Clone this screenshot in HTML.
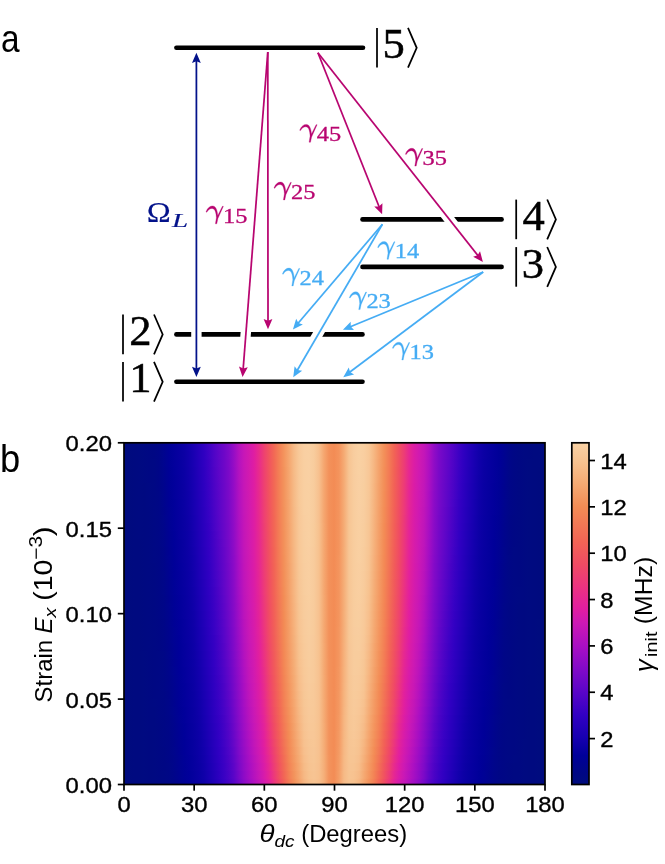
<!DOCTYPE html>
<html><head><meta charset="utf-8"><title>figure</title>
<style>html,body{margin:0;padding:0;background:#fff}body{width:665px;height:864px;overflow:hidden;font-family:"Liberation Sans",sans-serif}</style>
</head><body>

<svg width="665" height="864" viewBox="0 0 665 864" style="display:block;will-change:transform">
<defs>
<linearGradient id="g0" x1="0" x2="1" y1="0" y2="0"><stop offset="0.0000" stop-color="#000b7f"/><stop offset="0.0119" stop-color="#000b7f"/><stop offset="0.0238" stop-color="#000a80"/><stop offset="0.0356" stop-color="#000a81"/><stop offset="0.0475" stop-color="#000982"/><stop offset="0.0594" stop-color="#000883"/><stop offset="0.0713" stop-color="#000784"/><stop offset="0.0831" stop-color="#000687"/><stop offset="0.0950" stop-color="#00038f"/><stop offset="0.1069" stop-color="#000197"/><stop offset="0.1188" stop-color="#03009c"/><stop offset="0.1306" stop-color="#0700a0"/><stop offset="0.1425" stop-color="#0b00a5"/><stop offset="0.1544" stop-color="#1200ac"/><stop offset="0.1663" stop-color="#1b00b3"/><stop offset="0.1781" stop-color="#2500ba"/><stop offset="0.1900" stop-color="#3000c1"/><stop offset="0.2019" stop-color="#3f02c5"/><stop offset="0.2138" stop-color="#5004c7"/><stop offset="0.2257" stop-color="#6006c8"/><stop offset="0.2375" stop-color="#6e07c8"/><stop offset="0.2494" stop-color="#7e0ac8"/><stop offset="0.2613" stop-color="#980dc5"/><stop offset="0.2732" stop-color="#b512be"/><stop offset="0.2850" stop-color="#c717b7"/><stop offset="0.2969" stop-color="#d31aae"/><stop offset="0.3088" stop-color="#df1ea2"/><stop offset="0.3207" stop-color="#e82c8b"/><stop offset="0.3325" stop-color="#ee4170"/><stop offset="0.3444" stop-color="#f1545f"/><stop offset="0.3563" stop-color="#f26955"/><stop offset="0.3682" stop-color="#f38055"/><stop offset="0.3800" stop-color="#f4945d"/><stop offset="0.3919" stop-color="#f5a770"/><stop offset="0.4038" stop-color="#f6bb88"/><stop offset="0.4157" stop-color="#f8c99a"/><stop offset="0.4276" stop-color="#f9cfa2"/><stop offset="0.4394" stop-color="#f9d0a3"/><stop offset="0.4513" stop-color="#f8cc9d"/><stop offset="0.4632" stop-color="#f7c08e"/><stop offset="0.4751" stop-color="#f5a66f"/><stop offset="0.4869" stop-color="#f3915a"/><stop offset="0.4988" stop-color="#f38c55"/><stop offset="0.5107" stop-color="#f4945d"/><stop offset="0.5226" stop-color="#f5ab74"/><stop offset="0.5344" stop-color="#f7c593"/><stop offset="0.5463" stop-color="#f8cd9f"/><stop offset="0.5582" stop-color="#f9d1a3"/><stop offset="0.5701" stop-color="#f9cfa0"/><stop offset="0.5819" stop-color="#f8c897"/><stop offset="0.5938" stop-color="#f6b782"/><stop offset="0.6057" stop-color="#f5a36c"/><stop offset="0.6176" stop-color="#f39059"/><stop offset="0.6295" stop-color="#f37c55"/><stop offset="0.6413" stop-color="#f26455"/><stop offset="0.6532" stop-color="#f05061"/><stop offset="0.6651" stop-color="#ed3d75"/><stop offset="0.6770" stop-color="#e62891"/><stop offset="0.6888" stop-color="#dc1da5"/><stop offset="0.7007" stop-color="#d01ab1"/><stop offset="0.7126" stop-color="#c416b8"/><stop offset="0.7245" stop-color="#b011c1"/><stop offset="0.7363" stop-color="#920cc6"/><stop offset="0.7482" stop-color="#7b09c8"/><stop offset="0.7601" stop-color="#6b07c8"/><stop offset="0.7720" stop-color="#5d05c8"/><stop offset="0.7838" stop-color="#4e03c6"/><stop offset="0.7957" stop-color="#3d01c4"/><stop offset="0.8076" stop-color="#2e00c0"/><stop offset="0.8195" stop-color="#2400b9"/><stop offset="0.8314" stop-color="#1a00b3"/><stop offset="0.8432" stop-color="#1100ab"/><stop offset="0.8551" stop-color="#0b00a4"/><stop offset="0.8670" stop-color="#0700a0"/><stop offset="0.8789" stop-color="#03009d"/><stop offset="0.8907" stop-color="#000098"/><stop offset="0.9026" stop-color="#000391"/><stop offset="0.9145" stop-color="#00058a"/><stop offset="0.9264" stop-color="#000785"/><stop offset="0.9382" stop-color="#000883"/><stop offset="0.9501" stop-color="#000982"/><stop offset="0.9620" stop-color="#000981"/><stop offset="0.9739" stop-color="#000a80"/><stop offset="0.9857" stop-color="#000a80"/><stop offset="0.9976" stop-color="#000b7f"/><stop offset="1.0000" stop-color="#000b7f"/></linearGradient>
<linearGradient id="g1" x1="0" x2="1" y1="0" y2="0"><stop offset="0.0000" stop-color="#000b7f"/><stop offset="0.0119" stop-color="#000b7f"/><stop offset="0.0238" stop-color="#000a80"/><stop offset="0.0356" stop-color="#000a81"/><stop offset="0.0475" stop-color="#000982"/><stop offset="0.0594" stop-color="#000883"/><stop offset="0.0713" stop-color="#000784"/><stop offset="0.0831" stop-color="#000687"/><stop offset="0.0950" stop-color="#00048f"/><stop offset="0.1069" stop-color="#000197"/><stop offset="0.1188" stop-color="#03009c"/><stop offset="0.1306" stop-color="#0700a0"/><stop offset="0.1425" stop-color="#0b00a4"/><stop offset="0.1544" stop-color="#1100ab"/><stop offset="0.1663" stop-color="#1a00b3"/><stop offset="0.1781" stop-color="#2500ba"/><stop offset="0.1900" stop-color="#2f00c1"/><stop offset="0.2019" stop-color="#3e02c5"/><stop offset="0.2138" stop-color="#4f04c7"/><stop offset="0.2257" stop-color="#5f06c8"/><stop offset="0.2375" stop-color="#6d07c8"/><stop offset="0.2494" stop-color="#7e0ac8"/><stop offset="0.2613" stop-color="#970dc5"/><stop offset="0.2732" stop-color="#b412bf"/><stop offset="0.2850" stop-color="#c717b7"/><stop offset="0.2969" stop-color="#d21aaf"/><stop offset="0.3088" stop-color="#df1da2"/><stop offset="0.3207" stop-color="#e82c8b"/><stop offset="0.3325" stop-color="#ee4170"/><stop offset="0.3444" stop-color="#f1545f"/><stop offset="0.3563" stop-color="#f26955"/><stop offset="0.3682" stop-color="#f38055"/><stop offset="0.3800" stop-color="#f4945d"/><stop offset="0.3919" stop-color="#f5a770"/><stop offset="0.4038" stop-color="#f6bb87"/><stop offset="0.4157" stop-color="#f8c999"/><stop offset="0.4276" stop-color="#f9cfa2"/><stop offset="0.4394" stop-color="#f9d0a3"/><stop offset="0.4513" stop-color="#f8cc9d"/><stop offset="0.4632" stop-color="#f7c08e"/><stop offset="0.4751" stop-color="#f5a66f"/><stop offset="0.4869" stop-color="#f3915a"/><stop offset="0.4988" stop-color="#f38c55"/><stop offset="0.5107" stop-color="#f4945d"/><stop offset="0.5226" stop-color="#f5ab74"/><stop offset="0.5344" stop-color="#f7c593"/><stop offset="0.5463" stop-color="#f8cd9f"/><stop offset="0.5582" stop-color="#f9d1a3"/><stop offset="0.5701" stop-color="#f9cea0"/><stop offset="0.5819" stop-color="#f8c897"/><stop offset="0.5938" stop-color="#f6b782"/><stop offset="0.6057" stop-color="#f5a36c"/><stop offset="0.6176" stop-color="#f39059"/><stop offset="0.6295" stop-color="#f37b55"/><stop offset="0.6413" stop-color="#f26455"/><stop offset="0.6532" stop-color="#f05061"/><stop offset="0.6651" stop-color="#ed3d75"/><stop offset="0.6770" stop-color="#e62891"/><stop offset="0.6888" stop-color="#dc1da5"/><stop offset="0.7007" stop-color="#d01ab1"/><stop offset="0.7126" stop-color="#c416b8"/><stop offset="0.7245" stop-color="#af10c1"/><stop offset="0.7363" stop-color="#910cc6"/><stop offset="0.7482" stop-color="#7a09c8"/><stop offset="0.7601" stop-color="#6b07c8"/><stop offset="0.7720" stop-color="#5d05c8"/><stop offset="0.7838" stop-color="#4d03c6"/><stop offset="0.7957" stop-color="#3c01c4"/><stop offset="0.8076" stop-color="#2e00c0"/><stop offset="0.8195" stop-color="#2300b9"/><stop offset="0.8314" stop-color="#1900b2"/><stop offset="0.8432" stop-color="#1100aa"/><stop offset="0.8551" stop-color="#0b00a4"/><stop offset="0.8670" stop-color="#0700a0"/><stop offset="0.8789" stop-color="#03009c"/><stop offset="0.8907" stop-color="#000098"/><stop offset="0.9026" stop-color="#000391"/><stop offset="0.9145" stop-color="#000689"/><stop offset="0.9264" stop-color="#000785"/><stop offset="0.9382" stop-color="#000883"/><stop offset="0.9501" stop-color="#000982"/><stop offset="0.9620" stop-color="#000981"/><stop offset="0.9739" stop-color="#000a80"/><stop offset="0.9857" stop-color="#000a80"/><stop offset="0.9976" stop-color="#000b7f"/><stop offset="1.0000" stop-color="#000b7f"/></linearGradient>
<linearGradient id="g2" x1="0" x2="1" y1="0" y2="0"><stop offset="0.0000" stop-color="#000b7f"/><stop offset="0.0119" stop-color="#000b7f"/><stop offset="0.0238" stop-color="#000a80"/><stop offset="0.0356" stop-color="#000a81"/><stop offset="0.0475" stop-color="#000982"/><stop offset="0.0594" stop-color="#000883"/><stop offset="0.0713" stop-color="#000884"/><stop offset="0.0831" stop-color="#000687"/><stop offset="0.0950" stop-color="#00048f"/><stop offset="0.1069" stop-color="#000197"/><stop offset="0.1188" stop-color="#03009c"/><stop offset="0.1306" stop-color="#0600a0"/><stop offset="0.1425" stop-color="#0b00a4"/><stop offset="0.1544" stop-color="#1100ab"/><stop offset="0.1663" stop-color="#1a00b3"/><stop offset="0.1781" stop-color="#2400ba"/><stop offset="0.1900" stop-color="#2f00c1"/><stop offset="0.2019" stop-color="#3d01c4"/><stop offset="0.2138" stop-color="#4f04c7"/><stop offset="0.2257" stop-color="#5e06c8"/><stop offset="0.2375" stop-color="#6d07c8"/><stop offset="0.2494" stop-color="#7e09c8"/><stop offset="0.2613" stop-color="#970dc5"/><stop offset="0.2732" stop-color="#b412bf"/><stop offset="0.2850" stop-color="#c717b7"/><stop offset="0.2969" stop-color="#d21aaf"/><stop offset="0.3088" stop-color="#df1da2"/><stop offset="0.3207" stop-color="#e82c8c"/><stop offset="0.3325" stop-color="#ee4171"/><stop offset="0.3444" stop-color="#f1545f"/><stop offset="0.3563" stop-color="#f26855"/><stop offset="0.3682" stop-color="#f38055"/><stop offset="0.3800" stop-color="#f4945d"/><stop offset="0.3919" stop-color="#f5a770"/><stop offset="0.4038" stop-color="#f6bb87"/><stop offset="0.4157" stop-color="#f8c999"/><stop offset="0.4276" stop-color="#f9cfa1"/><stop offset="0.4394" stop-color="#f9d0a3"/><stop offset="0.4513" stop-color="#f8cc9d"/><stop offset="0.4632" stop-color="#f7c08e"/><stop offset="0.4751" stop-color="#f5a66f"/><stop offset="0.4869" stop-color="#f3915a"/><stop offset="0.4988" stop-color="#f38c55"/><stop offset="0.5107" stop-color="#f4945d"/><stop offset="0.5226" stop-color="#f5ab74"/><stop offset="0.5344" stop-color="#f7c593"/><stop offset="0.5463" stop-color="#f8cd9f"/><stop offset="0.5582" stop-color="#f9d1a3"/><stop offset="0.5701" stop-color="#f9cea0"/><stop offset="0.5819" stop-color="#f8c797"/><stop offset="0.5938" stop-color="#f6b682"/><stop offset="0.6057" stop-color="#f4a26b"/><stop offset="0.6176" stop-color="#f39059"/><stop offset="0.6295" stop-color="#f37b55"/><stop offset="0.6413" stop-color="#f26455"/><stop offset="0.6532" stop-color="#f05061"/><stop offset="0.6651" stop-color="#ed3c76"/><stop offset="0.6770" stop-color="#e62792"/><stop offset="0.6888" stop-color="#dc1da5"/><stop offset="0.7007" stop-color="#d01ab1"/><stop offset="0.7126" stop-color="#c316b8"/><stop offset="0.7245" stop-color="#ae10c1"/><stop offset="0.7363" stop-color="#900cc6"/><stop offset="0.7482" stop-color="#7a09c8"/><stop offset="0.7601" stop-color="#6a07c8"/><stop offset="0.7720" stop-color="#5c05c8"/><stop offset="0.7838" stop-color="#4c03c6"/><stop offset="0.7957" stop-color="#3b01c4"/><stop offset="0.8076" stop-color="#2d00c0"/><stop offset="0.8195" stop-color="#2300b9"/><stop offset="0.8314" stop-color="#1900b2"/><stop offset="0.8432" stop-color="#1000aa"/><stop offset="0.8551" stop-color="#0a00a4"/><stop offset="0.8670" stop-color="#0600a0"/><stop offset="0.8789" stop-color="#03009c"/><stop offset="0.8907" stop-color="#000098"/><stop offset="0.9026" stop-color="#000391"/><stop offset="0.9145" stop-color="#000689"/><stop offset="0.9264" stop-color="#000785"/><stop offset="0.9382" stop-color="#000883"/><stop offset="0.9501" stop-color="#000982"/><stop offset="0.9620" stop-color="#000a81"/><stop offset="0.9739" stop-color="#000a80"/><stop offset="0.9857" stop-color="#000a80"/><stop offset="0.9976" stop-color="#000b7f"/><stop offset="1.0000" stop-color="#000b7f"/></linearGradient>
<linearGradient id="g3" x1="0" x2="1" y1="0" y2="0"><stop offset="0.0000" stop-color="#000b7f"/><stop offset="0.0119" stop-color="#000b7f"/><stop offset="0.0238" stop-color="#000a80"/><stop offset="0.0356" stop-color="#000a81"/><stop offset="0.0475" stop-color="#000982"/><stop offset="0.0594" stop-color="#000883"/><stop offset="0.0713" stop-color="#000884"/><stop offset="0.0831" stop-color="#000687"/><stop offset="0.0950" stop-color="#00048e"/><stop offset="0.1069" stop-color="#000196"/><stop offset="0.1188" stop-color="#02009c"/><stop offset="0.1306" stop-color="#0600a0"/><stop offset="0.1425" stop-color="#0a00a4"/><stop offset="0.1544" stop-color="#1100aa"/><stop offset="0.1663" stop-color="#1900b2"/><stop offset="0.1781" stop-color="#2400b9"/><stop offset="0.1900" stop-color="#2e00c0"/><stop offset="0.2019" stop-color="#3d01c4"/><stop offset="0.2138" stop-color="#4e03c6"/><stop offset="0.2257" stop-color="#5e05c8"/><stop offset="0.2375" stop-color="#6c07c8"/><stop offset="0.2494" stop-color="#7d09c8"/><stop offset="0.2613" stop-color="#960cc6"/><stop offset="0.2732" stop-color="#b312bf"/><stop offset="0.2850" stop-color="#c617b7"/><stop offset="0.2969" stop-color="#d21aaf"/><stop offset="0.3088" stop-color="#df1da2"/><stop offset="0.3207" stop-color="#e82b8c"/><stop offset="0.3325" stop-color="#ee4071"/><stop offset="0.3444" stop-color="#f1545f"/><stop offset="0.3563" stop-color="#f26855"/><stop offset="0.3682" stop-color="#f38055"/><stop offset="0.3800" stop-color="#f3935c"/><stop offset="0.3919" stop-color="#f5a66f"/><stop offset="0.4038" stop-color="#f6bb87"/><stop offset="0.4157" stop-color="#f8c999"/><stop offset="0.4276" stop-color="#f9cfa1"/><stop offset="0.4394" stop-color="#f9d0a3"/><stop offset="0.4513" stop-color="#f8cc9d"/><stop offset="0.4632" stop-color="#f7c08e"/><stop offset="0.4751" stop-color="#f5a66f"/><stop offset="0.4869" stop-color="#f3915a"/><stop offset="0.4988" stop-color="#f38c55"/><stop offset="0.5107" stop-color="#f4945d"/><stop offset="0.5226" stop-color="#f5ab74"/><stop offset="0.5344" stop-color="#f7c593"/><stop offset="0.5463" stop-color="#f8cd9f"/><stop offset="0.5582" stop-color="#f9d1a3"/><stop offset="0.5701" stop-color="#f8cea0"/><stop offset="0.5819" stop-color="#f8c797"/><stop offset="0.5938" stop-color="#f6b681"/><stop offset="0.6057" stop-color="#f4a26b"/><stop offset="0.6176" stop-color="#f38f58"/><stop offset="0.6295" stop-color="#f37b55"/><stop offset="0.6413" stop-color="#f26355"/><stop offset="0.6532" stop-color="#f04f61"/><stop offset="0.6651" stop-color="#ed3c76"/><stop offset="0.6770" stop-color="#e62792"/><stop offset="0.6888" stop-color="#db1da6"/><stop offset="0.7007" stop-color="#d01ab1"/><stop offset="0.7126" stop-color="#c316b8"/><stop offset="0.7245" stop-color="#ae10c1"/><stop offset="0.7363" stop-color="#900cc6"/><stop offset="0.7482" stop-color="#7909c8"/><stop offset="0.7601" stop-color="#6a07c8"/><stop offset="0.7720" stop-color="#5b05c8"/><stop offset="0.7838" stop-color="#4b03c6"/><stop offset="0.7957" stop-color="#3a01c4"/><stop offset="0.8076" stop-color="#2d00bf"/><stop offset="0.8195" stop-color="#2200b8"/><stop offset="0.8314" stop-color="#1800b2"/><stop offset="0.8432" stop-color="#1000aa"/><stop offset="0.8551" stop-color="#0a00a3"/><stop offset="0.8670" stop-color="#0600a0"/><stop offset="0.8789" stop-color="#03009c"/><stop offset="0.8907" stop-color="#000197"/><stop offset="0.9026" stop-color="#000390"/><stop offset="0.9145" stop-color="#000689"/><stop offset="0.9264" stop-color="#000785"/><stop offset="0.9382" stop-color="#000883"/><stop offset="0.9501" stop-color="#000982"/><stop offset="0.9620" stop-color="#000a81"/><stop offset="0.9739" stop-color="#000a80"/><stop offset="0.9857" stop-color="#000a7f"/><stop offset="0.9976" stop-color="#000b7f"/><stop offset="1.0000" stop-color="#000b7f"/></linearGradient>
<linearGradient id="g4" x1="0" x2="1" y1="0" y2="0"><stop offset="0.0000" stop-color="#000b7f"/><stop offset="0.0119" stop-color="#000b7f"/><stop offset="0.0238" stop-color="#000a80"/><stop offset="0.0356" stop-color="#000a81"/><stop offset="0.0475" stop-color="#000982"/><stop offset="0.0594" stop-color="#000883"/><stop offset="0.0713" stop-color="#000884"/><stop offset="0.0831" stop-color="#000687"/><stop offset="0.0950" stop-color="#00048e"/><stop offset="0.1069" stop-color="#000196"/><stop offset="0.1188" stop-color="#02009b"/><stop offset="0.1306" stop-color="#06009f"/><stop offset="0.1425" stop-color="#0a00a4"/><stop offset="0.1544" stop-color="#1000aa"/><stop offset="0.1663" stop-color="#1900b2"/><stop offset="0.1781" stop-color="#2300b9"/><stop offset="0.1900" stop-color="#2e00c0"/><stop offset="0.2019" stop-color="#3c01c4"/><stop offset="0.2138" stop-color="#4d03c6"/><stop offset="0.2257" stop-color="#5d05c8"/><stop offset="0.2375" stop-color="#6c07c8"/><stop offset="0.2494" stop-color="#7d09c8"/><stop offset="0.2613" stop-color="#950cc6"/><stop offset="0.2732" stop-color="#b312bf"/><stop offset="0.2850" stop-color="#c617b7"/><stop offset="0.2969" stop-color="#d21aaf"/><stop offset="0.3088" stop-color="#de1da3"/><stop offset="0.3207" stop-color="#e82b8c"/><stop offset="0.3325" stop-color="#ee4071"/><stop offset="0.3444" stop-color="#f1535f"/><stop offset="0.3563" stop-color="#f26855"/><stop offset="0.3682" stop-color="#f37f55"/><stop offset="0.3800" stop-color="#f3935c"/><stop offset="0.3919" stop-color="#f5a66f"/><stop offset="0.4038" stop-color="#f6ba87"/><stop offset="0.4157" stop-color="#f8c999"/><stop offset="0.4276" stop-color="#f9cfa1"/><stop offset="0.4394" stop-color="#f9d0a3"/><stop offset="0.4513" stop-color="#f8cc9d"/><stop offset="0.4632" stop-color="#f7c08e"/><stop offset="0.4751" stop-color="#f5a66f"/><stop offset="0.4869" stop-color="#f3915a"/><stop offset="0.4988" stop-color="#f38c55"/><stop offset="0.5107" stop-color="#f4945d"/><stop offset="0.5226" stop-color="#f5ab74"/><stop offset="0.5344" stop-color="#f7c594"/><stop offset="0.5463" stop-color="#f8cd9f"/><stop offset="0.5582" stop-color="#f9d0a3"/><stop offset="0.5701" stop-color="#f8cea0"/><stop offset="0.5819" stop-color="#f8c796"/><stop offset="0.5938" stop-color="#f6b681"/><stop offset="0.6057" stop-color="#f4a26b"/><stop offset="0.6176" stop-color="#f38f58"/><stop offset="0.6295" stop-color="#f37a55"/><stop offset="0.6413" stop-color="#f26356"/><stop offset="0.6532" stop-color="#f04f62"/><stop offset="0.6651" stop-color="#ed3c76"/><stop offset="0.6770" stop-color="#e52793"/><stop offset="0.6888" stop-color="#db1da6"/><stop offset="0.7007" stop-color="#cf1ab2"/><stop offset="0.7126" stop-color="#c316b8"/><stop offset="0.7245" stop-color="#ad10c2"/><stop offset="0.7363" stop-color="#8f0cc6"/><stop offset="0.7482" stop-color="#7909c8"/><stop offset="0.7601" stop-color="#6907c8"/><stop offset="0.7720" stop-color="#5a05c8"/><stop offset="0.7838" stop-color="#4a03c6"/><stop offset="0.7957" stop-color="#3901c4"/><stop offset="0.8076" stop-color="#2c00bf"/><stop offset="0.8195" stop-color="#2200b8"/><stop offset="0.8314" stop-color="#1800b1"/><stop offset="0.8432" stop-color="#0f00a9"/><stop offset="0.8551" stop-color="#0a00a3"/><stop offset="0.8670" stop-color="#06009f"/><stop offset="0.8789" stop-color="#03009c"/><stop offset="0.8907" stop-color="#000197"/><stop offset="0.9026" stop-color="#000390"/><stop offset="0.9145" stop-color="#000688"/><stop offset="0.9264" stop-color="#000785"/><stop offset="0.9382" stop-color="#000883"/><stop offset="0.9501" stop-color="#000982"/><stop offset="0.9620" stop-color="#000a81"/><stop offset="0.9739" stop-color="#000a80"/><stop offset="0.9857" stop-color="#000a7f"/><stop offset="0.9976" stop-color="#000b7f"/><stop offset="1.0000" stop-color="#000b7f"/></linearGradient>
<linearGradient id="g5" x1="0" x2="1" y1="0" y2="0"><stop offset="0.0000" stop-color="#000b7f"/><stop offset="0.0119" stop-color="#000b7f"/><stop offset="0.0238" stop-color="#000a80"/><stop offset="0.0356" stop-color="#000a81"/><stop offset="0.0475" stop-color="#000981"/><stop offset="0.0594" stop-color="#000983"/><stop offset="0.0713" stop-color="#000884"/><stop offset="0.0831" stop-color="#000687"/><stop offset="0.0950" stop-color="#00048d"/><stop offset="0.1069" stop-color="#000196"/><stop offset="0.1188" stop-color="#02009b"/><stop offset="0.1306" stop-color="#06009f"/><stop offset="0.1425" stop-color="#0a00a3"/><stop offset="0.1544" stop-color="#1000aa"/><stop offset="0.1663" stop-color="#1800b2"/><stop offset="0.1781" stop-color="#2300b8"/><stop offset="0.1900" stop-color="#2d00c0"/><stop offset="0.2019" stop-color="#3b01c4"/><stop offset="0.2138" stop-color="#4c03c6"/><stop offset="0.2257" stop-color="#5c05c8"/><stop offset="0.2375" stop-color="#6b07c8"/><stop offset="0.2494" stop-color="#7c09c8"/><stop offset="0.2613" stop-color="#950cc6"/><stop offset="0.2732" stop-color="#b211bf"/><stop offset="0.2850" stop-color="#c617b7"/><stop offset="0.2969" stop-color="#d21aaf"/><stop offset="0.3088" stop-color="#de1da3"/><stop offset="0.3207" stop-color="#e72b8d"/><stop offset="0.3325" stop-color="#ee4071"/><stop offset="0.3444" stop-color="#f1535f"/><stop offset="0.3563" stop-color="#f26855"/><stop offset="0.3682" stop-color="#f37f55"/><stop offset="0.3800" stop-color="#f3935c"/><stop offset="0.3919" stop-color="#f5a66f"/><stop offset="0.4038" stop-color="#f6ba86"/><stop offset="0.4157" stop-color="#f8c999"/><stop offset="0.4276" stop-color="#f9cfa1"/><stop offset="0.4394" stop-color="#f9d0a2"/><stop offset="0.4513" stop-color="#f8cc9d"/><stop offset="0.4632" stop-color="#f7c08e"/><stop offset="0.4751" stop-color="#f5a66f"/><stop offset="0.4869" stop-color="#f3915a"/><stop offset="0.4988" stop-color="#f38c55"/><stop offset="0.5107" stop-color="#f4945d"/><stop offset="0.5226" stop-color="#f5ab75"/><stop offset="0.5344" stop-color="#f7c594"/><stop offset="0.5463" stop-color="#f8cd9f"/><stop offset="0.5582" stop-color="#f9d0a3"/><stop offset="0.5701" stop-color="#f8ce9f"/><stop offset="0.5819" stop-color="#f8c796"/><stop offset="0.5938" stop-color="#f6b580"/><stop offset="0.6057" stop-color="#f4a16a"/><stop offset="0.6176" stop-color="#f38f58"/><stop offset="0.6295" stop-color="#f37a55"/><stop offset="0.6413" stop-color="#f26256"/><stop offset="0.6532" stop-color="#f04f62"/><stop offset="0.6651" stop-color="#ed3b77"/><stop offset="0.6770" stop-color="#e52693"/><stop offset="0.6888" stop-color="#db1ca6"/><stop offset="0.7007" stop-color="#cf1ab2"/><stop offset="0.7126" stop-color="#c216b9"/><stop offset="0.7245" stop-color="#ac10c2"/><stop offset="0.7363" stop-color="#8e0cc6"/><stop offset="0.7482" stop-color="#7809c8"/><stop offset="0.7601" stop-color="#6807c8"/><stop offset="0.7720" stop-color="#5905c8"/><stop offset="0.7838" stop-color="#4903c6"/><stop offset="0.7957" stop-color="#3801c4"/><stop offset="0.8076" stop-color="#2b00be"/><stop offset="0.8195" stop-color="#2100b7"/><stop offset="0.8314" stop-color="#1700b1"/><stop offset="0.8432" stop-color="#0f00a9"/><stop offset="0.8551" stop-color="#0900a3"/><stop offset="0.8670" stop-color="#06009f"/><stop offset="0.8789" stop-color="#02009b"/><stop offset="0.8907" stop-color="#000197"/><stop offset="0.9026" stop-color="#00038f"/><stop offset="0.9145" stop-color="#000688"/><stop offset="0.9264" stop-color="#000785"/><stop offset="0.9382" stop-color="#000883"/><stop offset="0.9501" stop-color="#000982"/><stop offset="0.9620" stop-color="#000a81"/><stop offset="0.9739" stop-color="#000a80"/><stop offset="0.9857" stop-color="#000a7f"/><stop offset="0.9976" stop-color="#000b7f"/><stop offset="1.0000" stop-color="#000b7f"/></linearGradient>
<linearGradient id="g6" x1="0" x2="1" y1="0" y2="0"><stop offset="0.0000" stop-color="#000b7f"/><stop offset="0.0119" stop-color="#000b7f"/><stop offset="0.0238" stop-color="#000a80"/><stop offset="0.0356" stop-color="#000a81"/><stop offset="0.0475" stop-color="#000981"/><stop offset="0.0594" stop-color="#000983"/><stop offset="0.0713" stop-color="#000884"/><stop offset="0.0831" stop-color="#000786"/><stop offset="0.0950" stop-color="#00048d"/><stop offset="0.1069" stop-color="#000195"/><stop offset="0.1188" stop-color="#02009b"/><stop offset="0.1306" stop-color="#06009f"/><stop offset="0.1425" stop-color="#0a00a3"/><stop offset="0.1544" stop-color="#0f00a9"/><stop offset="0.1663" stop-color="#1800b1"/><stop offset="0.1781" stop-color="#2200b8"/><stop offset="0.1900" stop-color="#2c00bf"/><stop offset="0.2019" stop-color="#3a01c4"/><stop offset="0.2138" stop-color="#4b03c6"/><stop offset="0.2257" stop-color="#5b05c8"/><stop offset="0.2375" stop-color="#6b07c8"/><stop offset="0.2494" stop-color="#7c09c8"/><stop offset="0.2613" stop-color="#940cc6"/><stop offset="0.2732" stop-color="#b211c0"/><stop offset="0.2850" stop-color="#c517b7"/><stop offset="0.2969" stop-color="#d11ab0"/><stop offset="0.3088" stop-color="#de1da3"/><stop offset="0.3207" stop-color="#e72a8d"/><stop offset="0.3325" stop-color="#ee4072"/><stop offset="0.3444" stop-color="#f1535f"/><stop offset="0.3563" stop-color="#f26755"/><stop offset="0.3682" stop-color="#f37f55"/><stop offset="0.3800" stop-color="#f3935c"/><stop offset="0.3919" stop-color="#f5a66f"/><stop offset="0.4038" stop-color="#f6ba86"/><stop offset="0.4157" stop-color="#f8c999"/><stop offset="0.4276" stop-color="#f9cfa1"/><stop offset="0.4394" stop-color="#f9d0a2"/><stop offset="0.4513" stop-color="#f8cc9d"/><stop offset="0.4632" stop-color="#f7c08e"/><stop offset="0.4751" stop-color="#f5a66f"/><stop offset="0.4869" stop-color="#f3915a"/><stop offset="0.4988" stop-color="#f38c55"/><stop offset="0.5107" stop-color="#f4945d"/><stop offset="0.5226" stop-color="#f5ab75"/><stop offset="0.5344" stop-color="#f7c594"/><stop offset="0.5463" stop-color="#f8cd9e"/><stop offset="0.5582" stop-color="#f9d0a3"/><stop offset="0.5701" stop-color="#f8ce9f"/><stop offset="0.5819" stop-color="#f7c796"/><stop offset="0.5938" stop-color="#f6b580"/><stop offset="0.6057" stop-color="#f4a16a"/><stop offset="0.6176" stop-color="#f38e57"/><stop offset="0.6295" stop-color="#f37955"/><stop offset="0.6413" stop-color="#f26256"/><stop offset="0.6532" stop-color="#f04e62"/><stop offset="0.6651" stop-color="#ed3b77"/><stop offset="0.6770" stop-color="#e52694"/><stop offset="0.6888" stop-color="#da1ca7"/><stop offset="0.7007" stop-color="#cf19b2"/><stop offset="0.7126" stop-color="#c216b9"/><stop offset="0.7245" stop-color="#ab0fc2"/><stop offset="0.7363" stop-color="#8d0bc7"/><stop offset="0.7482" stop-color="#7809c8"/><stop offset="0.7601" stop-color="#6707c8"/><stop offset="0.7720" stop-color="#5805c8"/><stop offset="0.7838" stop-color="#4803c6"/><stop offset="0.7957" stop-color="#3701c4"/><stop offset="0.8076" stop-color="#2b00be"/><stop offset="0.8195" stop-color="#2000b7"/><stop offset="0.8314" stop-color="#1700b1"/><stop offset="0.8432" stop-color="#0f00a8"/><stop offset="0.8551" stop-color="#0900a3"/><stop offset="0.8670" stop-color="#06009f"/><stop offset="0.8789" stop-color="#02009b"/><stop offset="0.8907" stop-color="#000196"/><stop offset="0.9026" stop-color="#00038f"/><stop offset="0.9145" stop-color="#000688"/><stop offset="0.9264" stop-color="#000785"/><stop offset="0.9382" stop-color="#000883"/><stop offset="0.9501" stop-color="#000982"/><stop offset="0.9620" stop-color="#000a81"/><stop offset="0.9739" stop-color="#000a80"/><stop offset="0.9857" stop-color="#000a7f"/><stop offset="0.9976" stop-color="#000b7f"/><stop offset="1.0000" stop-color="#000b7f"/></linearGradient>
<linearGradient id="g7" x1="0" x2="1" y1="0" y2="0"><stop offset="0.0000" stop-color="#000b7f"/><stop offset="0.0119" stop-color="#000b7f"/><stop offset="0.0238" stop-color="#000a80"/><stop offset="0.0356" stop-color="#000a81"/><stop offset="0.0475" stop-color="#000981"/><stop offset="0.0594" stop-color="#000983"/><stop offset="0.0713" stop-color="#000884"/><stop offset="0.0831" stop-color="#000786"/><stop offset="0.0950" stop-color="#00048d"/><stop offset="0.1069" stop-color="#000195"/><stop offset="0.1188" stop-color="#01009a"/><stop offset="0.1306" stop-color="#05009f"/><stop offset="0.1425" stop-color="#0900a3"/><stop offset="0.1544" stop-color="#0f00a9"/><stop offset="0.1663" stop-color="#1700b1"/><stop offset="0.1781" stop-color="#2100b8"/><stop offset="0.1900" stop-color="#2c00bf"/><stop offset="0.2019" stop-color="#3901c4"/><stop offset="0.2138" stop-color="#4a03c6"/><stop offset="0.2257" stop-color="#5a05c8"/><stop offset="0.2375" stop-color="#6a07c8"/><stop offset="0.2494" stop-color="#7b09c8"/><stop offset="0.2613" stop-color="#930cc6"/><stop offset="0.2732" stop-color="#b111c0"/><stop offset="0.2850" stop-color="#c517b7"/><stop offset="0.2969" stop-color="#d11ab0"/><stop offset="0.3088" stop-color="#de1da3"/><stop offset="0.3207" stop-color="#e72a8e"/><stop offset="0.3325" stop-color="#ee3f72"/><stop offset="0.3444" stop-color="#f1535f"/><stop offset="0.3563" stop-color="#f26755"/><stop offset="0.3682" stop-color="#f37e55"/><stop offset="0.3800" stop-color="#f3935c"/><stop offset="0.3919" stop-color="#f5a56e"/><stop offset="0.4038" stop-color="#f6ba86"/><stop offset="0.4157" stop-color="#f8c998"/><stop offset="0.4276" stop-color="#f9cfa1"/><stop offset="0.4394" stop-color="#f9d0a2"/><stop offset="0.4513" stop-color="#f8cc9d"/><stop offset="0.4632" stop-color="#f7c08e"/><stop offset="0.4751" stop-color="#f5a66f"/><stop offset="0.4869" stop-color="#f3915a"/><stop offset="0.4988" stop-color="#f38c55"/><stop offset="0.5107" stop-color="#f4945d"/><stop offset="0.5226" stop-color="#f5ac75"/><stop offset="0.5344" stop-color="#f7c594"/><stop offset="0.5463" stop-color="#f8cd9e"/><stop offset="0.5582" stop-color="#f9d0a3"/><stop offset="0.5701" stop-color="#f8ce9f"/><stop offset="0.5819" stop-color="#f7c696"/><stop offset="0.5938" stop-color="#f6b47f"/><stop offset="0.6057" stop-color="#f4a16a"/><stop offset="0.6176" stop-color="#f38e57"/><stop offset="0.6295" stop-color="#f37955"/><stop offset="0.6413" stop-color="#f26256"/><stop offset="0.6532" stop-color="#f04e62"/><stop offset="0.6651" stop-color="#ed3a78"/><stop offset="0.6770" stop-color="#e52695"/><stop offset="0.6888" stop-color="#da1ca7"/><stop offset="0.7007" stop-color="#cf19b2"/><stop offset="0.7126" stop-color="#c116b9"/><stop offset="0.7245" stop-color="#ab0fc3"/><stop offset="0.7363" stop-color="#8c0bc7"/><stop offset="0.7482" stop-color="#7709c8"/><stop offset="0.7601" stop-color="#6707c8"/><stop offset="0.7720" stop-color="#5705c8"/><stop offset="0.7838" stop-color="#4603c6"/><stop offset="0.7957" stop-color="#3600c3"/><stop offset="0.8076" stop-color="#2a00be"/><stop offset="0.8195" stop-color="#2000b7"/><stop offset="0.8314" stop-color="#1600b0"/><stop offset="0.8432" stop-color="#0e00a8"/><stop offset="0.8551" stop-color="#0900a2"/><stop offset="0.8670" stop-color="#05009f"/><stop offset="0.8789" stop-color="#02009b"/><stop offset="0.8907" stop-color="#000196"/><stop offset="0.9026" stop-color="#00048f"/><stop offset="0.9145" stop-color="#000688"/><stop offset="0.9264" stop-color="#000785"/><stop offset="0.9382" stop-color="#000883"/><stop offset="0.9501" stop-color="#000982"/><stop offset="0.9620" stop-color="#000a81"/><stop offset="0.9739" stop-color="#000a80"/><stop offset="0.9857" stop-color="#000a7f"/><stop offset="0.9976" stop-color="#000b7f"/><stop offset="1.0000" stop-color="#000b7f"/></linearGradient>
<linearGradient id="g8" x1="0" x2="1" y1="0" y2="0"><stop offset="0.0000" stop-color="#000b7f"/><stop offset="0.0119" stop-color="#000b7f"/><stop offset="0.0238" stop-color="#000a80"/><stop offset="0.0356" stop-color="#000a81"/><stop offset="0.0475" stop-color="#000981"/><stop offset="0.0594" stop-color="#000982"/><stop offset="0.0713" stop-color="#000884"/><stop offset="0.0831" stop-color="#000786"/><stop offset="0.0950" stop-color="#00048c"/><stop offset="0.1069" stop-color="#000294"/><stop offset="0.1188" stop-color="#01009a"/><stop offset="0.1306" stop-color="#05009e"/><stop offset="0.1425" stop-color="#0900a3"/><stop offset="0.1544" stop-color="#0f00a8"/><stop offset="0.1663" stop-color="#1700b1"/><stop offset="0.1781" stop-color="#2100b7"/><stop offset="0.1900" stop-color="#2b00be"/><stop offset="0.2019" stop-color="#3801c4"/><stop offset="0.2138" stop-color="#4903c6"/><stop offset="0.2257" stop-color="#5a05c8"/><stop offset="0.2375" stop-color="#6907c8"/><stop offset="0.2494" stop-color="#7b09c8"/><stop offset="0.2613" stop-color="#930cc6"/><stop offset="0.2732" stop-color="#b011c0"/><stop offset="0.2850" stop-color="#c417b8"/><stop offset="0.2969" stop-color="#d11ab0"/><stop offset="0.3088" stop-color="#dd1da4"/><stop offset="0.3207" stop-color="#e72a8e"/><stop offset="0.3325" stop-color="#ee3f73"/><stop offset="0.3444" stop-color="#f15260"/><stop offset="0.3563" stop-color="#f26755"/><stop offset="0.3682" stop-color="#f37e55"/><stop offset="0.3800" stop-color="#f3925b"/><stop offset="0.3919" stop-color="#f5a56e"/><stop offset="0.4038" stop-color="#f6b985"/><stop offset="0.4157" stop-color="#f8c898"/><stop offset="0.4276" stop-color="#f9cfa1"/><stop offset="0.4394" stop-color="#f9d0a2"/><stop offset="0.4513" stop-color="#f8cc9d"/><stop offset="0.4632" stop-color="#f7c08e"/><stop offset="0.4751" stop-color="#f5a66f"/><stop offset="0.4869" stop-color="#f3915a"/><stop offset="0.4988" stop-color="#f38c55"/><stop offset="0.5107" stop-color="#f4945d"/><stop offset="0.5226" stop-color="#f5ac75"/><stop offset="0.5344" stop-color="#f7c594"/><stop offset="0.5463" stop-color="#f8cd9e"/><stop offset="0.5582" stop-color="#f9d0a3"/><stop offset="0.5701" stop-color="#f8cd9f"/><stop offset="0.5819" stop-color="#f7c695"/><stop offset="0.5938" stop-color="#f6b47f"/><stop offset="0.6057" stop-color="#f4a069"/><stop offset="0.6176" stop-color="#f38d56"/><stop offset="0.6295" stop-color="#f37855"/><stop offset="0.6413" stop-color="#f26157"/><stop offset="0.6532" stop-color="#f04d63"/><stop offset="0.6651" stop-color="#ed3a79"/><stop offset="0.6770" stop-color="#e52595"/><stop offset="0.6888" stop-color="#da1ca7"/><stop offset="0.7007" stop-color="#ce19b3"/><stop offset="0.7126" stop-color="#c015b9"/><stop offset="0.7245" stop-color="#aa0fc3"/><stop offset="0.7363" stop-color="#8b0bc7"/><stop offset="0.7482" stop-color="#7609c8"/><stop offset="0.7601" stop-color="#6606c8"/><stop offset="0.7720" stop-color="#5604c7"/><stop offset="0.7838" stop-color="#4502c5"/><stop offset="0.7957" stop-color="#3500c3"/><stop offset="0.8076" stop-color="#2900bd"/><stop offset="0.8195" stop-color="#1f00b6"/><stop offset="0.8314" stop-color="#1600b0"/><stop offset="0.8432" stop-color="#0e00a7"/><stop offset="0.8551" stop-color="#0900a2"/><stop offset="0.8670" stop-color="#05009e"/><stop offset="0.8789" stop-color="#02009b"/><stop offset="0.8907" stop-color="#000196"/><stop offset="0.9026" stop-color="#00048e"/><stop offset="0.9145" stop-color="#000688"/><stop offset="0.9264" stop-color="#000785"/><stop offset="0.9382" stop-color="#000883"/><stop offset="0.9501" stop-color="#000982"/><stop offset="0.9620" stop-color="#000a81"/><stop offset="0.9739" stop-color="#000a80"/><stop offset="0.9857" stop-color="#000a7f"/><stop offset="0.9976" stop-color="#000b7f"/><stop offset="1.0000" stop-color="#000b7f"/></linearGradient>
<linearGradient id="g9" x1="0" x2="1" y1="0" y2="0"><stop offset="0.0000" stop-color="#000b7f"/><stop offset="0.0119" stop-color="#000b7f"/><stop offset="0.0238" stop-color="#000a80"/><stop offset="0.0356" stop-color="#000a81"/><stop offset="0.0475" stop-color="#000981"/><stop offset="0.0594" stop-color="#000982"/><stop offset="0.0713" stop-color="#000884"/><stop offset="0.0831" stop-color="#000786"/><stop offset="0.0950" stop-color="#00058c"/><stop offset="0.1069" stop-color="#000294"/><stop offset="0.1188" stop-color="#01009a"/><stop offset="0.1306" stop-color="#05009e"/><stop offset="0.1425" stop-color="#0900a2"/><stop offset="0.1544" stop-color="#0e00a8"/><stop offset="0.1663" stop-color="#1600b0"/><stop offset="0.1781" stop-color="#2000b7"/><stop offset="0.1900" stop-color="#2b00be"/><stop offset="0.2019" stop-color="#3701c4"/><stop offset="0.2138" stop-color="#4803c6"/><stop offset="0.2257" stop-color="#5905c8"/><stop offset="0.2375" stop-color="#6907c8"/><stop offset="0.2494" stop-color="#7a09c8"/><stop offset="0.2613" stop-color="#920cc6"/><stop offset="0.2732" stop-color="#af11c1"/><stop offset="0.2850" stop-color="#c416b8"/><stop offset="0.2969" stop-color="#d11ab0"/><stop offset="0.3088" stop-color="#dd1da4"/><stop offset="0.3207" stop-color="#e7298f"/><stop offset="0.3325" stop-color="#ee3f73"/><stop offset="0.3444" stop-color="#f15260"/><stop offset="0.3563" stop-color="#f26655"/><stop offset="0.3682" stop-color="#f37e55"/><stop offset="0.3800" stop-color="#f3925b"/><stop offset="0.3919" stop-color="#f5a56e"/><stop offset="0.4038" stop-color="#f6b985"/><stop offset="0.4157" stop-color="#f8c898"/><stop offset="0.4276" stop-color="#f9cea0"/><stop offset="0.4394" stop-color="#f9d0a2"/><stop offset="0.4513" stop-color="#f8cc9d"/><stop offset="0.4632" stop-color="#f7c08e"/><stop offset="0.4751" stop-color="#f5a66f"/><stop offset="0.4869" stop-color="#f3915a"/><stop offset="0.4988" stop-color="#f38c55"/><stop offset="0.5107" stop-color="#f4945d"/><stop offset="0.5226" stop-color="#f5ac75"/><stop offset="0.5344" stop-color="#f7c594"/><stop offset="0.5463" stop-color="#f8cd9e"/><stop offset="0.5582" stop-color="#f9d0a2"/><stop offset="0.5701" stop-color="#f8cd9f"/><stop offset="0.5819" stop-color="#f7c695"/><stop offset="0.5938" stop-color="#f6b37e"/><stop offset="0.6057" stop-color="#f4a069"/><stop offset="0.6176" stop-color="#f38d56"/><stop offset="0.6295" stop-color="#f27855"/><stop offset="0.6413" stop-color="#f26157"/><stop offset="0.6532" stop-color="#f04d63"/><stop offset="0.6651" stop-color="#ec3979"/><stop offset="0.6770" stop-color="#e42596"/><stop offset="0.6888" stop-color="#d91ca8"/><stop offset="0.7007" stop-color="#ce19b3"/><stop offset="0.7126" stop-color="#c015ba"/><stop offset="0.7245" stop-color="#a80fc3"/><stop offset="0.7363" stop-color="#8b0bc7"/><stop offset="0.7482" stop-color="#7508c8"/><stop offset="0.7601" stop-color="#6506c8"/><stop offset="0.7720" stop-color="#5504c7"/><stop offset="0.7838" stop-color="#4402c5"/><stop offset="0.7957" stop-color="#3400c3"/><stop offset="0.8076" stop-color="#2900bd"/><stop offset="0.8195" stop-color="#1f00b6"/><stop offset="0.8314" stop-color="#1500af"/><stop offset="0.8432" stop-color="#0d00a7"/><stop offset="0.8551" stop-color="#0800a2"/><stop offset="0.8670" stop-color="#05009e"/><stop offset="0.8789" stop-color="#01009a"/><stop offset="0.8907" stop-color="#000195"/><stop offset="0.9026" stop-color="#00048e"/><stop offset="0.9145" stop-color="#000687"/><stop offset="0.9264" stop-color="#000784"/><stop offset="0.9382" stop-color="#000883"/><stop offset="0.9501" stop-color="#000982"/><stop offset="0.9620" stop-color="#000a81"/><stop offset="0.9739" stop-color="#000a80"/><stop offset="0.9857" stop-color="#000a7f"/><stop offset="0.9976" stop-color="#000b7f"/><stop offset="1.0000" stop-color="#000b7f"/></linearGradient>
<linearGradient id="g10" x1="0" x2="1" y1="0" y2="0"><stop offset="0.0000" stop-color="#000b7f"/><stop offset="0.0119" stop-color="#000b7f"/><stop offset="0.0238" stop-color="#000a80"/><stop offset="0.0356" stop-color="#000a81"/><stop offset="0.0475" stop-color="#000981"/><stop offset="0.0594" stop-color="#000982"/><stop offset="0.0713" stop-color="#000884"/><stop offset="0.0831" stop-color="#000786"/><stop offset="0.0950" stop-color="#00058b"/><stop offset="0.1069" stop-color="#000294"/><stop offset="0.1188" stop-color="#01009a"/><stop offset="0.1306" stop-color="#05009e"/><stop offset="0.1425" stop-color="#0900a2"/><stop offset="0.1544" stop-color="#0e00a7"/><stop offset="0.1663" stop-color="#1600b0"/><stop offset="0.1781" stop-color="#2000b6"/><stop offset="0.1900" stop-color="#2a00be"/><stop offset="0.2019" stop-color="#3600c3"/><stop offset="0.2138" stop-color="#4703c6"/><stop offset="0.2257" stop-color="#5805c8"/><stop offset="0.2375" stop-color="#6807c8"/><stop offset="0.2494" stop-color="#7909c8"/><stop offset="0.2613" stop-color="#910cc6"/><stop offset="0.2732" stop-color="#af10c1"/><stop offset="0.2850" stop-color="#c416b8"/><stop offset="0.2969" stop-color="#d01ab1"/><stop offset="0.3088" stop-color="#dd1da4"/><stop offset="0.3207" stop-color="#e7298f"/><stop offset="0.3325" stop-color="#ed3e73"/><stop offset="0.3444" stop-color="#f15260"/><stop offset="0.3563" stop-color="#f26655"/><stop offset="0.3682" stop-color="#f37d55"/><stop offset="0.3800" stop-color="#f3925b"/><stop offset="0.3919" stop-color="#f5a46d"/><stop offset="0.4038" stop-color="#f6b984"/><stop offset="0.4157" stop-color="#f8c898"/><stop offset="0.4276" stop-color="#f9cea0"/><stop offset="0.4394" stop-color="#f9d0a2"/><stop offset="0.4513" stop-color="#f8cc9c"/><stop offset="0.4632" stop-color="#f7c18e"/><stop offset="0.4751" stop-color="#f5a770"/><stop offset="0.4869" stop-color="#f3915a"/><stop offset="0.4988" stop-color="#f38c55"/><stop offset="0.5107" stop-color="#f4945d"/><stop offset="0.5226" stop-color="#f5ac75"/><stop offset="0.5344" stop-color="#f7c694"/><stop offset="0.5463" stop-color="#f8cd9e"/><stop offset="0.5582" stop-color="#f9d0a2"/><stop offset="0.5701" stop-color="#f8cd9e"/><stop offset="0.5819" stop-color="#f7c694"/><stop offset="0.5938" stop-color="#f6b37e"/><stop offset="0.6057" stop-color="#f49f68"/><stop offset="0.6176" stop-color="#f38c55"/><stop offset="0.6295" stop-color="#f27755"/><stop offset="0.6413" stop-color="#f26057"/><stop offset="0.6532" stop-color="#f04c63"/><stop offset="0.6651" stop-color="#ec397a"/><stop offset="0.6770" stop-color="#e42497"/><stop offset="0.6888" stop-color="#d91ca8"/><stop offset="0.7007" stop-color="#cd19b4"/><stop offset="0.7126" stop-color="#bf15ba"/><stop offset="0.7245" stop-color="#a70fc3"/><stop offset="0.7363" stop-color="#8a0bc7"/><stop offset="0.7482" stop-color="#7508c8"/><stop offset="0.7601" stop-color="#6406c8"/><stop offset="0.7720" stop-color="#5404c7"/><stop offset="0.7838" stop-color="#4302c5"/><stop offset="0.7957" stop-color="#3300c3"/><stop offset="0.8076" stop-color="#2800bc"/><stop offset="0.8195" stop-color="#1e00b5"/><stop offset="0.8314" stop-color="#1500ae"/><stop offset="0.8432" stop-color="#0d00a7"/><stop offset="0.8551" stop-color="#0800a2"/><stop offset="0.8670" stop-color="#05009e"/><stop offset="0.8789" stop-color="#01009a"/><stop offset="0.8907" stop-color="#000195"/><stop offset="0.9026" stop-color="#00048d"/><stop offset="0.9145" stop-color="#000687"/><stop offset="0.9264" stop-color="#000784"/><stop offset="0.9382" stop-color="#000883"/><stop offset="0.9501" stop-color="#000982"/><stop offset="0.9620" stop-color="#000a81"/><stop offset="0.9739" stop-color="#000a80"/><stop offset="0.9857" stop-color="#000a7f"/><stop offset="0.9976" stop-color="#000b7f"/><stop offset="1.0000" stop-color="#000b7f"/></linearGradient>
<linearGradient id="g11" x1="0" x2="1" y1="0" y2="0"><stop offset="0.0000" stop-color="#000b7f"/><stop offset="0.0119" stop-color="#000b7f"/><stop offset="0.0238" stop-color="#000a80"/><stop offset="0.0356" stop-color="#000a81"/><stop offset="0.0475" stop-color="#000981"/><stop offset="0.0594" stop-color="#000982"/><stop offset="0.0713" stop-color="#000884"/><stop offset="0.0831" stop-color="#000786"/><stop offset="0.0950" stop-color="#00058b"/><stop offset="0.1069" stop-color="#000293"/><stop offset="0.1188" stop-color="#000099"/><stop offset="0.1306" stop-color="#05009e"/><stop offset="0.1425" stop-color="#0800a2"/><stop offset="0.1544" stop-color="#0d00a7"/><stop offset="0.1663" stop-color="#1500af"/><stop offset="0.1781" stop-color="#1f00b6"/><stop offset="0.1900" stop-color="#2900bd"/><stop offset="0.2019" stop-color="#3500c3"/><stop offset="0.2138" stop-color="#4502c5"/><stop offset="0.2257" stop-color="#5605c8"/><stop offset="0.2375" stop-color="#6707c8"/><stop offset="0.2494" stop-color="#7909c8"/><stop offset="0.2613" stop-color="#900cc6"/><stop offset="0.2732" stop-color="#ae10c1"/><stop offset="0.2850" stop-color="#c316b8"/><stop offset="0.2969" stop-color="#d01ab1"/><stop offset="0.3088" stop-color="#dc1da5"/><stop offset="0.3207" stop-color="#e62990"/><stop offset="0.3325" stop-color="#ed3e74"/><stop offset="0.3444" stop-color="#f05160"/><stop offset="0.3563" stop-color="#f26555"/><stop offset="0.3682" stop-color="#f37d55"/><stop offset="0.3800" stop-color="#f3915a"/><stop offset="0.3919" stop-color="#f5a46d"/><stop offset="0.4038" stop-color="#f6b884"/><stop offset="0.4157" stop-color="#f8c898"/><stop offset="0.4276" stop-color="#f8cea0"/><stop offset="0.4394" stop-color="#f9d0a2"/><stop offset="0.4513" stop-color="#f8cc9c"/><stop offset="0.4632" stop-color="#f7c18e"/><stop offset="0.4751" stop-color="#f5a770"/><stop offset="0.4869" stop-color="#f3915a"/><stop offset="0.4988" stop-color="#f38c55"/><stop offset="0.5107" stop-color="#f4945d"/><stop offset="0.5226" stop-color="#f5ac76"/><stop offset="0.5344" stop-color="#f7c694"/><stop offset="0.5463" stop-color="#f8cd9e"/><stop offset="0.5582" stop-color="#f9d0a2"/><stop offset="0.5701" stop-color="#f8cd9e"/><stop offset="0.5819" stop-color="#f7c594"/><stop offset="0.5938" stop-color="#f6b27d"/><stop offset="0.6057" stop-color="#f49f68"/><stop offset="0.6176" stop-color="#f38c55"/><stop offset="0.6295" stop-color="#f27755"/><stop offset="0.6413" stop-color="#f26058"/><stop offset="0.6532" stop-color="#f04c63"/><stop offset="0.6651" stop-color="#ec387b"/><stop offset="0.6770" stop-color="#e42497"/><stop offset="0.6888" stop-color="#d91ca8"/><stop offset="0.7007" stop-color="#cd19b4"/><stop offset="0.7126" stop-color="#be15ba"/><stop offset="0.7245" stop-color="#a60fc3"/><stop offset="0.7363" stop-color="#890bc7"/><stop offset="0.7482" stop-color="#7408c8"/><stop offset="0.7601" stop-color="#6306c8"/><stop offset="0.7720" stop-color="#5204c7"/><stop offset="0.7838" stop-color="#4202c5"/><stop offset="0.7957" stop-color="#3200c3"/><stop offset="0.8076" stop-color="#2700bc"/><stop offset="0.8195" stop-color="#1d00b5"/><stop offset="0.8314" stop-color="#1400ae"/><stop offset="0.8432" stop-color="#0d00a6"/><stop offset="0.8551" stop-color="#0800a1"/><stop offset="0.8670" stop-color="#04009e"/><stop offset="0.8789" stop-color="#01009a"/><stop offset="0.8907" stop-color="#000294"/><stop offset="0.9026" stop-color="#00048d"/><stop offset="0.9145" stop-color="#000687"/><stop offset="0.9264" stop-color="#000784"/><stop offset="0.9382" stop-color="#000883"/><stop offset="0.9501" stop-color="#000982"/><stop offset="0.9620" stop-color="#000a81"/><stop offset="0.9739" stop-color="#000a80"/><stop offset="0.9857" stop-color="#000a7f"/><stop offset="0.9976" stop-color="#000b7f"/><stop offset="1.0000" stop-color="#000b7f"/></linearGradient>
<linearGradient id="g12" x1="0" x2="1" y1="0" y2="0"><stop offset="0.0000" stop-color="#000b7f"/><stop offset="0.0119" stop-color="#000b7f"/><stop offset="0.0238" stop-color="#000a80"/><stop offset="0.0356" stop-color="#000a80"/><stop offset="0.0475" stop-color="#000981"/><stop offset="0.0594" stop-color="#000982"/><stop offset="0.0713" stop-color="#000884"/><stop offset="0.0831" stop-color="#000786"/><stop offset="0.0950" stop-color="#00058b"/><stop offset="0.1069" stop-color="#000293"/><stop offset="0.1188" stop-color="#000099"/><stop offset="0.1306" stop-color="#04009d"/><stop offset="0.1425" stop-color="#0800a1"/><stop offset="0.1544" stop-color="#0d00a7"/><stop offset="0.1663" stop-color="#1500af"/><stop offset="0.1781" stop-color="#1e00b6"/><stop offset="0.1900" stop-color="#2900bd"/><stop offset="0.2019" stop-color="#3400c3"/><stop offset="0.2138" stop-color="#4402c5"/><stop offset="0.2257" stop-color="#5504c7"/><stop offset="0.2375" stop-color="#6607c8"/><stop offset="0.2494" stop-color="#7809c8"/><stop offset="0.2613" stop-color="#8f0cc6"/><stop offset="0.2732" stop-color="#ad10c2"/><stop offset="0.2850" stop-color="#c316b8"/><stop offset="0.2969" stop-color="#d01ab1"/><stop offset="0.3088" stop-color="#dc1da5"/><stop offset="0.3207" stop-color="#e62891"/><stop offset="0.3325" stop-color="#ed3d74"/><stop offset="0.3444" stop-color="#f05161"/><stop offset="0.3563" stop-color="#f26555"/><stop offset="0.3682" stop-color="#f37d55"/><stop offset="0.3800" stop-color="#f3915a"/><stop offset="0.3919" stop-color="#f5a46d"/><stop offset="0.4038" stop-color="#f6b883"/><stop offset="0.4157" stop-color="#f8c897"/><stop offset="0.4276" stop-color="#f8cea0"/><stop offset="0.4394" stop-color="#f9d0a2"/><stop offset="0.4513" stop-color="#f8cc9c"/><stop offset="0.4632" stop-color="#f7c18e"/><stop offset="0.4751" stop-color="#f5a770"/><stop offset="0.4869" stop-color="#f3915a"/><stop offset="0.4988" stop-color="#f38c55"/><stop offset="0.5107" stop-color="#f4945d"/><stop offset="0.5226" stop-color="#f5ac76"/><stop offset="0.5344" stop-color="#f7c695"/><stop offset="0.5463" stop-color="#f8cd9e"/><stop offset="0.5582" stop-color="#f9d0a2"/><stop offset="0.5701" stop-color="#f8cd9e"/><stop offset="0.5819" stop-color="#f7c594"/><stop offset="0.5938" stop-color="#f6b27c"/><stop offset="0.6057" stop-color="#f49e67"/><stop offset="0.6176" stop-color="#f38b55"/><stop offset="0.6295" stop-color="#f27655"/><stop offset="0.6413" stop-color="#f25f58"/><stop offset="0.6532" stop-color="#f04b64"/><stop offset="0.6651" stop-color="#ec377c"/><stop offset="0.6770" stop-color="#e42398"/><stop offset="0.6888" stop-color="#d81ca9"/><stop offset="0.7007" stop-color="#cc19b4"/><stop offset="0.7126" stop-color="#be15bb"/><stop offset="0.7245" stop-color="#a50ec4"/><stop offset="0.7363" stop-color="#880bc7"/><stop offset="0.7482" stop-color="#7308c8"/><stop offset="0.7601" stop-color="#6206c8"/><stop offset="0.7720" stop-color="#5104c7"/><stop offset="0.7838" stop-color="#4102c5"/><stop offset="0.7957" stop-color="#3100c2"/><stop offset="0.8076" stop-color="#2700bb"/><stop offset="0.8195" stop-color="#1d00b4"/><stop offset="0.8314" stop-color="#1300ad"/><stop offset="0.8432" stop-color="#0c00a6"/><stop offset="0.8551" stop-color="#0800a1"/><stop offset="0.8670" stop-color="#04009d"/><stop offset="0.8789" stop-color="#000099"/><stop offset="0.8907" stop-color="#000294"/><stop offset="0.9026" stop-color="#00048c"/><stop offset="0.9145" stop-color="#000687"/><stop offset="0.9264" stop-color="#000784"/><stop offset="0.9382" stop-color="#000883"/><stop offset="0.9501" stop-color="#000982"/><stop offset="0.9620" stop-color="#000a81"/><stop offset="0.9739" stop-color="#000a80"/><stop offset="0.9857" stop-color="#000a7f"/><stop offset="0.9976" stop-color="#000b7f"/><stop offset="1.0000" stop-color="#000b7f"/></linearGradient>
<linearGradient id="g13" x1="0" x2="1" y1="0" y2="0"><stop offset="0.0000" stop-color="#000b7f"/><stop offset="0.0119" stop-color="#000b7f"/><stop offset="0.0238" stop-color="#000a80"/><stop offset="0.0356" stop-color="#000a80"/><stop offset="0.0475" stop-color="#000981"/><stop offset="0.0594" stop-color="#000982"/><stop offset="0.0713" stop-color="#000884"/><stop offset="0.0831" stop-color="#000785"/><stop offset="0.0950" stop-color="#00058a"/><stop offset="0.1069" stop-color="#000292"/><stop offset="0.1188" stop-color="#000099"/><stop offset="0.1306" stop-color="#04009d"/><stop offset="0.1425" stop-color="#0800a1"/><stop offset="0.1544" stop-color="#0d00a6"/><stop offset="0.1663" stop-color="#1400ae"/><stop offset="0.1781" stop-color="#1e00b5"/><stop offset="0.1900" stop-color="#2800bc"/><stop offset="0.2019" stop-color="#3300c3"/><stop offset="0.2138" stop-color="#4302c5"/><stop offset="0.2257" stop-color="#5404c7"/><stop offset="0.2375" stop-color="#6506c8"/><stop offset="0.2494" stop-color="#7709c8"/><stop offset="0.2613" stop-color="#8e0cc6"/><stop offset="0.2732" stop-color="#ac10c2"/><stop offset="0.2850" stop-color="#c216b9"/><stop offset="0.2969" stop-color="#cf1ab2"/><stop offset="0.3088" stop-color="#dc1da5"/><stop offset="0.3207" stop-color="#e62891"/><stop offset="0.3325" stop-color="#ed3d75"/><stop offset="0.3444" stop-color="#f05061"/><stop offset="0.3563" stop-color="#f26455"/><stop offset="0.3682" stop-color="#f37c55"/><stop offset="0.3800" stop-color="#f3915a"/><stop offset="0.3919" stop-color="#f5a36c"/><stop offset="0.4038" stop-color="#f6b783"/><stop offset="0.4157" stop-color="#f8c897"/><stop offset="0.4276" stop-color="#f8ce9f"/><stop offset="0.4394" stop-color="#f9cfa2"/><stop offset="0.4513" stop-color="#f8cb9c"/><stop offset="0.4632" stop-color="#f7c18e"/><stop offset="0.4751" stop-color="#f5a770"/><stop offset="0.4869" stop-color="#f3915a"/><stop offset="0.4988" stop-color="#f38c55"/><stop offset="0.5107" stop-color="#f4945d"/><stop offset="0.5226" stop-color="#f5ad76"/><stop offset="0.5344" stop-color="#f7c695"/><stop offset="0.5463" stop-color="#f8cd9e"/><stop offset="0.5582" stop-color="#f9d0a2"/><stop offset="0.5701" stop-color="#f8cc9d"/><stop offset="0.5819" stop-color="#f7c593"/><stop offset="0.5938" stop-color="#f6b17c"/><stop offset="0.6057" stop-color="#f49e67"/><stop offset="0.6176" stop-color="#f38b55"/><stop offset="0.6295" stop-color="#f27555"/><stop offset="0.6413" stop-color="#f25e58"/><stop offset="0.6532" stop-color="#f04b64"/><stop offset="0.6651" stop-color="#ec377c"/><stop offset="0.6770" stop-color="#e32399"/><stop offset="0.6888" stop-color="#d81ca9"/><stop offset="0.7007" stop-color="#cc19b4"/><stop offset="0.7126" stop-color="#bd14bb"/><stop offset="0.7245" stop-color="#a40ec4"/><stop offset="0.7363" stop-color="#870bc7"/><stop offset="0.7482" stop-color="#7208c8"/><stop offset="0.7601" stop-color="#6106c8"/><stop offset="0.7720" stop-color="#5004c7"/><stop offset="0.7838" stop-color="#3f02c5"/><stop offset="0.7957" stop-color="#3000c2"/><stop offset="0.8076" stop-color="#2600bb"/><stop offset="0.8195" stop-color="#1c00b4"/><stop offset="0.8314" stop-color="#1300ad"/><stop offset="0.8432" stop-color="#0c00a5"/><stop offset="0.8551" stop-color="#0700a1"/><stop offset="0.8670" stop-color="#04009d"/><stop offset="0.8789" stop-color="#000099"/><stop offset="0.8907" stop-color="#000293"/><stop offset="0.9026" stop-color="#00058c"/><stop offset="0.9145" stop-color="#000686"/><stop offset="0.9264" stop-color="#000884"/><stop offset="0.9382" stop-color="#000883"/><stop offset="0.9501" stop-color="#000982"/><stop offset="0.9620" stop-color="#000a81"/><stop offset="0.9739" stop-color="#000a80"/><stop offset="0.9857" stop-color="#000a7f"/><stop offset="0.9976" stop-color="#000b7f"/><stop offset="1.0000" stop-color="#000b7f"/></linearGradient>
<linearGradient id="g14" x1="0" x2="1" y1="0" y2="0"><stop offset="0.0000" stop-color="#000b7f"/><stop offset="0.0119" stop-color="#000b7f"/><stop offset="0.0238" stop-color="#000a80"/><stop offset="0.0356" stop-color="#000a80"/><stop offset="0.0475" stop-color="#000981"/><stop offset="0.0594" stop-color="#000982"/><stop offset="0.0713" stop-color="#000884"/><stop offset="0.0831" stop-color="#000785"/><stop offset="0.0950" stop-color="#00058a"/><stop offset="0.1069" stop-color="#000392"/><stop offset="0.1188" stop-color="#000098"/><stop offset="0.1306" stop-color="#04009d"/><stop offset="0.1425" stop-color="#0800a1"/><stop offset="0.1544" stop-color="#0c00a6"/><stop offset="0.1663" stop-color="#1300ad"/><stop offset="0.1781" stop-color="#1d00b5"/><stop offset="0.1900" stop-color="#2700bc"/><stop offset="0.2019" stop-color="#3200c3"/><stop offset="0.2138" stop-color="#4202c5"/><stop offset="0.2257" stop-color="#5304c7"/><stop offset="0.2375" stop-color="#6406c8"/><stop offset="0.2494" stop-color="#7709c8"/><stop offset="0.2613" stop-color="#8d0bc7"/><stop offset="0.2732" stop-color="#ab0fc3"/><stop offset="0.2850" stop-color="#c116b9"/><stop offset="0.2969" stop-color="#cf19b2"/><stop offset="0.3088" stop-color="#db1da6"/><stop offset="0.3207" stop-color="#e62792"/><stop offset="0.3325" stop-color="#ed3c76"/><stop offset="0.3444" stop-color="#f05061"/><stop offset="0.3563" stop-color="#f26455"/><stop offset="0.3682" stop-color="#f37c55"/><stop offset="0.3800" stop-color="#f39059"/><stop offset="0.3919" stop-color="#f5a36c"/><stop offset="0.4038" stop-color="#f6b782"/><stop offset="0.4157" stop-color="#f8c797"/><stop offset="0.4276" stop-color="#f8ce9f"/><stop offset="0.4394" stop-color="#f9cfa1"/><stop offset="0.4513" stop-color="#f8cb9c"/><stop offset="0.4632" stop-color="#f7c18e"/><stop offset="0.4751" stop-color="#f5a770"/><stop offset="0.4869" stop-color="#f3915a"/><stop offset="0.4988" stop-color="#f38c55"/><stop offset="0.5107" stop-color="#f4955e"/><stop offset="0.5226" stop-color="#f5ad76"/><stop offset="0.5344" stop-color="#f7c695"/><stop offset="0.5463" stop-color="#f8cd9e"/><stop offset="0.5582" stop-color="#f9d0a2"/><stop offset="0.5701" stop-color="#f8cc9d"/><stop offset="0.5819" stop-color="#f7c492"/><stop offset="0.5938" stop-color="#f6b07b"/><stop offset="0.6057" stop-color="#f49d66"/><stop offset="0.6176" stop-color="#f38a55"/><stop offset="0.6295" stop-color="#f27555"/><stop offset="0.6413" stop-color="#f15e59"/><stop offset="0.6532" stop-color="#f04a65"/><stop offset="0.6651" stop-color="#ec367d"/><stop offset="0.6770" stop-color="#e3229a"/><stop offset="0.6888" stop-color="#d71caa"/><stop offset="0.7007" stop-color="#cb19b5"/><stop offset="0.7126" stop-color="#bc14bb"/><stop offset="0.7245" stop-color="#a20ec4"/><stop offset="0.7363" stop-color="#860ac8"/><stop offset="0.7482" stop-color="#7108c8"/><stop offset="0.7601" stop-color="#5f06c8"/><stop offset="0.7720" stop-color="#4f04c7"/><stop offset="0.7838" stop-color="#3e01c4"/><stop offset="0.7957" stop-color="#3000c1"/><stop offset="0.8076" stop-color="#2500ba"/><stop offset="0.8195" stop-color="#1b00b3"/><stop offset="0.8314" stop-color="#1200ac"/><stop offset="0.8432" stop-color="#0b00a5"/><stop offset="0.8551" stop-color="#0700a0"/><stop offset="0.8670" stop-color="#04009d"/><stop offset="0.8789" stop-color="#000099"/><stop offset="0.8907" stop-color="#000293"/><stop offset="0.9026" stop-color="#00058c"/><stop offset="0.9145" stop-color="#000786"/><stop offset="0.9264" stop-color="#000884"/><stop offset="0.9382" stop-color="#000883"/><stop offset="0.9501" stop-color="#000982"/><stop offset="0.9620" stop-color="#000a81"/><stop offset="0.9739" stop-color="#000a80"/><stop offset="0.9857" stop-color="#000a7f"/><stop offset="0.9976" stop-color="#000b7f"/><stop offset="1.0000" stop-color="#000b7f"/></linearGradient>
<linearGradient id="g15" x1="0" x2="1" y1="0" y2="0"><stop offset="0.0000" stop-color="#000b7f"/><stop offset="0.0119" stop-color="#000b7f"/><stop offset="0.0238" stop-color="#000a80"/><stop offset="0.0356" stop-color="#000a80"/><stop offset="0.0475" stop-color="#000981"/><stop offset="0.0594" stop-color="#000982"/><stop offset="0.0713" stop-color="#000883"/><stop offset="0.0831" stop-color="#000785"/><stop offset="0.0950" stop-color="#00058a"/><stop offset="0.1069" stop-color="#000391"/><stop offset="0.1188" stop-color="#000098"/><stop offset="0.1306" stop-color="#03009d"/><stop offset="0.1425" stop-color="#0700a1"/><stop offset="0.1544" stop-color="#0c00a5"/><stop offset="0.1663" stop-color="#1300ad"/><stop offset="0.1781" stop-color="#1c00b4"/><stop offset="0.1900" stop-color="#2700bb"/><stop offset="0.2019" stop-color="#3100c2"/><stop offset="0.2138" stop-color="#4102c5"/><stop offset="0.2257" stop-color="#5204c7"/><stop offset="0.2375" stop-color="#6306c8"/><stop offset="0.2494" stop-color="#7608c8"/><stop offset="0.2613" stop-color="#8c0bc7"/><stop offset="0.2732" stop-color="#aa0fc3"/><stop offset="0.2850" stop-color="#c115b9"/><stop offset="0.2969" stop-color="#cf19b2"/><stop offset="0.3088" stop-color="#db1ca6"/><stop offset="0.3207" stop-color="#e52793"/><stop offset="0.3325" stop-color="#ed3c76"/><stop offset="0.3444" stop-color="#f04f61"/><stop offset="0.3563" stop-color="#f26355"/><stop offset="0.3682" stop-color="#f37b55"/><stop offset="0.3800" stop-color="#f39059"/><stop offset="0.3919" stop-color="#f4a26b"/><stop offset="0.4038" stop-color="#f6b682"/><stop offset="0.4157" stop-color="#f8c796"/><stop offset="0.4276" stop-color="#f8cd9f"/><stop offset="0.4394" stop-color="#f9cfa1"/><stop offset="0.4513" stop-color="#f8cb9c"/><stop offset="0.4632" stop-color="#f7c18e"/><stop offset="0.4751" stop-color="#f5a770"/><stop offset="0.4869" stop-color="#f3915a"/><stop offset="0.4988" stop-color="#f38c55"/><stop offset="0.5107" stop-color="#f4955e"/><stop offset="0.5226" stop-color="#f5ad77"/><stop offset="0.5344" stop-color="#f7c695"/><stop offset="0.5463" stop-color="#f8cd9e"/><stop offset="0.5582" stop-color="#f9cfa1"/><stop offset="0.5701" stop-color="#f8cc9d"/><stop offset="0.5819" stop-color="#f7c492"/><stop offset="0.5938" stop-color="#f5b07a"/><stop offset="0.6057" stop-color="#f49d66"/><stop offset="0.6176" stop-color="#f38a55"/><stop offset="0.6295" stop-color="#f27455"/><stop offset="0.6413" stop-color="#f15d59"/><stop offset="0.6532" stop-color="#f04966"/><stop offset="0.6651" stop-color="#ec357e"/><stop offset="0.6770" stop-color="#e3229a"/><stop offset="0.6888" stop-color="#d71baa"/><stop offset="0.7007" stop-color="#cb18b5"/><stop offset="0.7126" stop-color="#bb14bc"/><stop offset="0.7245" stop-color="#a10ec4"/><stop offset="0.7363" stop-color="#840ac8"/><stop offset="0.7482" stop-color="#7008c8"/><stop offset="0.7601" stop-color="#5e06c8"/><stop offset="0.7720" stop-color="#4d03c6"/><stop offset="0.7838" stop-color="#3d01c4"/><stop offset="0.7957" stop-color="#2f00c1"/><stop offset="0.8076" stop-color="#2500ba"/><stop offset="0.8195" stop-color="#1a00b3"/><stop offset="0.8314" stop-color="#1200ab"/><stop offset="0.8432" stop-color="#0b00a5"/><stop offset="0.8551" stop-color="#0700a0"/><stop offset="0.8670" stop-color="#03009d"/><stop offset="0.8789" stop-color="#000098"/><stop offset="0.8907" stop-color="#000292"/><stop offset="0.9026" stop-color="#00058b"/><stop offset="0.9145" stop-color="#000786"/><stop offset="0.9264" stop-color="#000884"/><stop offset="0.9382" stop-color="#000883"/><stop offset="0.9501" stop-color="#000982"/><stop offset="0.9620" stop-color="#000a81"/><stop offset="0.9739" stop-color="#000a80"/><stop offset="0.9857" stop-color="#000a7f"/><stop offset="0.9976" stop-color="#000b7f"/><stop offset="1.0000" stop-color="#000b7f"/></linearGradient>
<linearGradient id="g16" x1="0" x2="1" y1="0" y2="0"><stop offset="0.0000" stop-color="#000b7f"/><stop offset="0.0119" stop-color="#000b7f"/><stop offset="0.0238" stop-color="#000a80"/><stop offset="0.0356" stop-color="#000a80"/><stop offset="0.0475" stop-color="#000981"/><stop offset="0.0594" stop-color="#000982"/><stop offset="0.0713" stop-color="#000883"/><stop offset="0.0831" stop-color="#000785"/><stop offset="0.0950" stop-color="#000689"/><stop offset="0.1069" stop-color="#000391"/><stop offset="0.1188" stop-color="#000098"/><stop offset="0.1306" stop-color="#03009c"/><stop offset="0.1425" stop-color="#0700a0"/><stop offset="0.1544" stop-color="#0b00a5"/><stop offset="0.1663" stop-color="#1200ac"/><stop offset="0.1781" stop-color="#1c00b4"/><stop offset="0.1900" stop-color="#2600bb"/><stop offset="0.2019" stop-color="#3000c2"/><stop offset="0.2138" stop-color="#4002c5"/><stop offset="0.2257" stop-color="#5004c7"/><stop offset="0.2375" stop-color="#6206c8"/><stop offset="0.2494" stop-color="#7508c8"/><stop offset="0.2613" stop-color="#8b0bc7"/><stop offset="0.2732" stop-color="#a90fc3"/><stop offset="0.2850" stop-color="#c015ba"/><stop offset="0.2969" stop-color="#ce19b3"/><stop offset="0.3088" stop-color="#da1ca7"/><stop offset="0.3207" stop-color="#e52694"/><stop offset="0.3325" stop-color="#ed3b77"/><stop offset="0.3444" stop-color="#f04f62"/><stop offset="0.3563" stop-color="#f26356"/><stop offset="0.3682" stop-color="#f37a55"/><stop offset="0.3800" stop-color="#f38f58"/><stop offset="0.3919" stop-color="#f4a26b"/><stop offset="0.4038" stop-color="#f6b681"/><stop offset="0.4157" stop-color="#f7c796"/><stop offset="0.4276" stop-color="#f8cd9f"/><stop offset="0.4394" stop-color="#f9cfa1"/><stop offset="0.4513" stop-color="#f8cb9c"/><stop offset="0.4632" stop-color="#f7c18e"/><stop offset="0.4751" stop-color="#f5a770"/><stop offset="0.4869" stop-color="#f3915a"/><stop offset="0.4988" stop-color="#f38c55"/><stop offset="0.5107" stop-color="#f4955e"/><stop offset="0.5226" stop-color="#f5ad77"/><stop offset="0.5344" stop-color="#f7c695"/><stop offset="0.5463" stop-color="#f8cd9e"/><stop offset="0.5582" stop-color="#f9cfa1"/><stop offset="0.5701" stop-color="#f8cb9c"/><stop offset="0.5819" stop-color="#f7c391"/><stop offset="0.5938" stop-color="#f5af79"/><stop offset="0.6057" stop-color="#f49c65"/><stop offset="0.6176" stop-color="#f38955"/><stop offset="0.6295" stop-color="#f27355"/><stop offset="0.6413" stop-color="#f15c5a"/><stop offset="0.6532" stop-color="#f04967"/><stop offset="0.6651" stop-color="#eb3480"/><stop offset="0.6770" stop-color="#e3219b"/><stop offset="0.6888" stop-color="#d61bab"/><stop offset="0.7007" stop-color="#ca18b5"/><stop offset="0.7126" stop-color="#b913bc"/><stop offset="0.7245" stop-color="#9f0ec4"/><stop offset="0.7363" stop-color="#830ac8"/><stop offset="0.7482" stop-color="#6f08c8"/><stop offset="0.7601" stop-color="#5d05c8"/><stop offset="0.7720" stop-color="#4c03c6"/><stop offset="0.7838" stop-color="#3b01c4"/><stop offset="0.7957" stop-color="#2e00c0"/><stop offset="0.8076" stop-color="#2400b9"/><stop offset="0.8195" stop-color="#1a00b3"/><stop offset="0.8314" stop-color="#1100ab"/><stop offset="0.8432" stop-color="#0b00a4"/><stop offset="0.8551" stop-color="#0700a0"/><stop offset="0.8670" stop-color="#03009c"/><stop offset="0.8789" stop-color="#000098"/><stop offset="0.8907" stop-color="#000292"/><stop offset="0.9026" stop-color="#00058b"/><stop offset="0.9145" stop-color="#000786"/><stop offset="0.9264" stop-color="#000884"/><stop offset="0.9382" stop-color="#000883"/><stop offset="0.9501" stop-color="#000982"/><stop offset="0.9620" stop-color="#000a81"/><stop offset="0.9739" stop-color="#000a80"/><stop offset="0.9857" stop-color="#000a7f"/><stop offset="0.9976" stop-color="#000b7f"/><stop offset="1.0000" stop-color="#000b7f"/></linearGradient>
<linearGradient id="g17" x1="0" x2="1" y1="0" y2="0"><stop offset="0.0000" stop-color="#000b7f"/><stop offset="0.0119" stop-color="#000b7f"/><stop offset="0.0238" stop-color="#000a80"/><stop offset="0.0356" stop-color="#000a80"/><stop offset="0.0475" stop-color="#000981"/><stop offset="0.0594" stop-color="#000982"/><stop offset="0.0713" stop-color="#000883"/><stop offset="0.0831" stop-color="#000785"/><stop offset="0.0950" stop-color="#000689"/><stop offset="0.1069" stop-color="#000390"/><stop offset="0.1188" stop-color="#000197"/><stop offset="0.1306" stop-color="#03009c"/><stop offset="0.1425" stop-color="#0700a0"/><stop offset="0.1544" stop-color="#0b00a5"/><stop offset="0.1663" stop-color="#1200ac"/><stop offset="0.1781" stop-color="#1b00b3"/><stop offset="0.1900" stop-color="#2500ba"/><stop offset="0.2019" stop-color="#3000c1"/><stop offset="0.2138" stop-color="#3e02c5"/><stop offset="0.2257" stop-color="#4f04c7"/><stop offset="0.2375" stop-color="#6106c8"/><stop offset="0.2494" stop-color="#7408c8"/><stop offset="0.2613" stop-color="#8a0bc7"/><stop offset="0.2732" stop-color="#a80fc3"/><stop offset="0.2850" stop-color="#bf15ba"/><stop offset="0.2969" stop-color="#ce19b3"/><stop offset="0.3088" stop-color="#da1ca7"/><stop offset="0.3207" stop-color="#e52694"/><stop offset="0.3325" stop-color="#ed3a78"/><stop offset="0.3444" stop-color="#f04e62"/><stop offset="0.3563" stop-color="#f26256"/><stop offset="0.3682" stop-color="#f37a55"/><stop offset="0.3800" stop-color="#f38f58"/><stop offset="0.3919" stop-color="#f4a16a"/><stop offset="0.4038" stop-color="#f6b580"/><stop offset="0.4157" stop-color="#f7c696"/><stop offset="0.4276" stop-color="#f8cd9e"/><stop offset="0.4394" stop-color="#f9cfa1"/><stop offset="0.4513" stop-color="#f8cb9c"/><stop offset="0.4632" stop-color="#f7c18f"/><stop offset="0.4751" stop-color="#f5a770"/><stop offset="0.4869" stop-color="#f3915a"/><stop offset="0.4988" stop-color="#f38c55"/><stop offset="0.5107" stop-color="#f4955e"/><stop offset="0.5226" stop-color="#f5ae77"/><stop offset="0.5344" stop-color="#f7c695"/><stop offset="0.5463" stop-color="#f8cd9e"/><stop offset="0.5582" stop-color="#f9cfa1"/><stop offset="0.5701" stop-color="#f8cb9c"/><stop offset="0.5819" stop-color="#f7c290"/><stop offset="0.5938" stop-color="#f5ae78"/><stop offset="0.6057" stop-color="#f49b64"/><stop offset="0.6176" stop-color="#f38855"/><stop offset="0.6295" stop-color="#f27255"/><stop offset="0.6413" stop-color="#f15b5a"/><stop offset="0.6532" stop-color="#ef4868"/><stop offset="0.6651" stop-color="#eb3381"/><stop offset="0.6770" stop-color="#e2219c"/><stop offset="0.6888" stop-color="#d51bac"/><stop offset="0.7007" stop-color="#c918b6"/><stop offset="0.7126" stop-color="#b813bd"/><stop offset="0.7245" stop-color="#9e0dc5"/><stop offset="0.7363" stop-color="#820ac8"/><stop offset="0.7482" stop-color="#6e07c8"/><stop offset="0.7601" stop-color="#5b05c8"/><stop offset="0.7720" stop-color="#4a03c6"/><stop offset="0.7838" stop-color="#3a01c4"/><stop offset="0.7957" stop-color="#2d00c0"/><stop offset="0.8076" stop-color="#2300b9"/><stop offset="0.8195" stop-color="#1900b2"/><stop offset="0.8314" stop-color="#1000aa"/><stop offset="0.8432" stop-color="#0a00a4"/><stop offset="0.8551" stop-color="#0600a0"/><stop offset="0.8670" stop-color="#03009c"/><stop offset="0.8789" stop-color="#000098"/><stop offset="0.8907" stop-color="#000391"/><stop offset="0.9026" stop-color="#00058a"/><stop offset="0.9145" stop-color="#000786"/><stop offset="0.9264" stop-color="#000884"/><stop offset="0.9382" stop-color="#000883"/><stop offset="0.9501" stop-color="#000982"/><stop offset="0.9620" stop-color="#000a81"/><stop offset="0.9739" stop-color="#000a80"/><stop offset="0.9857" stop-color="#000a7f"/><stop offset="0.9976" stop-color="#000b7f"/><stop offset="1.0000" stop-color="#000b7f"/></linearGradient>
<linearGradient id="g18" x1="0" x2="1" y1="0" y2="0"><stop offset="0.0000" stop-color="#000b7f"/><stop offset="0.0119" stop-color="#000b7f"/><stop offset="0.0238" stop-color="#000a80"/><stop offset="0.0356" stop-color="#000a80"/><stop offset="0.0475" stop-color="#000981"/><stop offset="0.0594" stop-color="#000982"/><stop offset="0.0713" stop-color="#000883"/><stop offset="0.0831" stop-color="#000785"/><stop offset="0.0950" stop-color="#000689"/><stop offset="0.1069" stop-color="#000390"/><stop offset="0.1188" stop-color="#000197"/><stop offset="0.1306" stop-color="#03009c"/><stop offset="0.1425" stop-color="#0600a0"/><stop offset="0.1544" stop-color="#0b00a4"/><stop offset="0.1663" stop-color="#1100ab"/><stop offset="0.1781" stop-color="#1a00b3"/><stop offset="0.1900" stop-color="#2400ba"/><stop offset="0.2019" stop-color="#2f00c1"/><stop offset="0.2138" stop-color="#3d01c4"/><stop offset="0.2257" stop-color="#4e03c6"/><stop offset="0.2375" stop-color="#6006c8"/><stop offset="0.2494" stop-color="#7308c8"/><stop offset="0.2613" stop-color="#890bc7"/><stop offset="0.2732" stop-color="#a60fc3"/><stop offset="0.2850" stop-color="#be15ba"/><stop offset="0.2969" stop-color="#cd19b4"/><stop offset="0.3088" stop-color="#d91ca8"/><stop offset="0.3207" stop-color="#e52595"/><stop offset="0.3325" stop-color="#ed3a79"/><stop offset="0.3444" stop-color="#f04e62"/><stop offset="0.3563" stop-color="#f26256"/><stop offset="0.3682" stop-color="#f37955"/><stop offset="0.3800" stop-color="#f38e57"/><stop offset="0.3919" stop-color="#f4a16a"/><stop offset="0.4038" stop-color="#f6b580"/><stop offset="0.4157" stop-color="#f7c695"/><stop offset="0.4276" stop-color="#f8cd9e"/><stop offset="0.4394" stop-color="#f9cfa1"/><stop offset="0.4513" stop-color="#f8cb9c"/><stop offset="0.4632" stop-color="#f7c18f"/><stop offset="0.4751" stop-color="#f5a770"/><stop offset="0.4869" stop-color="#f3915a"/><stop offset="0.4988" stop-color="#f38c55"/><stop offset="0.5107" stop-color="#f4955e"/><stop offset="0.5226" stop-color="#f5ae78"/><stop offset="0.5344" stop-color="#f7c695"/><stop offset="0.5463" stop-color="#f8cd9e"/><stop offset="0.5582" stop-color="#f9cfa1"/><stop offset="0.5701" stop-color="#f8cb9b"/><stop offset="0.5819" stop-color="#f7c28f"/><stop offset="0.5938" stop-color="#f5ae77"/><stop offset="0.6057" stop-color="#f49b64"/><stop offset="0.6176" stop-color="#f38755"/><stop offset="0.6295" stop-color="#f27155"/><stop offset="0.6413" stop-color="#f15b5b"/><stop offset="0.6532" stop-color="#ef4769"/><stop offset="0.6651" stop-color="#eb3282"/><stop offset="0.6770" stop-color="#e2209d"/><stop offset="0.6888" stop-color="#d51bac"/><stop offset="0.7007" stop-color="#c818b6"/><stop offset="0.7126" stop-color="#b713be"/><stop offset="0.7245" stop-color="#9c0dc5"/><stop offset="0.7363" stop-color="#810ac8"/><stop offset="0.7482" stop-color="#6c07c8"/><stop offset="0.7601" stop-color="#5a05c8"/><stop offset="0.7720" stop-color="#4903c6"/><stop offset="0.7838" stop-color="#3901c4"/><stop offset="0.7957" stop-color="#2c00bf"/><stop offset="0.8076" stop-color="#2200b8"/><stop offset="0.8195" stop-color="#1800b2"/><stop offset="0.8314" stop-color="#1000a9"/><stop offset="0.8432" stop-color="#0a00a3"/><stop offset="0.8551" stop-color="#06009f"/><stop offset="0.8670" stop-color="#02009c"/><stop offset="0.8789" stop-color="#000197"/><stop offset="0.8907" stop-color="#000391"/><stop offset="0.9026" stop-color="#00058a"/><stop offset="0.9145" stop-color="#000786"/><stop offset="0.9264" stop-color="#000884"/><stop offset="0.9382" stop-color="#000983"/><stop offset="0.9501" stop-color="#000982"/><stop offset="0.9620" stop-color="#000a81"/><stop offset="0.9739" stop-color="#000a80"/><stop offset="0.9857" stop-color="#000a7f"/><stop offset="0.9976" stop-color="#000b7f"/><stop offset="1.0000" stop-color="#000b7f"/></linearGradient>
<linearGradient id="g19" x1="0" x2="1" y1="0" y2="0"><stop offset="0.0000" stop-color="#000b7f"/><stop offset="0.0119" stop-color="#000b7f"/><stop offset="0.0238" stop-color="#000a80"/><stop offset="0.0356" stop-color="#000a80"/><stop offset="0.0475" stop-color="#000981"/><stop offset="0.0594" stop-color="#000982"/><stop offset="0.0713" stop-color="#000883"/><stop offset="0.0831" stop-color="#000785"/><stop offset="0.0950" stop-color="#000688"/><stop offset="0.1069" stop-color="#00038f"/><stop offset="0.1188" stop-color="#000196"/><stop offset="0.1306" stop-color="#02009b"/><stop offset="0.1425" stop-color="#06009f"/><stop offset="0.1544" stop-color="#0a00a4"/><stop offset="0.1663" stop-color="#1100aa"/><stop offset="0.1781" stop-color="#1900b2"/><stop offset="0.1900" stop-color="#2400b9"/><stop offset="0.2019" stop-color="#2e00c0"/><stop offset="0.2138" stop-color="#3c01c4"/><stop offset="0.2257" stop-color="#4c03c6"/><stop offset="0.2375" stop-color="#5e06c8"/><stop offset="0.2494" stop-color="#7208c8"/><stop offset="0.2613" stop-color="#880bc7"/><stop offset="0.2732" stop-color="#a50ec4"/><stop offset="0.2850" stop-color="#bd14bb"/><stop offset="0.2969" stop-color="#cc19b4"/><stop offset="0.3088" stop-color="#d91ca8"/><stop offset="0.3207" stop-color="#e42496"/><stop offset="0.3325" stop-color="#ec397a"/><stop offset="0.3444" stop-color="#f04d63"/><stop offset="0.3563" stop-color="#f26157"/><stop offset="0.3682" stop-color="#f37855"/><stop offset="0.3800" stop-color="#f38d56"/><stop offset="0.3919" stop-color="#f4a069"/><stop offset="0.4038" stop-color="#f6b47f"/><stop offset="0.4157" stop-color="#f7c695"/><stop offset="0.4276" stop-color="#f8cc9d"/><stop offset="0.4394" stop-color="#f9cfa0"/><stop offset="0.4513" stop-color="#f8cb9c"/><stop offset="0.4632" stop-color="#f7c18f"/><stop offset="0.4751" stop-color="#f5a871"/><stop offset="0.4869" stop-color="#f3915a"/><stop offset="0.4988" stop-color="#f38c55"/><stop offset="0.5107" stop-color="#f4955e"/><stop offset="0.5226" stop-color="#f5ae78"/><stop offset="0.5344" stop-color="#f7c695"/><stop offset="0.5463" stop-color="#f8cd9e"/><stop offset="0.5582" stop-color="#f9cfa0"/><stop offset="0.5701" stop-color="#f8ca9b"/><stop offset="0.5819" stop-color="#f7c18e"/><stop offset="0.5938" stop-color="#f5ad76"/><stop offset="0.6057" stop-color="#f49a63"/><stop offset="0.6176" stop-color="#f38755"/><stop offset="0.6295" stop-color="#f27055"/><stop offset="0.6413" stop-color="#f15a5b"/><stop offset="0.6532" stop-color="#ef466a"/><stop offset="0.6651" stop-color="#ea3184"/><stop offset="0.6770" stop-color="#e21f9e"/><stop offset="0.6888" stop-color="#d41bad"/><stop offset="0.7007" stop-color="#c817b6"/><stop offset="0.7126" stop-color="#b512be"/><stop offset="0.7245" stop-color="#9a0dc5"/><stop offset="0.7363" stop-color="#800ac8"/><stop offset="0.7482" stop-color="#6b07c8"/><stop offset="0.7601" stop-color="#5805c8"/><stop offset="0.7720" stop-color="#4703c6"/><stop offset="0.7838" stop-color="#3701c4"/><stop offset="0.7957" stop-color="#2b00bf"/><stop offset="0.8076" stop-color="#2100b8"/><stop offset="0.8195" stop-color="#1700b1"/><stop offset="0.8314" stop-color="#0f00a9"/><stop offset="0.8432" stop-color="#0a00a3"/><stop offset="0.8551" stop-color="#06009f"/><stop offset="0.8670" stop-color="#02009b"/><stop offset="0.8789" stop-color="#000197"/><stop offset="0.8907" stop-color="#000390"/><stop offset="0.9026" stop-color="#00058a"/><stop offset="0.9145" stop-color="#000786"/><stop offset="0.9264" stop-color="#000884"/><stop offset="0.9382" stop-color="#000983"/><stop offset="0.9501" stop-color="#000982"/><stop offset="0.9620" stop-color="#000a81"/><stop offset="0.9739" stop-color="#000a80"/><stop offset="0.9857" stop-color="#000a7f"/><stop offset="0.9976" stop-color="#000b7f"/><stop offset="1.0000" stop-color="#000b7f"/></linearGradient>
<linearGradient id="g20" x1="0" x2="1" y1="0" y2="0"><stop offset="0.0000" stop-color="#000b7f"/><stop offset="0.0119" stop-color="#000b7f"/><stop offset="0.0238" stop-color="#000a80"/><stop offset="0.0356" stop-color="#000a80"/><stop offset="0.0475" stop-color="#000981"/><stop offset="0.0594" stop-color="#000982"/><stop offset="0.0713" stop-color="#000883"/><stop offset="0.0831" stop-color="#000785"/><stop offset="0.0950" stop-color="#000688"/><stop offset="0.1069" stop-color="#00048f"/><stop offset="0.1188" stop-color="#000196"/><stop offset="0.1306" stop-color="#02009b"/><stop offset="0.1425" stop-color="#06009f"/><stop offset="0.1544" stop-color="#0a00a3"/><stop offset="0.1663" stop-color="#1000aa"/><stop offset="0.1781" stop-color="#1900b2"/><stop offset="0.1900" stop-color="#2300b9"/><stop offset="0.2019" stop-color="#2d00c0"/><stop offset="0.2138" stop-color="#3b01c4"/><stop offset="0.2257" stop-color="#4b03c6"/><stop offset="0.2375" stop-color="#5d05c8"/><stop offset="0.2494" stop-color="#7108c8"/><stop offset="0.2613" stop-color="#870bc7"/><stop offset="0.2732" stop-color="#a30ec4"/><stop offset="0.2850" stop-color="#bc14bb"/><stop offset="0.2969" stop-color="#cc19b5"/><stop offset="0.3088" stop-color="#d81ca9"/><stop offset="0.3207" stop-color="#e42497"/><stop offset="0.3325" stop-color="#ec387b"/><stop offset="0.3444" stop-color="#f04c63"/><stop offset="0.3563" stop-color="#f26057"/><stop offset="0.3682" stop-color="#f27855"/><stop offset="0.3800" stop-color="#f38d56"/><stop offset="0.3919" stop-color="#f4a069"/><stop offset="0.4038" stop-color="#f6b37e"/><stop offset="0.4157" stop-color="#f7c594"/><stop offset="0.4276" stop-color="#f8cc9d"/><stop offset="0.4394" stop-color="#f9cea0"/><stop offset="0.4513" stop-color="#f8cb9c"/><stop offset="0.4632" stop-color="#f7c18f"/><stop offset="0.4751" stop-color="#f5a871"/><stop offset="0.4869" stop-color="#f3915a"/><stop offset="0.4988" stop-color="#f38c55"/><stop offset="0.5107" stop-color="#f4955e"/><stop offset="0.5226" stop-color="#f5ae78"/><stop offset="0.5344" stop-color="#f7c696"/><stop offset="0.5463" stop-color="#f8cd9e"/><stop offset="0.5582" stop-color="#f9cea0"/><stop offset="0.5701" stop-color="#f8ca9a"/><stop offset="0.5819" stop-color="#f7c08d"/><stop offset="0.5938" stop-color="#f5ac75"/><stop offset="0.6057" stop-color="#f49962"/><stop offset="0.6176" stop-color="#f38655"/><stop offset="0.6295" stop-color="#f26f55"/><stop offset="0.6413" stop-color="#f1595c"/><stop offset="0.6532" stop-color="#ef456b"/><stop offset="0.6651" stop-color="#ea3085"/><stop offset="0.6770" stop-color="#e11f9f"/><stop offset="0.6888" stop-color="#d31bae"/><stop offset="0.7007" stop-color="#c717b7"/><stop offset="0.7126" stop-color="#b412bf"/><stop offset="0.7245" stop-color="#980dc5"/><stop offset="0.7363" stop-color="#7e0ac8"/><stop offset="0.7482" stop-color="#6907c8"/><stop offset="0.7601" stop-color="#5705c8"/><stop offset="0.7720" stop-color="#4602c5"/><stop offset="0.7838" stop-color="#3601c4"/><stop offset="0.7957" stop-color="#2b00be"/><stop offset="0.8076" stop-color="#2000b7"/><stop offset="0.8195" stop-color="#1700b0"/><stop offset="0.8314" stop-color="#0f00a8"/><stop offset="0.8432" stop-color="#0900a3"/><stop offset="0.8551" stop-color="#05009f"/><stop offset="0.8670" stop-color="#02009b"/><stop offset="0.8789" stop-color="#000196"/><stop offset="0.8907" stop-color="#000390"/><stop offset="0.9026" stop-color="#000689"/><stop offset="0.9145" stop-color="#000785"/><stop offset="0.9264" stop-color="#000884"/><stop offset="0.9382" stop-color="#000982"/><stop offset="0.9501" stop-color="#000981"/><stop offset="0.9620" stop-color="#000a81"/><stop offset="0.9739" stop-color="#000a80"/><stop offset="0.9857" stop-color="#000a7f"/><stop offset="0.9976" stop-color="#000b7f"/><stop offset="1.0000" stop-color="#000b7f"/></linearGradient>
<linearGradient id="g21" x1="0" x2="1" y1="0" y2="0"><stop offset="0.0000" stop-color="#000b7f"/><stop offset="0.0119" stop-color="#000b7f"/><stop offset="0.0238" stop-color="#000a80"/><stop offset="0.0356" stop-color="#000a80"/><stop offset="0.0475" stop-color="#000981"/><stop offset="0.0594" stop-color="#000982"/><stop offset="0.0713" stop-color="#000883"/><stop offset="0.0831" stop-color="#000785"/><stop offset="0.0950" stop-color="#000688"/><stop offset="0.1069" stop-color="#00048e"/><stop offset="0.1188" stop-color="#000196"/><stop offset="0.1306" stop-color="#02009b"/><stop offset="0.1425" stop-color="#06009f"/><stop offset="0.1544" stop-color="#0a00a3"/><stop offset="0.1663" stop-color="#0f00a9"/><stop offset="0.1781" stop-color="#1800b1"/><stop offset="0.1900" stop-color="#2200b8"/><stop offset="0.2019" stop-color="#2d00bf"/><stop offset="0.2138" stop-color="#3901c4"/><stop offset="0.2257" stop-color="#4a03c6"/><stop offset="0.2375" stop-color="#5c05c8"/><stop offset="0.2494" stop-color="#6f08c8"/><stop offset="0.2613" stop-color="#860ac8"/><stop offset="0.2732" stop-color="#a20ec4"/><stop offset="0.2850" stop-color="#bb14bc"/><stop offset="0.2969" stop-color="#cb18b5"/><stop offset="0.3088" stop-color="#d71caa"/><stop offset="0.3207" stop-color="#e42398"/><stop offset="0.3325" stop-color="#ec377c"/><stop offset="0.3444" stop-color="#f04b64"/><stop offset="0.3563" stop-color="#f25f58"/><stop offset="0.3682" stop-color="#f27755"/><stop offset="0.3800" stop-color="#f38c55"/><stop offset="0.3919" stop-color="#f49f68"/><stop offset="0.4038" stop-color="#f6b27d"/><stop offset="0.4157" stop-color="#f7c593"/><stop offset="0.4276" stop-color="#f8cc9d"/><stop offset="0.4394" stop-color="#f8cea0"/><stop offset="0.4513" stop-color="#f8cb9b"/><stop offset="0.4632" stop-color="#f7c18f"/><stop offset="0.4751" stop-color="#f5a871"/><stop offset="0.4869" stop-color="#f3915a"/><stop offset="0.4988" stop-color="#f38c55"/><stop offset="0.5107" stop-color="#f4955e"/><stop offset="0.5226" stop-color="#f5af79"/><stop offset="0.5344" stop-color="#f7c696"/><stop offset="0.5463" stop-color="#f8cd9e"/><stop offset="0.5582" stop-color="#f8cea0"/><stop offset="0.5701" stop-color="#f8c99a"/><stop offset="0.5819" stop-color="#f7bf8c"/><stop offset="0.5938" stop-color="#f5ab74"/><stop offset="0.6057" stop-color="#f49861"/><stop offset="0.6176" stop-color="#f38555"/><stop offset="0.6295" stop-color="#f26e55"/><stop offset="0.6413" stop-color="#f1585c"/><stop offset="0.6532" stop-color="#ef446d"/><stop offset="0.6651" stop-color="#e92f87"/><stop offset="0.6770" stop-color="#e11ea0"/><stop offset="0.6888" stop-color="#d31aae"/><stop offset="0.7007" stop-color="#c617b7"/><stop offset="0.7126" stop-color="#b211c0"/><stop offset="0.7245" stop-color="#970dc5"/><stop offset="0.7363" stop-color="#7d09c8"/><stop offset="0.7482" stop-color="#6807c8"/><stop offset="0.7601" stop-color="#5504c7"/><stop offset="0.7720" stop-color="#4402c5"/><stop offset="0.7838" stop-color="#3500c3"/><stop offset="0.7957" stop-color="#2a00bd"/><stop offset="0.8076" stop-color="#1f00b6"/><stop offset="0.8195" stop-color="#1600b0"/><stop offset="0.8314" stop-color="#0e00a8"/><stop offset="0.8432" stop-color="#0900a2"/><stop offset="0.8551" stop-color="#05009e"/><stop offset="0.8670" stop-color="#01009b"/><stop offset="0.8789" stop-color="#000196"/><stop offset="0.8907" stop-color="#00038f"/><stop offset="0.9026" stop-color="#000689"/><stop offset="0.9145" stop-color="#000785"/><stop offset="0.9264" stop-color="#000884"/><stop offset="0.9382" stop-color="#000982"/><stop offset="0.9501" stop-color="#000981"/><stop offset="0.9620" stop-color="#000a81"/><stop offset="0.9739" stop-color="#000a80"/><stop offset="0.9857" stop-color="#000a7f"/><stop offset="0.9976" stop-color="#000b7f"/><stop offset="1.0000" stop-color="#000b7f"/></linearGradient>
<linearGradient id="g22" x1="0" x2="1" y1="0" y2="0"><stop offset="0.0000" stop-color="#000b7f"/><stop offset="0.0119" stop-color="#000b7f"/><stop offset="0.0238" stop-color="#000a80"/><stop offset="0.0356" stop-color="#000a80"/><stop offset="0.0475" stop-color="#000981"/><stop offset="0.0594" stop-color="#000982"/><stop offset="0.0713" stop-color="#000883"/><stop offset="0.0831" stop-color="#000784"/><stop offset="0.0950" stop-color="#000687"/><stop offset="0.1069" stop-color="#00048e"/><stop offset="0.1188" stop-color="#000195"/><stop offset="0.1306" stop-color="#01009a"/><stop offset="0.1425" stop-color="#05009e"/><stop offset="0.1544" stop-color="#0900a3"/><stop offset="0.1663" stop-color="#0f00a8"/><stop offset="0.1781" stop-color="#1700b1"/><stop offset="0.1900" stop-color="#2100b8"/><stop offset="0.2019" stop-color="#2c00bf"/><stop offset="0.2138" stop-color="#3801c4"/><stop offset="0.2257" stop-color="#4803c6"/><stop offset="0.2375" stop-color="#5a05c8"/><stop offset="0.2494" stop-color="#6e08c8"/><stop offset="0.2613" stop-color="#850ac8"/><stop offset="0.2732" stop-color="#a00ec4"/><stop offset="0.2850" stop-color="#b913bc"/><stop offset="0.2969" stop-color="#ca18b5"/><stop offset="0.3088" stop-color="#d71baa"/><stop offset="0.3207" stop-color="#e32299"/><stop offset="0.3325" stop-color="#ec367d"/><stop offset="0.3444" stop-color="#f04b65"/><stop offset="0.3563" stop-color="#f25e58"/><stop offset="0.3682" stop-color="#f27655"/><stop offset="0.3800" stop-color="#f38b55"/><stop offset="0.3919" stop-color="#f49e67"/><stop offset="0.4038" stop-color="#f6b27c"/><stop offset="0.4157" stop-color="#f7c493"/><stop offset="0.4276" stop-color="#f8cb9c"/><stop offset="0.4394" stop-color="#f8cea0"/><stop offset="0.4513" stop-color="#f8cb9b"/><stop offset="0.4632" stop-color="#f7c18f"/><stop offset="0.4751" stop-color="#f5a871"/><stop offset="0.4869" stop-color="#f3915a"/><stop offset="0.4988" stop-color="#f38c55"/><stop offset="0.5107" stop-color="#f4955e"/><stop offset="0.5226" stop-color="#f5af79"/><stop offset="0.5344" stop-color="#f7c796"/><stop offset="0.5463" stop-color="#f8cd9e"/><stop offset="0.5582" stop-color="#f8ce9f"/><stop offset="0.5701" stop-color="#f8c999"/><stop offset="0.5819" stop-color="#f7be8b"/><stop offset="0.5938" stop-color="#f5aa73"/><stop offset="0.6057" stop-color="#f49760"/><stop offset="0.6176" stop-color="#f38455"/><stop offset="0.6295" stop-color="#f26c55"/><stop offset="0.6413" stop-color="#f1565d"/><stop offset="0.6532" stop-color="#ee436e"/><stop offset="0.6651" stop-color="#e92e89"/><stop offset="0.6770" stop-color="#e01ea1"/><stop offset="0.6888" stop-color="#d21aaf"/><stop offset="0.7007" stop-color="#c417b8"/><stop offset="0.7126" stop-color="#b011c0"/><stop offset="0.7245" stop-color="#950cc6"/><stop offset="0.7363" stop-color="#7b09c8"/><stop offset="0.7482" stop-color="#6607c8"/><stop offset="0.7601" stop-color="#5304c7"/><stop offset="0.7720" stop-color="#4302c5"/><stop offset="0.7838" stop-color="#3300c3"/><stop offset="0.7957" stop-color="#2900bd"/><stop offset="0.8076" stop-color="#1f00b6"/><stop offset="0.8195" stop-color="#1500af"/><stop offset="0.8314" stop-color="#0d00a7"/><stop offset="0.8432" stop-color="#0800a2"/><stop offset="0.8551" stop-color="#05009e"/><stop offset="0.8670" stop-color="#01009a"/><stop offset="0.8789" stop-color="#000195"/><stop offset="0.8907" stop-color="#00048f"/><stop offset="0.9026" stop-color="#000689"/><stop offset="0.9145" stop-color="#000785"/><stop offset="0.9264" stop-color="#000884"/><stop offset="0.9382" stop-color="#000982"/><stop offset="0.9501" stop-color="#000981"/><stop offset="0.9620" stop-color="#000a81"/><stop offset="0.9739" stop-color="#000a80"/><stop offset="0.9857" stop-color="#000b7f"/><stop offset="0.9976" stop-color="#000b7f"/><stop offset="1.0000" stop-color="#000b7f"/></linearGradient>
<linearGradient id="g23" x1="0" x2="1" y1="0" y2="0"><stop offset="0.0000" stop-color="#000b7f"/><stop offset="0.0119" stop-color="#000b7f"/><stop offset="0.0238" stop-color="#000a80"/><stop offset="0.0356" stop-color="#000a80"/><stop offset="0.0475" stop-color="#000981"/><stop offset="0.0594" stop-color="#000982"/><stop offset="0.0713" stop-color="#000883"/><stop offset="0.0831" stop-color="#000784"/><stop offset="0.0950" stop-color="#000687"/><stop offset="0.1069" stop-color="#00048d"/><stop offset="0.1188" stop-color="#000294"/><stop offset="0.1306" stop-color="#01009a"/><stop offset="0.1425" stop-color="#05009e"/><stop offset="0.1544" stop-color="#0900a2"/><stop offset="0.1663" stop-color="#0e00a8"/><stop offset="0.1781" stop-color="#1600b0"/><stop offset="0.1900" stop-color="#2000b7"/><stop offset="0.2019" stop-color="#2b00be"/><stop offset="0.2138" stop-color="#3701c4"/><stop offset="0.2257" stop-color="#4703c6"/><stop offset="0.2375" stop-color="#5805c8"/><stop offset="0.2494" stop-color="#6d07c8"/><stop offset="0.2613" stop-color="#830ac8"/><stop offset="0.2732" stop-color="#9e0ec4"/><stop offset="0.2850" stop-color="#b813bd"/><stop offset="0.2969" stop-color="#c918b6"/><stop offset="0.3088" stop-color="#d61bab"/><stop offset="0.3207" stop-color="#e3229b"/><stop offset="0.3325" stop-color="#ec357e"/><stop offset="0.3444" stop-color="#f04a66"/><stop offset="0.3563" stop-color="#f15e59"/><stop offset="0.3682" stop-color="#f27555"/><stop offset="0.3800" stop-color="#f38b55"/><stop offset="0.3919" stop-color="#f49d66"/><stop offset="0.4038" stop-color="#f6b17b"/><stop offset="0.4157" stop-color="#f7c492"/><stop offset="0.4276" stop-color="#f8cb9c"/><stop offset="0.4394" stop-color="#f8ce9f"/><stop offset="0.4513" stop-color="#f8cb9b"/><stop offset="0.4632" stop-color="#f7c18f"/><stop offset="0.4751" stop-color="#f5a871"/><stop offset="0.4869" stop-color="#f3915a"/><stop offset="0.4988" stop-color="#f38c55"/><stop offset="0.5107" stop-color="#f4965f"/><stop offset="0.5226" stop-color="#f5af7a"/><stop offset="0.5344" stop-color="#f7c796"/><stop offset="0.5463" stop-color="#f8cc9e"/><stop offset="0.5582" stop-color="#f8cd9f"/><stop offset="0.5701" stop-color="#f8c998"/><stop offset="0.5819" stop-color="#f7bd8a"/><stop offset="0.5938" stop-color="#f5a972"/><stop offset="0.6057" stop-color="#f4965f"/><stop offset="0.6176" stop-color="#f38255"/><stop offset="0.6295" stop-color="#f26b55"/><stop offset="0.6413" stop-color="#f1555e"/><stop offset="0.6532" stop-color="#ee426f"/><stop offset="0.6651" stop-color="#e82c8b"/><stop offset="0.6770" stop-color="#df1da2"/><stop offset="0.6888" stop-color="#d11ab0"/><stop offset="0.7007" stop-color="#c316b8"/><stop offset="0.7126" stop-color="#af10c1"/><stop offset="0.7245" stop-color="#930cc6"/><stop offset="0.7363" stop-color="#7a09c8"/><stop offset="0.7482" stop-color="#6406c8"/><stop offset="0.7601" stop-color="#5104c7"/><stop offset="0.7720" stop-color="#4102c5"/><stop offset="0.7838" stop-color="#3200c3"/><stop offset="0.7957" stop-color="#2800bc"/><stop offset="0.8076" stop-color="#1e00b5"/><stop offset="0.8195" stop-color="#1400ae"/><stop offset="0.8314" stop-color="#0d00a7"/><stop offset="0.8432" stop-color="#0800a1"/><stop offset="0.8551" stop-color="#04009e"/><stop offset="0.8670" stop-color="#01009a"/><stop offset="0.8789" stop-color="#000195"/><stop offset="0.8907" stop-color="#00048e"/><stop offset="0.9026" stop-color="#000688"/><stop offset="0.9145" stop-color="#000785"/><stop offset="0.9264" stop-color="#000884"/><stop offset="0.9382" stop-color="#000982"/><stop offset="0.9501" stop-color="#000981"/><stop offset="0.9620" stop-color="#000a81"/><stop offset="0.9739" stop-color="#000a80"/><stop offset="0.9857" stop-color="#000b7f"/><stop offset="0.9976" stop-color="#000b7f"/><stop offset="1.0000" stop-color="#000b7f"/></linearGradient>
<linearGradient id="g24" x1="0" x2="1" y1="0" y2="0"><stop offset="0.0000" stop-color="#000b7f"/><stop offset="0.0119" stop-color="#000b7f"/><stop offset="0.0238" stop-color="#000a80"/><stop offset="0.0356" stop-color="#000a80"/><stop offset="0.0475" stop-color="#000981"/><stop offset="0.0594" stop-color="#000982"/><stop offset="0.0713" stop-color="#000883"/><stop offset="0.0831" stop-color="#000784"/><stop offset="0.0950" stop-color="#000687"/><stop offset="0.1069" stop-color="#00048d"/><stop offset="0.1188" stop-color="#000294"/><stop offset="0.1306" stop-color="#000099"/><stop offset="0.1425" stop-color="#05009e"/><stop offset="0.1544" stop-color="#0800a2"/><stop offset="0.1663" stop-color="#0e00a7"/><stop offset="0.1781" stop-color="#1600b0"/><stop offset="0.1900" stop-color="#1f00b6"/><stop offset="0.2019" stop-color="#2a00be"/><stop offset="0.2138" stop-color="#3500c3"/><stop offset="0.2257" stop-color="#4502c5"/><stop offset="0.2375" stop-color="#5705c8"/><stop offset="0.2494" stop-color="#6b07c8"/><stop offset="0.2613" stop-color="#820ac8"/><stop offset="0.2732" stop-color="#9d0dc5"/><stop offset="0.2850" stop-color="#b613be"/><stop offset="0.2969" stop-color="#c818b6"/><stop offset="0.3088" stop-color="#d51bac"/><stop offset="0.3207" stop-color="#e2219c"/><stop offset="0.3325" stop-color="#eb3480"/><stop offset="0.3444" stop-color="#f04967"/><stop offset="0.3563" stop-color="#f15d59"/><stop offset="0.3682" stop-color="#f27455"/><stop offset="0.3800" stop-color="#f38a55"/><stop offset="0.3919" stop-color="#f49d66"/><stop offset="0.4038" stop-color="#f5b07a"/><stop offset="0.4157" stop-color="#f7c391"/><stop offset="0.4276" stop-color="#f8cb9b"/><stop offset="0.4394" stop-color="#f8cd9f"/><stop offset="0.4513" stop-color="#f8ca9b"/><stop offset="0.4632" stop-color="#f7c28f"/><stop offset="0.4751" stop-color="#f5a871"/><stop offset="0.4869" stop-color="#f3915a"/><stop offset="0.4988" stop-color="#f38c55"/><stop offset="0.5107" stop-color="#f4965f"/><stop offset="0.5226" stop-color="#f5b07a"/><stop offset="0.5344" stop-color="#f7c796"/><stop offset="0.5463" stop-color="#f8cc9d"/><stop offset="0.5582" stop-color="#f8cd9e"/><stop offset="0.5701" stop-color="#f8c898"/><stop offset="0.5819" stop-color="#f6bc88"/><stop offset="0.5938" stop-color="#f5a871"/><stop offset="0.6057" stop-color="#f4955e"/><stop offset="0.6176" stop-color="#f38155"/><stop offset="0.6295" stop-color="#f26955"/><stop offset="0.6413" stop-color="#f1545f"/><stop offset="0.6532" stop-color="#ee4071"/><stop offset="0.6651" stop-color="#e72b8d"/><stop offset="0.6770" stop-color="#de1da3"/><stop offset="0.6888" stop-color="#d01ab1"/><stop offset="0.7007" stop-color="#c216b9"/><stop offset="0.7126" stop-color="#ad10c2"/><stop offset="0.7245" stop-color="#910cc6"/><stop offset="0.7363" stop-color="#7809c8"/><stop offset="0.7482" stop-color="#6206c8"/><stop offset="0.7601" stop-color="#5004c7"/><stop offset="0.7720" stop-color="#3f02c5"/><stop offset="0.7838" stop-color="#3100c2"/><stop offset="0.7957" stop-color="#2700bb"/><stop offset="0.8076" stop-color="#1d00b5"/><stop offset="0.8195" stop-color="#1300ad"/><stop offset="0.8314" stop-color="#0c00a6"/><stop offset="0.8432" stop-color="#0800a1"/><stop offset="0.8551" stop-color="#04009d"/><stop offset="0.8670" stop-color="#000099"/><stop offset="0.8789" stop-color="#000294"/><stop offset="0.8907" stop-color="#00048e"/><stop offset="0.9026" stop-color="#000688"/><stop offset="0.9145" stop-color="#000785"/><stop offset="0.9264" stop-color="#000883"/><stop offset="0.9382" stop-color="#000982"/><stop offset="0.9501" stop-color="#000981"/><stop offset="0.9620" stop-color="#000a81"/><stop offset="0.9739" stop-color="#000a80"/><stop offset="0.9857" stop-color="#000b7f"/><stop offset="0.9976" stop-color="#000b7f"/><stop offset="1.0000" stop-color="#000b7f"/></linearGradient>
<linearGradient id="g25" x1="0" x2="1" y1="0" y2="0"><stop offset="0.0000" stop-color="#000b7f"/><stop offset="0.0119" stop-color="#000b7f"/><stop offset="0.0238" stop-color="#000a80"/><stop offset="0.0356" stop-color="#000a80"/><stop offset="0.0475" stop-color="#000981"/><stop offset="0.0594" stop-color="#000982"/><stop offset="0.0713" stop-color="#000883"/><stop offset="0.0831" stop-color="#000784"/><stop offset="0.0950" stop-color="#000687"/><stop offset="0.1069" stop-color="#00048c"/><stop offset="0.1188" stop-color="#000293"/><stop offset="0.1306" stop-color="#000099"/><stop offset="0.1425" stop-color="#04009d"/><stop offset="0.1544" stop-color="#0800a1"/><stop offset="0.1663" stop-color="#0d00a7"/><stop offset="0.1781" stop-color="#1500af"/><stop offset="0.1900" stop-color="#1f00b6"/><stop offset="0.2019" stop-color="#2900bd"/><stop offset="0.2138" stop-color="#3400c3"/><stop offset="0.2257" stop-color="#4402c5"/><stop offset="0.2375" stop-color="#5504c7"/><stop offset="0.2494" stop-color="#6a07c8"/><stop offset="0.2613" stop-color="#810ac8"/><stop offset="0.2732" stop-color="#9b0dc5"/><stop offset="0.2850" stop-color="#b512be"/><stop offset="0.2969" stop-color="#c717b7"/><stop offset="0.3088" stop-color="#d41bad"/><stop offset="0.3207" stop-color="#e2209d"/><stop offset="0.3325" stop-color="#eb3281"/><stop offset="0.3444" stop-color="#ef4868"/><stop offset="0.3563" stop-color="#f15c5a"/><stop offset="0.3682" stop-color="#f27355"/><stop offset="0.3800" stop-color="#f38955"/><stop offset="0.3919" stop-color="#f49c65"/><stop offset="0.4038" stop-color="#f5af79"/><stop offset="0.4157" stop-color="#f7c290"/><stop offset="0.4276" stop-color="#f8ca9a"/><stop offset="0.4394" stop-color="#f8cd9f"/><stop offset="0.4513" stop-color="#f8ca9b"/><stop offset="0.4632" stop-color="#f7c28f"/><stop offset="0.4751" stop-color="#f5a972"/><stop offset="0.4869" stop-color="#f3915a"/><stop offset="0.4988" stop-color="#f38c55"/><stop offset="0.5107" stop-color="#f4965f"/><stop offset="0.5226" stop-color="#f6b07b"/><stop offset="0.5344" stop-color="#f7c696"/><stop offset="0.5463" stop-color="#f8cc9d"/><stop offset="0.5582" stop-color="#f8cd9e"/><stop offset="0.5701" stop-color="#f8c797"/><stop offset="0.5819" stop-color="#f6ba87"/><stop offset="0.5938" stop-color="#f5a66f"/><stop offset="0.6057" stop-color="#f4945d"/><stop offset="0.6176" stop-color="#f38055"/><stop offset="0.6295" stop-color="#f26855"/><stop offset="0.6413" stop-color="#f1535f"/><stop offset="0.6532" stop-color="#ee3f73"/><stop offset="0.6651" stop-color="#e72a8f"/><stop offset="0.6770" stop-color="#dc1da5"/><stop offset="0.6888" stop-color="#cf19b2"/><stop offset="0.7007" stop-color="#c015ba"/><stop offset="0.7126" stop-color="#ab0fc3"/><stop offset="0.7245" stop-color="#8f0cc6"/><stop offset="0.7363" stop-color="#7609c8"/><stop offset="0.7482" stop-color="#6006c8"/><stop offset="0.7601" stop-color="#4e03c6"/><stop offset="0.7720" stop-color="#3e01c4"/><stop offset="0.7838" stop-color="#3000c2"/><stop offset="0.7957" stop-color="#2600bb"/><stop offset="0.8076" stop-color="#1c00b4"/><stop offset="0.8195" stop-color="#1300ad"/><stop offset="0.8314" stop-color="#0c00a5"/><stop offset="0.8432" stop-color="#0700a1"/><stop offset="0.8551" stop-color="#04009d"/><stop offset="0.8670" stop-color="#000099"/><stop offset="0.8789" stop-color="#000294"/><stop offset="0.8907" stop-color="#00048d"/><stop offset="0.9026" stop-color="#000688"/><stop offset="0.9145" stop-color="#000785"/><stop offset="0.9264" stop-color="#000883"/><stop offset="0.9382" stop-color="#000982"/><stop offset="0.9501" stop-color="#000981"/><stop offset="0.9620" stop-color="#000a81"/><stop offset="0.9739" stop-color="#000a80"/><stop offset="0.9857" stop-color="#000b7f"/><stop offset="0.9976" stop-color="#000b7f"/><stop offset="1.0000" stop-color="#000b7f"/></linearGradient>
<linearGradient id="g26" x1="0" x2="1" y1="0" y2="0"><stop offset="0.0000" stop-color="#000b7f"/><stop offset="0.0119" stop-color="#000b7f"/><stop offset="0.0238" stop-color="#000a80"/><stop offset="0.0356" stop-color="#000a80"/><stop offset="0.0475" stop-color="#000a81"/><stop offset="0.0594" stop-color="#000982"/><stop offset="0.0713" stop-color="#000883"/><stop offset="0.0831" stop-color="#000884"/><stop offset="0.0950" stop-color="#000786"/><stop offset="0.1069" stop-color="#00058c"/><stop offset="0.1188" stop-color="#000293"/><stop offset="0.1306" stop-color="#000099"/><stop offset="0.1425" stop-color="#04009d"/><stop offset="0.1544" stop-color="#0800a1"/><stop offset="0.1663" stop-color="#0d00a6"/><stop offset="0.1781" stop-color="#1400ae"/><stop offset="0.1900" stop-color="#1e00b5"/><stop offset="0.2019" stop-color="#2800bc"/><stop offset="0.2138" stop-color="#3300c3"/><stop offset="0.2257" stop-color="#4202c5"/><stop offset="0.2375" stop-color="#5404c7"/><stop offset="0.2494" stop-color="#6807c8"/><stop offset="0.2613" stop-color="#7f0ac8"/><stop offset="0.2732" stop-color="#990dc5"/><stop offset="0.2850" stop-color="#b312bf"/><stop offset="0.2969" stop-color="#c617b7"/><stop offset="0.3088" stop-color="#d31bae"/><stop offset="0.3207" stop-color="#e21f9e"/><stop offset="0.3325" stop-color="#eb3183"/><stop offset="0.3444" stop-color="#ef466a"/><stop offset="0.3563" stop-color="#f15a5b"/><stop offset="0.3682" stop-color="#f27155"/><stop offset="0.3800" stop-color="#f38855"/><stop offset="0.3919" stop-color="#f49b64"/><stop offset="0.4038" stop-color="#f5ae78"/><stop offset="0.4157" stop-color="#f7c28f"/><stop offset="0.4276" stop-color="#f8ca9a"/><stop offset="0.4394" stop-color="#f8cd9e"/><stop offset="0.4513" stop-color="#f8ca9b"/><stop offset="0.4632" stop-color="#f7c28f"/><stop offset="0.4751" stop-color="#f5a972"/><stop offset="0.4869" stop-color="#f3915a"/><stop offset="0.4988" stop-color="#f38c55"/><stop offset="0.5107" stop-color="#f4965f"/><stop offset="0.5226" stop-color="#f6b17b"/><stop offset="0.5344" stop-color="#f7c696"/><stop offset="0.5463" stop-color="#f8cc9d"/><stop offset="0.5582" stop-color="#f8cc9d"/><stop offset="0.5701" stop-color="#f8c796"/><stop offset="0.5819" stop-color="#f6b985"/><stop offset="0.5938" stop-color="#f5a56e"/><stop offset="0.6057" stop-color="#f3925b"/><stop offset="0.6176" stop-color="#f37e55"/><stop offset="0.6295" stop-color="#f26655"/><stop offset="0.6413" stop-color="#f05160"/><stop offset="0.6532" stop-color="#ed3d75"/><stop offset="0.6651" stop-color="#e62891"/><stop offset="0.6770" stop-color="#db1da6"/><stop offset="0.6888" stop-color="#ce19b3"/><stop offset="0.7007" stop-color="#be15ba"/><stop offset="0.7126" stop-color="#a80fc3"/><stop offset="0.7245" stop-color="#8d0bc7"/><stop offset="0.7363" stop-color="#7408c8"/><stop offset="0.7482" stop-color="#5e06c8"/><stop offset="0.7601" stop-color="#4c03c6"/><stop offset="0.7720" stop-color="#3c01c4"/><stop offset="0.7838" stop-color="#2f00c1"/><stop offset="0.7957" stop-color="#2500ba"/><stop offset="0.8076" stop-color="#1b00b3"/><stop offset="0.8195" stop-color="#1200ac"/><stop offset="0.8314" stop-color="#0b00a5"/><stop offset="0.8432" stop-color="#0700a0"/><stop offset="0.8551" stop-color="#03009c"/><stop offset="0.8670" stop-color="#000099"/><stop offset="0.8789" stop-color="#000293"/><stop offset="0.8907" stop-color="#00048d"/><stop offset="0.9026" stop-color="#000687"/><stop offset="0.9145" stop-color="#000785"/><stop offset="0.9264" stop-color="#000883"/><stop offset="0.9382" stop-color="#000982"/><stop offset="0.9501" stop-color="#000981"/><stop offset="0.9620" stop-color="#000a81"/><stop offset="0.9739" stop-color="#000a80"/><stop offset="0.9857" stop-color="#000b7f"/><stop offset="0.9976" stop-color="#000b7f"/><stop offset="1.0000" stop-color="#000b7f"/></linearGradient>
<linearGradient id="g27" x1="0" x2="1" y1="0" y2="0"><stop offset="0.0000" stop-color="#000b7f"/><stop offset="0.0119" stop-color="#000b7f"/><stop offset="0.0238" stop-color="#000a80"/><stop offset="0.0356" stop-color="#000a80"/><stop offset="0.0475" stop-color="#000a81"/><stop offset="0.0594" stop-color="#000982"/><stop offset="0.0713" stop-color="#000883"/><stop offset="0.0831" stop-color="#000884"/><stop offset="0.0950" stop-color="#000786"/><stop offset="0.1069" stop-color="#00058b"/><stop offset="0.1188" stop-color="#000292"/><stop offset="0.1306" stop-color="#000098"/><stop offset="0.1425" stop-color="#04009d"/><stop offset="0.1544" stop-color="#0700a1"/><stop offset="0.1663" stop-color="#0c00a6"/><stop offset="0.1781" stop-color="#1300ad"/><stop offset="0.1900" stop-color="#1d00b5"/><stop offset="0.2019" stop-color="#2700bc"/><stop offset="0.2138" stop-color="#3200c3"/><stop offset="0.2257" stop-color="#4102c5"/><stop offset="0.2375" stop-color="#5204c7"/><stop offset="0.2494" stop-color="#6607c8"/><stop offset="0.2613" stop-color="#7e09c8"/><stop offset="0.2732" stop-color="#970dc5"/><stop offset="0.2850" stop-color="#b111c0"/><stop offset="0.2969" stop-color="#c517b8"/><stop offset="0.3088" stop-color="#d21aaf"/><stop offset="0.3207" stop-color="#e11e9f"/><stop offset="0.3325" stop-color="#ea3085"/><stop offset="0.3444" stop-color="#ef456b"/><stop offset="0.3563" stop-color="#f1595b"/><stop offset="0.3682" stop-color="#f27055"/><stop offset="0.3800" stop-color="#f38755"/><stop offset="0.3919" stop-color="#f49a63"/><stop offset="0.4038" stop-color="#f5ad76"/><stop offset="0.4157" stop-color="#f7c18e"/><stop offset="0.4276" stop-color="#f8c999"/><stop offset="0.4394" stop-color="#f8cd9e"/><stop offset="0.4513" stop-color="#f8ca9a"/><stop offset="0.4632" stop-color="#f7c28f"/><stop offset="0.4751" stop-color="#f5a972"/><stop offset="0.4869" stop-color="#f3925b"/><stop offset="0.4988" stop-color="#f38c55"/><stop offset="0.5107" stop-color="#f4965f"/><stop offset="0.5226" stop-color="#f6b17c"/><stop offset="0.5344" stop-color="#f7c696"/><stop offset="0.5463" stop-color="#f8cc9d"/><stop offset="0.5582" stop-color="#f8cc9c"/><stop offset="0.5701" stop-color="#f7c695"/><stop offset="0.5819" stop-color="#f6b783"/><stop offset="0.5938" stop-color="#f5a46d"/><stop offset="0.6057" stop-color="#f3915a"/><stop offset="0.6176" stop-color="#f37d55"/><stop offset="0.6295" stop-color="#f26455"/><stop offset="0.6413" stop-color="#f05061"/><stop offset="0.6532" stop-color="#ed3c77"/><stop offset="0.6651" stop-color="#e52693"/><stop offset="0.6770" stop-color="#da1ca7"/><stop offset="0.6888" stop-color="#cc19b4"/><stop offset="0.7007" stop-color="#bc14bb"/><stop offset="0.7126" stop-color="#a60ec4"/><stop offset="0.7245" stop-color="#8b0bc7"/><stop offset="0.7363" stop-color="#7208c8"/><stop offset="0.7482" stop-color="#5c05c8"/><stop offset="0.7601" stop-color="#4a03c6"/><stop offset="0.7720" stop-color="#3a01c4"/><stop offset="0.7838" stop-color="#2e00c0"/><stop offset="0.7957" stop-color="#2400b9"/><stop offset="0.8076" stop-color="#1a00b3"/><stop offset="0.8195" stop-color="#1100ab"/><stop offset="0.8314" stop-color="#0b00a4"/><stop offset="0.8432" stop-color="#0700a0"/><stop offset="0.8551" stop-color="#03009c"/><stop offset="0.8670" stop-color="#000098"/><stop offset="0.8789" stop-color="#000293"/><stop offset="0.8907" stop-color="#00048c"/><stop offset="0.9026" stop-color="#000687"/><stop offset="0.9145" stop-color="#000785"/><stop offset="0.9264" stop-color="#000883"/><stop offset="0.9382" stop-color="#000982"/><stop offset="0.9501" stop-color="#000981"/><stop offset="0.9620" stop-color="#000a81"/><stop offset="0.9739" stop-color="#000a80"/><stop offset="0.9857" stop-color="#000b7f"/><stop offset="0.9976" stop-color="#000b7f"/><stop offset="1.0000" stop-color="#000b7f"/></linearGradient>
<linearGradient id="g28" x1="0" x2="1" y1="0" y2="0"><stop offset="0.0000" stop-color="#000b7f"/><stop offset="0.0119" stop-color="#000b7f"/><stop offset="0.0238" stop-color="#000a80"/><stop offset="0.0356" stop-color="#000a80"/><stop offset="0.0475" stop-color="#000a81"/><stop offset="0.0594" stop-color="#000982"/><stop offset="0.0713" stop-color="#000883"/><stop offset="0.0831" stop-color="#000884"/><stop offset="0.0950" stop-color="#000786"/><stop offset="0.1069" stop-color="#00058b"/><stop offset="0.1188" stop-color="#000392"/><stop offset="0.1306" stop-color="#000098"/><stop offset="0.1425" stop-color="#03009c"/><stop offset="0.1544" stop-color="#0700a0"/><stop offset="0.1663" stop-color="#0c00a5"/><stop offset="0.1781" stop-color="#1200ac"/><stop offset="0.1900" stop-color="#1c00b4"/><stop offset="0.2019" stop-color="#2600bb"/><stop offset="0.2138" stop-color="#3100c2"/><stop offset="0.2257" stop-color="#3f02c5"/><stop offset="0.2375" stop-color="#5004c7"/><stop offset="0.2494" stop-color="#6406c8"/><stop offset="0.2613" stop-color="#7c09c8"/><stop offset="0.2732" stop-color="#950cc6"/><stop offset="0.2850" stop-color="#af11c1"/><stop offset="0.2969" stop-color="#c316b8"/><stop offset="0.3088" stop-color="#d11ab0"/><stop offset="0.3207" stop-color="#e01ea1"/><stop offset="0.3325" stop-color="#e92e87"/><stop offset="0.3444" stop-color="#ef446d"/><stop offset="0.3563" stop-color="#f1585c"/><stop offset="0.3682" stop-color="#f26e55"/><stop offset="0.3800" stop-color="#f38655"/><stop offset="0.3919" stop-color="#f49962"/><stop offset="0.4038" stop-color="#f5ac75"/><stop offset="0.4157" stop-color="#f7bf8d"/><stop offset="0.4276" stop-color="#f8c998"/><stop offset="0.4394" stop-color="#f8cc9d"/><stop offset="0.4513" stop-color="#f8ca9a"/><stop offset="0.4632" stop-color="#f7c290"/><stop offset="0.4751" stop-color="#f5a972"/><stop offset="0.4869" stop-color="#f3925b"/><stop offset="0.4988" stop-color="#f38c55"/><stop offset="0.5107" stop-color="#f49760"/><stop offset="0.5226" stop-color="#f6b27c"/><stop offset="0.5344" stop-color="#f7c696"/><stop offset="0.5463" stop-color="#f8cc9d"/><stop offset="0.5582" stop-color="#f8cb9c"/><stop offset="0.5701" stop-color="#f7c694"/><stop offset="0.5819" stop-color="#f6b681"/><stop offset="0.5938" stop-color="#f4a26b"/><stop offset="0.6057" stop-color="#f39059"/><stop offset="0.6176" stop-color="#f37b55"/><stop offset="0.6295" stop-color="#f26356"/><stop offset="0.6413" stop-color="#f04e62"/><stop offset="0.6532" stop-color="#ed3a79"/><stop offset="0.6651" stop-color="#e42596"/><stop offset="0.6770" stop-color="#d81ca9"/><stop offset="0.6888" stop-color="#cb18b5"/><stop offset="0.7007" stop-color="#ba14bc"/><stop offset="0.7126" stop-color="#a30ec4"/><stop offset="0.7245" stop-color="#880bc7"/><stop offset="0.7363" stop-color="#7008c8"/><stop offset="0.7482" stop-color="#5a05c8"/><stop offset="0.7601" stop-color="#4803c6"/><stop offset="0.7720" stop-color="#3901c4"/><stop offset="0.7838" stop-color="#2d00bf"/><stop offset="0.7957" stop-color="#2300b9"/><stop offset="0.8076" stop-color="#1900b2"/><stop offset="0.8195" stop-color="#1000aa"/><stop offset="0.8314" stop-color="#0a00a4"/><stop offset="0.8432" stop-color="#0600a0"/><stop offset="0.8551" stop-color="#03009c"/><stop offset="0.8670" stop-color="#000098"/><stop offset="0.8789" stop-color="#000292"/><stop offset="0.8907" stop-color="#00058c"/><stop offset="0.9026" stop-color="#000687"/><stop offset="0.9145" stop-color="#000784"/><stop offset="0.9264" stop-color="#000883"/><stop offset="0.9382" stop-color="#000982"/><stop offset="0.9501" stop-color="#000981"/><stop offset="0.9620" stop-color="#000a81"/><stop offset="0.9739" stop-color="#000a80"/><stop offset="0.9857" stop-color="#000b7f"/><stop offset="0.9976" stop-color="#000b7f"/><stop offset="1.0000" stop-color="#000b7f"/></linearGradient>
<linearGradient id="g29" x1="0" x2="1" y1="0" y2="0"><stop offset="0.0000" stop-color="#000b7f"/><stop offset="0.0119" stop-color="#000b7f"/><stop offset="0.0238" stop-color="#000a80"/><stop offset="0.0356" stop-color="#000a80"/><stop offset="0.0475" stop-color="#000a81"/><stop offset="0.0594" stop-color="#000982"/><stop offset="0.0713" stop-color="#000883"/><stop offset="0.0831" stop-color="#000884"/><stop offset="0.0950" stop-color="#000786"/><stop offset="0.1069" stop-color="#00058a"/><stop offset="0.1188" stop-color="#000391"/><stop offset="0.1306" stop-color="#000197"/><stop offset="0.1425" stop-color="#03009c"/><stop offset="0.1544" stop-color="#0700a0"/><stop offset="0.1663" stop-color="#0b00a5"/><stop offset="0.1781" stop-color="#1200ab"/><stop offset="0.1900" stop-color="#1b00b3"/><stop offset="0.2019" stop-color="#2500ba"/><stop offset="0.2138" stop-color="#3000c1"/><stop offset="0.2257" stop-color="#3e01c4"/><stop offset="0.2375" stop-color="#4e04c7"/><stop offset="0.2494" stop-color="#6206c8"/><stop offset="0.2613" stop-color="#7a09c8"/><stop offset="0.2732" stop-color="#930cc6"/><stop offset="0.2850" stop-color="#ad10c2"/><stop offset="0.2969" stop-color="#c216b9"/><stop offset="0.3088" stop-color="#d01ab1"/><stop offset="0.3207" stop-color="#df1da2"/><stop offset="0.3325" stop-color="#e82d8a"/><stop offset="0.3444" stop-color="#ee426e"/><stop offset="0.3563" stop-color="#f1565d"/><stop offset="0.3682" stop-color="#f26d55"/><stop offset="0.3800" stop-color="#f38455"/><stop offset="0.3919" stop-color="#f49861"/><stop offset="0.4038" stop-color="#f5aa73"/><stop offset="0.4157" stop-color="#f7be8b"/><stop offset="0.4276" stop-color="#f8c898"/><stop offset="0.4394" stop-color="#f8cc9d"/><stop offset="0.4513" stop-color="#f8ca9a"/><stop offset="0.4632" stop-color="#f7c290"/><stop offset="0.4751" stop-color="#f5aa73"/><stop offset="0.4869" stop-color="#f3925b"/><stop offset="0.4988" stop-color="#f38c55"/><stop offset="0.5107" stop-color="#f49760"/><stop offset="0.5226" stop-color="#f6b27d"/><stop offset="0.5344" stop-color="#f7c695"/><stop offset="0.5463" stop-color="#f8cb9c"/><stop offset="0.5582" stop-color="#f8ca9b"/><stop offset="0.5701" stop-color="#f7c593"/><stop offset="0.5819" stop-color="#f6b47f"/><stop offset="0.5938" stop-color="#f4a16a"/><stop offset="0.6057" stop-color="#f38e57"/><stop offset="0.6176" stop-color="#f37955"/><stop offset="0.6295" stop-color="#f26157"/><stop offset="0.6413" stop-color="#f04c63"/><stop offset="0.6532" stop-color="#ec387b"/><stop offset="0.6651" stop-color="#e42398"/><stop offset="0.6770" stop-color="#d71baa"/><stop offset="0.6888" stop-color="#c918b6"/><stop offset="0.7007" stop-color="#b813bd"/><stop offset="0.7126" stop-color="#a00ec4"/><stop offset="0.7245" stop-color="#860bc7"/><stop offset="0.7363" stop-color="#6e07c8"/><stop offset="0.7482" stop-color="#5805c8"/><stop offset="0.7601" stop-color="#4602c5"/><stop offset="0.7720" stop-color="#3701c4"/><stop offset="0.7838" stop-color="#2c00bf"/><stop offset="0.7957" stop-color="#2100b8"/><stop offset="0.8076" stop-color="#1800b1"/><stop offset="0.8195" stop-color="#0f00a9"/><stop offset="0.8314" stop-color="#0a00a3"/><stop offset="0.8432" stop-color="#06009f"/><stop offset="0.8551" stop-color="#02009b"/><stop offset="0.8670" stop-color="#000197"/><stop offset="0.8789" stop-color="#000392"/><stop offset="0.8907" stop-color="#00058b"/><stop offset="0.9026" stop-color="#000687"/><stop offset="0.9145" stop-color="#000784"/><stop offset="0.9264" stop-color="#000883"/><stop offset="0.9382" stop-color="#000982"/><stop offset="0.9501" stop-color="#000981"/><stop offset="0.9620" stop-color="#000a80"/><stop offset="0.9739" stop-color="#000a80"/><stop offset="0.9857" stop-color="#000b7f"/><stop offset="0.9976" stop-color="#000b7f"/><stop offset="1.0000" stop-color="#000b7f"/></linearGradient>
<linearGradient id="g30" x1="0" x2="1" y1="0" y2="0"><stop offset="0.0000" stop-color="#000b7f"/><stop offset="0.0119" stop-color="#000b7f"/><stop offset="0.0238" stop-color="#000a80"/><stop offset="0.0356" stop-color="#000a80"/><stop offset="0.0475" stop-color="#000a81"/><stop offset="0.0594" stop-color="#000982"/><stop offset="0.0713" stop-color="#000883"/><stop offset="0.0831" stop-color="#000884"/><stop offset="0.0950" stop-color="#000786"/><stop offset="0.1069" stop-color="#00058a"/><stop offset="0.1188" stop-color="#000390"/><stop offset="0.1306" stop-color="#000197"/><stop offset="0.1425" stop-color="#02009b"/><stop offset="0.1544" stop-color="#06009f"/><stop offset="0.1663" stop-color="#0b00a4"/><stop offset="0.1781" stop-color="#1100ab"/><stop offset="0.1900" stop-color="#1a00b3"/><stop offset="0.2019" stop-color="#2400ba"/><stop offset="0.2138" stop-color="#2f00c1"/><stop offset="0.2257" stop-color="#3c01c4"/><stop offset="0.2375" stop-color="#4c03c6"/><stop offset="0.2494" stop-color="#6006c8"/><stop offset="0.2613" stop-color="#7809c8"/><stop offset="0.2732" stop-color="#910cc6"/><stop offset="0.2850" stop-color="#ab0fc2"/><stop offset="0.2969" stop-color="#c015ba"/><stop offset="0.3088" stop-color="#cf19b2"/><stop offset="0.3207" stop-color="#dd1da4"/><stop offset="0.3325" stop-color="#e82b8c"/><stop offset="0.3444" stop-color="#ee4170"/><stop offset="0.3563" stop-color="#f1555e"/><stop offset="0.3682" stop-color="#f26b55"/><stop offset="0.3800" stop-color="#f38355"/><stop offset="0.3919" stop-color="#f4965f"/><stop offset="0.4038" stop-color="#f5a972"/><stop offset="0.4157" stop-color="#f7bd8a"/><stop offset="0.4276" stop-color="#f8c797"/><stop offset="0.4394" stop-color="#f8cb9c"/><stop offset="0.4513" stop-color="#f8c999"/><stop offset="0.4632" stop-color="#f7c290"/><stop offset="0.4751" stop-color="#f5aa73"/><stop offset="0.4869" stop-color="#f3925b"/><stop offset="0.4988" stop-color="#f38c55"/><stop offset="0.5107" stop-color="#f49760"/><stop offset="0.5226" stop-color="#f6b37e"/><stop offset="0.5344" stop-color="#f7c695"/><stop offset="0.5463" stop-color="#f8cb9c"/><stop offset="0.5582" stop-color="#f8ca9a"/><stop offset="0.5701" stop-color="#f7c492"/><stop offset="0.5819" stop-color="#f6b27d"/><stop offset="0.5938" stop-color="#f49f68"/><stop offset="0.6057" stop-color="#f38c55"/><stop offset="0.6176" stop-color="#f27755"/><stop offset="0.6295" stop-color="#f25f58"/><stop offset="0.6413" stop-color="#f04a65"/><stop offset="0.6532" stop-color="#ec357e"/><stop offset="0.6651" stop-color="#e3229a"/><stop offset="0.6770" stop-color="#d51bac"/><stop offset="0.6888" stop-color="#c817b6"/><stop offset="0.7007" stop-color="#b512be"/><stop offset="0.7126" stop-color="#9e0dc5"/><stop offset="0.7245" stop-color="#840ac8"/><stop offset="0.7363" stop-color="#6b07c8"/><stop offset="0.7482" stop-color="#5504c7"/><stop offset="0.7601" stop-color="#4402c5"/><stop offset="0.7720" stop-color="#3500c3"/><stop offset="0.7838" stop-color="#2a00be"/><stop offset="0.7957" stop-color="#2000b7"/><stop offset="0.8076" stop-color="#1700b1"/><stop offset="0.8195" stop-color="#0f00a8"/><stop offset="0.8314" stop-color="#0900a3"/><stop offset="0.8432" stop-color="#05009f"/><stop offset="0.8551" stop-color="#02009b"/><stop offset="0.8670" stop-color="#000197"/><stop offset="0.8789" stop-color="#000391"/><stop offset="0.8907" stop-color="#00058b"/><stop offset="0.9026" stop-color="#000786"/><stop offset="0.9145" stop-color="#000784"/><stop offset="0.9264" stop-color="#000883"/><stop offset="0.9382" stop-color="#000982"/><stop offset="0.9501" stop-color="#000981"/><stop offset="0.9620" stop-color="#000a80"/><stop offset="0.9739" stop-color="#000a80"/><stop offset="0.9857" stop-color="#000b7f"/><stop offset="0.9976" stop-color="#000b7f"/><stop offset="1.0000" stop-color="#000b7f"/></linearGradient>
<linearGradient id="g31" x1="0" x2="1" y1="0" y2="0"><stop offset="0.0000" stop-color="#000b7f"/><stop offset="0.0119" stop-color="#000b7f"/><stop offset="0.0238" stop-color="#000a80"/><stop offset="0.0356" stop-color="#000a80"/><stop offset="0.0475" stop-color="#000a81"/><stop offset="0.0594" stop-color="#000982"/><stop offset="0.0713" stop-color="#000883"/><stop offset="0.0831" stop-color="#000884"/><stop offset="0.0950" stop-color="#000785"/><stop offset="0.1069" stop-color="#000589"/><stop offset="0.1188" stop-color="#000390"/><stop offset="0.1306" stop-color="#000196"/><stop offset="0.1425" stop-color="#02009b"/><stop offset="0.1544" stop-color="#06009f"/><stop offset="0.1663" stop-color="#0a00a3"/><stop offset="0.1781" stop-color="#1000aa"/><stop offset="0.1900" stop-color="#1900b2"/><stop offset="0.2019" stop-color="#2300b9"/><stop offset="0.2138" stop-color="#2e00c0"/><stop offset="0.2257" stop-color="#3b01c4"/><stop offset="0.2375" stop-color="#4b03c6"/><stop offset="0.2494" stop-color="#5e05c8"/><stop offset="0.2613" stop-color="#7609c8"/><stop offset="0.2732" stop-color="#8f0cc6"/><stop offset="0.2850" stop-color="#a90fc3"/><stop offset="0.2969" stop-color="#be15bb"/><stop offset="0.3088" stop-color="#ce19b3"/><stop offset="0.3207" stop-color="#dc1da5"/><stop offset="0.3325" stop-color="#e72a8f"/><stop offset="0.3444" stop-color="#ee3f72"/><stop offset="0.3563" stop-color="#f1535f"/><stop offset="0.3682" stop-color="#f26955"/><stop offset="0.3800" stop-color="#f38155"/><stop offset="0.3919" stop-color="#f4955e"/><stop offset="0.4038" stop-color="#f5a871"/><stop offset="0.4157" stop-color="#f6bb88"/><stop offset="0.4276" stop-color="#f7c796"/><stop offset="0.4394" stop-color="#f8cb9b"/><stop offset="0.4513" stop-color="#f8c999"/><stop offset="0.4632" stop-color="#f7c290"/><stop offset="0.4751" stop-color="#f5aa73"/><stop offset="0.4869" stop-color="#f3925b"/><stop offset="0.4988" stop-color="#f38c55"/><stop offset="0.5107" stop-color="#f49861"/><stop offset="0.5226" stop-color="#f6b47e"/><stop offset="0.5344" stop-color="#f7c695"/><stop offset="0.5463" stop-color="#f8cb9b"/><stop offset="0.5582" stop-color="#f8c999"/><stop offset="0.5701" stop-color="#f7c391"/><stop offset="0.5819" stop-color="#f6b07b"/><stop offset="0.5938" stop-color="#f49d66"/><stop offset="0.6057" stop-color="#f38a55"/><stop offset="0.6176" stop-color="#f27455"/><stop offset="0.6295" stop-color="#f15d59"/><stop offset="0.6413" stop-color="#ef4867"/><stop offset="0.6532" stop-color="#eb3381"/><stop offset="0.6651" stop-color="#e2209d"/><stop offset="0.6770" stop-color="#d41bad"/><stop offset="0.6888" stop-color="#c617b7"/><stop offset="0.7007" stop-color="#b312bf"/><stop offset="0.7126" stop-color="#9b0dc5"/><stop offset="0.7245" stop-color="#810ac8"/><stop offset="0.7363" stop-color="#6907c8"/><stop offset="0.7482" stop-color="#5304c7"/><stop offset="0.7601" stop-color="#4202c5"/><stop offset="0.7720" stop-color="#3400c3"/><stop offset="0.7838" stop-color="#2900bd"/><stop offset="0.7957" stop-color="#1f00b6"/><stop offset="0.8076" stop-color="#1600b0"/><stop offset="0.8195" stop-color="#0e00a8"/><stop offset="0.8314" stop-color="#0900a2"/><stop offset="0.8432" stop-color="#05009e"/><stop offset="0.8551" stop-color="#01009a"/><stop offset="0.8670" stop-color="#000196"/><stop offset="0.8789" stop-color="#000390"/><stop offset="0.8907" stop-color="#00058a"/><stop offset="0.9026" stop-color="#000786"/><stop offset="0.9145" stop-color="#000784"/><stop offset="0.9264" stop-color="#000883"/><stop offset="0.9382" stop-color="#000982"/><stop offset="0.9501" stop-color="#000981"/><stop offset="0.9620" stop-color="#000a80"/><stop offset="0.9739" stop-color="#000a80"/><stop offset="0.9857" stop-color="#000b7f"/><stop offset="0.9976" stop-color="#000b7f"/><stop offset="1.0000" stop-color="#000b7f"/></linearGradient>
<linearGradient id="g32" x1="0" x2="1" y1="0" y2="0"><stop offset="0.0000" stop-color="#000b7f"/><stop offset="0.0119" stop-color="#000b7f"/><stop offset="0.0238" stop-color="#000a80"/><stop offset="0.0356" stop-color="#000a80"/><stop offset="0.0475" stop-color="#000a81"/><stop offset="0.0594" stop-color="#000982"/><stop offset="0.0713" stop-color="#000983"/><stop offset="0.0831" stop-color="#000884"/><stop offset="0.0950" stop-color="#000785"/><stop offset="0.1069" stop-color="#000689"/><stop offset="0.1188" stop-color="#00038f"/><stop offset="0.1306" stop-color="#000196"/><stop offset="0.1425" stop-color="#02009b"/><stop offset="0.1544" stop-color="#05009f"/><stop offset="0.1663" stop-color="#0a00a3"/><stop offset="0.1781" stop-color="#0f00a9"/><stop offset="0.1900" stop-color="#1800b1"/><stop offset="0.2019" stop-color="#2200b8"/><stop offset="0.2138" stop-color="#2d00bf"/><stop offset="0.2257" stop-color="#3901c4"/><stop offset="0.2375" stop-color="#4903c6"/><stop offset="0.2494" stop-color="#5c05c8"/><stop offset="0.2613" stop-color="#7408c8"/><stop offset="0.2732" stop-color="#8d0bc7"/><stop offset="0.2850" stop-color="#a60fc3"/><stop offset="0.2969" stop-color="#bc14bb"/><stop offset="0.3088" stop-color="#cc19b4"/><stop offset="0.3207" stop-color="#da1ca7"/><stop offset="0.3325" stop-color="#e62891"/><stop offset="0.3444" stop-color="#ed3d75"/><stop offset="0.3563" stop-color="#f15260"/><stop offset="0.3682" stop-color="#f26755"/><stop offset="0.3800" stop-color="#f38055"/><stop offset="0.3919" stop-color="#f4945d"/><stop offset="0.4038" stop-color="#f5a66f"/><stop offset="0.4157" stop-color="#f6ba86"/><stop offset="0.4276" stop-color="#f7c695"/><stop offset="0.4394" stop-color="#f8ca9a"/><stop offset="0.4513" stop-color="#f8c999"/><stop offset="0.4632" stop-color="#f7c290"/><stop offset="0.4751" stop-color="#f5ab74"/><stop offset="0.4869" stop-color="#f3925b"/><stop offset="0.4988" stop-color="#f38c55"/><stop offset="0.5107" stop-color="#f49861"/><stop offset="0.5226" stop-color="#f6b47f"/><stop offset="0.5344" stop-color="#f7c695"/><stop offset="0.5463" stop-color="#f8ca9b"/><stop offset="0.5582" stop-color="#f8c898"/><stop offset="0.5701" stop-color="#f7c18f"/><stop offset="0.5819" stop-color="#f5ae78"/><stop offset="0.5938" stop-color="#f49b64"/><stop offset="0.6057" stop-color="#f38955"/><stop offset="0.6176" stop-color="#f27255"/><stop offset="0.6295" stop-color="#f15b5b"/><stop offset="0.6413" stop-color="#ef466a"/><stop offset="0.6532" stop-color="#ea3084"/><stop offset="0.6651" stop-color="#e11f9f"/><stop offset="0.6770" stop-color="#d21aaf"/><stop offset="0.6888" stop-color="#c316b8"/><stop offset="0.7007" stop-color="#b011c0"/><stop offset="0.7126" stop-color="#980dc5"/><stop offset="0.7245" stop-color="#7f0ac8"/><stop offset="0.7363" stop-color="#6606c8"/><stop offset="0.7482" stop-color="#5104c7"/><stop offset="0.7601" stop-color="#4002c5"/><stop offset="0.7720" stop-color="#3200c3"/><stop offset="0.7838" stop-color="#2800bc"/><stop offset="0.7957" stop-color="#1e00b5"/><stop offset="0.8076" stop-color="#1500af"/><stop offset="0.8195" stop-color="#0d00a7"/><stop offset="0.8314" stop-color="#0800a2"/><stop offset="0.8432" stop-color="#05009e"/><stop offset="0.8551" stop-color="#01009a"/><stop offset="0.8670" stop-color="#000195"/><stop offset="0.8789" stop-color="#000390"/><stop offset="0.8907" stop-color="#00058a"/><stop offset="0.9026" stop-color="#000786"/><stop offset="0.9145" stop-color="#000884"/><stop offset="0.9264" stop-color="#000883"/><stop offset="0.9382" stop-color="#000982"/><stop offset="0.9501" stop-color="#000981"/><stop offset="0.9620" stop-color="#000a80"/><stop offset="0.9739" stop-color="#000a80"/><stop offset="0.9857" stop-color="#000b7f"/><stop offset="0.9976" stop-color="#000b7f"/><stop offset="1.0000" stop-color="#000b7f"/></linearGradient>
<linearGradient id="g33" x1="0" x2="1" y1="0" y2="0"><stop offset="0.0000" stop-color="#000b7f"/><stop offset="0.0119" stop-color="#000b7f"/><stop offset="0.0238" stop-color="#000a80"/><stop offset="0.0356" stop-color="#000a80"/><stop offset="0.0475" stop-color="#000a81"/><stop offset="0.0594" stop-color="#000982"/><stop offset="0.0713" stop-color="#000982"/><stop offset="0.0831" stop-color="#000884"/><stop offset="0.0950" stop-color="#000785"/><stop offset="0.1069" stop-color="#000689"/><stop offset="0.1188" stop-color="#00048f"/><stop offset="0.1306" stop-color="#000195"/><stop offset="0.1425" stop-color="#01009a"/><stop offset="0.1544" stop-color="#05009e"/><stop offset="0.1663" stop-color="#0900a2"/><stop offset="0.1781" stop-color="#0f00a8"/><stop offset="0.1900" stop-color="#1700b1"/><stop offset="0.2019" stop-color="#2100b8"/><stop offset="0.2138" stop-color="#2c00bf"/><stop offset="0.2257" stop-color="#3801c4"/><stop offset="0.2375" stop-color="#4703c6"/><stop offset="0.2494" stop-color="#5905c8"/><stop offset="0.2613" stop-color="#7208c8"/><stop offset="0.2732" stop-color="#8b0bc7"/><stop offset="0.2850" stop-color="#a40ec4"/><stop offset="0.2969" stop-color="#b913bc"/><stop offset="0.3088" stop-color="#ca18b5"/><stop offset="0.3207" stop-color="#d91ca8"/><stop offset="0.3325" stop-color="#e52694"/><stop offset="0.3444" stop-color="#ed3b77"/><stop offset="0.3563" stop-color="#f05061"/><stop offset="0.3682" stop-color="#f26555"/><stop offset="0.3800" stop-color="#f37e55"/><stop offset="0.3919" stop-color="#f3925b"/><stop offset="0.4038" stop-color="#f5a46d"/><stop offset="0.4157" stop-color="#f6b884"/><stop offset="0.4276" stop-color="#f7c594"/><stop offset="0.4394" stop-color="#f8c99a"/><stop offset="0.4513" stop-color="#f8c998"/><stop offset="0.4632" stop-color="#f7c290"/><stop offset="0.4751" stop-color="#f5ab74"/><stop offset="0.4869" stop-color="#f3925b"/><stop offset="0.4988" stop-color="#f38c55"/><stop offset="0.5107" stop-color="#f49861"/><stop offset="0.5226" stop-color="#f6b580"/><stop offset="0.5344" stop-color="#f7c695"/><stop offset="0.5463" stop-color="#f8ca9a"/><stop offset="0.5582" stop-color="#f8c797"/><stop offset="0.5701" stop-color="#f7bf8d"/><stop offset="0.5819" stop-color="#f5ac76"/><stop offset="0.5938" stop-color="#f49a63"/><stop offset="0.6057" stop-color="#f38755"/><stop offset="0.6176" stop-color="#f26f55"/><stop offset="0.6295" stop-color="#f1585c"/><stop offset="0.6413" stop-color="#ef446d"/><stop offset="0.6532" stop-color="#e92e88"/><stop offset="0.6651" stop-color="#e01ea1"/><stop offset="0.6770" stop-color="#d01ab1"/><stop offset="0.6888" stop-color="#c116b9"/><stop offset="0.7007" stop-color="#ad10c2"/><stop offset="0.7126" stop-color="#950cc6"/><stop offset="0.7245" stop-color="#7c09c8"/><stop offset="0.7363" stop-color="#6306c8"/><stop offset="0.7482" stop-color="#4e04c7"/><stop offset="0.7601" stop-color="#3e02c5"/><stop offset="0.7720" stop-color="#3100c2"/><stop offset="0.7838" stop-color="#2700bb"/><stop offset="0.7957" stop-color="#1d00b5"/><stop offset="0.8076" stop-color="#1400ad"/><stop offset="0.8195" stop-color="#0d00a6"/><stop offset="0.8314" stop-color="#0800a1"/><stop offset="0.8432" stop-color="#04009d"/><stop offset="0.8551" stop-color="#000099"/><stop offset="0.8670" stop-color="#000195"/><stop offset="0.8789" stop-color="#00038f"/><stop offset="0.8907" stop-color="#000589"/><stop offset="0.9026" stop-color="#000786"/><stop offset="0.9145" stop-color="#000884"/><stop offset="0.9264" stop-color="#000883"/><stop offset="0.9382" stop-color="#000982"/><stop offset="0.9501" stop-color="#000981"/><stop offset="0.9620" stop-color="#000a80"/><stop offset="0.9739" stop-color="#000a80"/><stop offset="0.9857" stop-color="#000b7f"/><stop offset="0.9976" stop-color="#000b7f"/><stop offset="1.0000" stop-color="#000b7f"/></linearGradient>
<linearGradient id="g34" x1="0" x2="1" y1="0" y2="0"><stop offset="0.0000" stop-color="#000b7f"/><stop offset="0.0119" stop-color="#000b7f"/><stop offset="0.0238" stop-color="#000a80"/><stop offset="0.0356" stop-color="#000a80"/><stop offset="0.0475" stop-color="#000a81"/><stop offset="0.0594" stop-color="#000982"/><stop offset="0.0713" stop-color="#000982"/><stop offset="0.0831" stop-color="#000884"/><stop offset="0.0950" stop-color="#000785"/><stop offset="0.1069" stop-color="#000688"/><stop offset="0.1188" stop-color="#00048e"/><stop offset="0.1306" stop-color="#000295"/><stop offset="0.1425" stop-color="#01009a"/><stop offset="0.1544" stop-color="#05009e"/><stop offset="0.1663" stop-color="#0900a2"/><stop offset="0.1781" stop-color="#0e00a7"/><stop offset="0.1900" stop-color="#1600b0"/><stop offset="0.2019" stop-color="#2000b7"/><stop offset="0.2138" stop-color="#2b00be"/><stop offset="0.2257" stop-color="#3600c3"/><stop offset="0.2375" stop-color="#4502c5"/><stop offset="0.2494" stop-color="#5705c8"/><stop offset="0.2613" stop-color="#6f08c8"/><stop offset="0.2732" stop-color="#890bc7"/><stop offset="0.2850" stop-color="#a10ec4"/><stop offset="0.2969" stop-color="#b713bd"/><stop offset="0.3088" stop-color="#c818b6"/><stop offset="0.3207" stop-color="#d71baa"/><stop offset="0.3325" stop-color="#e42497"/><stop offset="0.3444" stop-color="#ec397a"/><stop offset="0.3563" stop-color="#f04e62"/><stop offset="0.3682" stop-color="#f26356"/><stop offset="0.3800" stop-color="#f37c55"/><stop offset="0.3919" stop-color="#f39059"/><stop offset="0.4038" stop-color="#f5a36c"/><stop offset="0.4157" stop-color="#f6b682"/><stop offset="0.4276" stop-color="#f7c493"/><stop offset="0.4394" stop-color="#f8c999"/><stop offset="0.4513" stop-color="#f8c898"/><stop offset="0.4632" stop-color="#f7c290"/><stop offset="0.4751" stop-color="#f5ab74"/><stop offset="0.4869" stop-color="#f3925b"/><stop offset="0.4988" stop-color="#f38c55"/><stop offset="0.5107" stop-color="#f49962"/><stop offset="0.5226" stop-color="#f6b681"/><stop offset="0.5344" stop-color="#f7c695"/><stop offset="0.5463" stop-color="#f8c999"/><stop offset="0.5582" stop-color="#f7c695"/><stop offset="0.5701" stop-color="#f7bd8a"/><stop offset="0.5819" stop-color="#f5aa73"/><stop offset="0.5938" stop-color="#f49760"/><stop offset="0.6057" stop-color="#f38455"/><stop offset="0.6176" stop-color="#f26c55"/><stop offset="0.6295" stop-color="#f1565e"/><stop offset="0.6413" stop-color="#ee4170"/><stop offset="0.6532" stop-color="#e82b8c"/><stop offset="0.6651" stop-color="#dd1da4"/><stop offset="0.6770" stop-color="#ce19b3"/><stop offset="0.6888" stop-color="#be15ba"/><stop offset="0.7007" stop-color="#aa0fc3"/><stop offset="0.7126" stop-color="#920cc6"/><stop offset="0.7245" stop-color="#7909c8"/><stop offset="0.7363" stop-color="#6006c8"/><stop offset="0.7482" stop-color="#4c03c6"/><stop offset="0.7601" stop-color="#3c01c4"/><stop offset="0.7720" stop-color="#2f00c1"/><stop offset="0.7838" stop-color="#2500ba"/><stop offset="0.7957" stop-color="#1b00b4"/><stop offset="0.8076" stop-color="#1300ac"/><stop offset="0.8195" stop-color="#0c00a5"/><stop offset="0.8314" stop-color="#0700a1"/><stop offset="0.8432" stop-color="#04009d"/><stop offset="0.8551" stop-color="#000099"/><stop offset="0.8670" stop-color="#000294"/><stop offset="0.8789" stop-color="#00048e"/><stop offset="0.8907" stop-color="#000689"/><stop offset="0.9026" stop-color="#000786"/><stop offset="0.9145" stop-color="#000884"/><stop offset="0.9264" stop-color="#000883"/><stop offset="0.9382" stop-color="#000982"/><stop offset="0.9501" stop-color="#000981"/><stop offset="0.9620" stop-color="#000a80"/><stop offset="0.9739" stop-color="#000a80"/><stop offset="0.9857" stop-color="#000b7f"/><stop offset="0.9976" stop-color="#000b7f"/><stop offset="1.0000" stop-color="#000b7f"/></linearGradient>
<linearGradient id="g35" x1="0" x2="1" y1="0" y2="0"><stop offset="0.0000" stop-color="#000b7f"/><stop offset="0.0119" stop-color="#000b7f"/><stop offset="0.0238" stop-color="#000a80"/><stop offset="0.0356" stop-color="#000a80"/><stop offset="0.0475" stop-color="#000a81"/><stop offset="0.0594" stop-color="#000982"/><stop offset="0.0713" stop-color="#000982"/><stop offset="0.0831" stop-color="#000883"/><stop offset="0.0950" stop-color="#000785"/><stop offset="0.1069" stop-color="#000688"/><stop offset="0.1188" stop-color="#00048d"/><stop offset="0.1306" stop-color="#000294"/><stop offset="0.1425" stop-color="#000099"/><stop offset="0.1544" stop-color="#04009d"/><stop offset="0.1663" stop-color="#0800a1"/><stop offset="0.1781" stop-color="#0d00a7"/><stop offset="0.1900" stop-color="#1500af"/><stop offset="0.2019" stop-color="#1f00b6"/><stop offset="0.2138" stop-color="#2900bd"/><stop offset="0.2257" stop-color="#3400c3"/><stop offset="0.2375" stop-color="#4302c5"/><stop offset="0.2494" stop-color="#5504c7"/><stop offset="0.2613" stop-color="#6d07c8"/><stop offset="0.2732" stop-color="#860bc7"/><stop offset="0.2850" stop-color="#9f0ec4"/><stop offset="0.2969" stop-color="#b412bf"/><stop offset="0.3088" stop-color="#c617b7"/><stop offset="0.3207" stop-color="#d51bac"/><stop offset="0.3325" stop-color="#e3229a"/><stop offset="0.3444" stop-color="#ec367d"/><stop offset="0.3563" stop-color="#f04b64"/><stop offset="0.3682" stop-color="#f26157"/><stop offset="0.3800" stop-color="#f37955"/><stop offset="0.3919" stop-color="#f38e57"/><stop offset="0.4038" stop-color="#f4a16a"/><stop offset="0.4157" stop-color="#f6b47f"/><stop offset="0.4276" stop-color="#f7c392"/><stop offset="0.4394" stop-color="#f8c898"/><stop offset="0.4513" stop-color="#f8c897"/><stop offset="0.4632" stop-color="#f7c28f"/><stop offset="0.4751" stop-color="#f5ac75"/><stop offset="0.4869" stop-color="#f3925b"/><stop offset="0.4988" stop-color="#f38c55"/><stop offset="0.5107" stop-color="#f49962"/><stop offset="0.5226" stop-color="#f6b682"/><stop offset="0.5344" stop-color="#f7c695"/><stop offset="0.5463" stop-color="#f8c999"/><stop offset="0.5582" stop-color="#f7c594"/><stop offset="0.5701" stop-color="#f6bb88"/><stop offset="0.5819" stop-color="#f5a871"/><stop offset="0.5938" stop-color="#f4955e"/><stop offset="0.6057" stop-color="#f38255"/><stop offset="0.6176" stop-color="#f26955"/><stop offset="0.6295" stop-color="#f1535f"/><stop offset="0.6413" stop-color="#ed3e74"/><stop offset="0.6532" stop-color="#e62890"/><stop offset="0.6651" stop-color="#db1ca6"/><stop offset="0.6770" stop-color="#cc19b5"/><stop offset="0.6888" stop-color="#bb14bc"/><stop offset="0.7007" stop-color="#a70fc3"/><stop offset="0.7126" stop-color="#8f0cc6"/><stop offset="0.7245" stop-color="#7609c8"/><stop offset="0.7363" stop-color="#5d05c8"/><stop offset="0.7482" stop-color="#4a03c6"/><stop offset="0.7601" stop-color="#3a01c4"/><stop offset="0.7720" stop-color="#2e00c0"/><stop offset="0.7838" stop-color="#2400ba"/><stop offset="0.7957" stop-color="#1a00b3"/><stop offset="0.8076" stop-color="#1100ab"/><stop offset="0.8195" stop-color="#0b00a5"/><stop offset="0.8314" stop-color="#0700a0"/><stop offset="0.8432" stop-color="#03009c"/><stop offset="0.8551" stop-color="#000098"/><stop offset="0.8670" stop-color="#000294"/><stop offset="0.8789" stop-color="#00048e"/><stop offset="0.8907" stop-color="#000688"/><stop offset="0.9026" stop-color="#000785"/><stop offset="0.9145" stop-color="#000884"/><stop offset="0.9264" stop-color="#000883"/><stop offset="0.9382" stop-color="#000982"/><stop offset="0.9501" stop-color="#000981"/><stop offset="0.9620" stop-color="#000a80"/><stop offset="0.9739" stop-color="#000a80"/><stop offset="0.9857" stop-color="#000b7f"/><stop offset="0.9976" stop-color="#000b7f"/><stop offset="1.0000" stop-color="#000b7f"/></linearGradient>
<linearGradient id="g36" x1="0" x2="1" y1="0" y2="0"><stop offset="0.0000" stop-color="#000b7f"/><stop offset="0.0119" stop-color="#000b7f"/><stop offset="0.0238" stop-color="#000a80"/><stop offset="0.0356" stop-color="#000a80"/><stop offset="0.0475" stop-color="#000a81"/><stop offset="0.0594" stop-color="#000981"/><stop offset="0.0713" stop-color="#000982"/><stop offset="0.0831" stop-color="#000883"/><stop offset="0.0950" stop-color="#000785"/><stop offset="0.1069" stop-color="#000687"/><stop offset="0.1188" stop-color="#00048d"/><stop offset="0.1306" stop-color="#000293"/><stop offset="0.1425" stop-color="#000099"/><stop offset="0.1544" stop-color="#04009d"/><stop offset="0.1663" stop-color="#0800a1"/><stop offset="0.1781" stop-color="#0c00a6"/><stop offset="0.1900" stop-color="#1400ae"/><stop offset="0.2019" stop-color="#1e00b5"/><stop offset="0.2138" stop-color="#2800bc"/><stop offset="0.2257" stop-color="#3300c3"/><stop offset="0.2375" stop-color="#4202c5"/><stop offset="0.2494" stop-color="#5304c7"/><stop offset="0.2613" stop-color="#6a07c8"/><stop offset="0.2732" stop-color="#840ac8"/><stop offset="0.2850" stop-color="#9c0dc5"/><stop offset="0.2969" stop-color="#b211c0"/><stop offset="0.3088" stop-color="#c416b8"/><stop offset="0.3207" stop-color="#d31bae"/><stop offset="0.3325" stop-color="#e2209d"/><stop offset="0.3444" stop-color="#eb3381"/><stop offset="0.3563" stop-color="#f04966"/><stop offset="0.3682" stop-color="#f25e58"/><stop offset="0.3800" stop-color="#f27755"/><stop offset="0.3919" stop-color="#f38c55"/><stop offset="0.4038" stop-color="#f49f68"/><stop offset="0.4157" stop-color="#f6b27d"/><stop offset="0.4276" stop-color="#f7c290"/><stop offset="0.4394" stop-color="#f8c797"/><stop offset="0.4513" stop-color="#f8c797"/><stop offset="0.4632" stop-color="#f7c28f"/><stop offset="0.4751" stop-color="#f5ac75"/><stop offset="0.4869" stop-color="#f3925b"/><stop offset="0.4988" stop-color="#f38c55"/><stop offset="0.5107" stop-color="#f49a63"/><stop offset="0.5226" stop-color="#f6b782"/><stop offset="0.5344" stop-color="#f7c694"/><stop offset="0.5463" stop-color="#f8c898"/><stop offset="0.5582" stop-color="#f7c493"/><stop offset="0.5701" stop-color="#f6b985"/><stop offset="0.5819" stop-color="#f5a56e"/><stop offset="0.5938" stop-color="#f3935c"/><stop offset="0.6057" stop-color="#f37f55"/><stop offset="0.6176" stop-color="#f26655"/><stop offset="0.6295" stop-color="#f05061"/><stop offset="0.6413" stop-color="#ed3b77"/><stop offset="0.6532" stop-color="#e52695"/><stop offset="0.6651" stop-color="#d81ca9"/><stop offset="0.6770" stop-color="#c918b6"/><stop offset="0.6888" stop-color="#b813bd"/><stop offset="0.7007" stop-color="#a40ec4"/><stop offset="0.7126" stop-color="#8c0bc7"/><stop offset="0.7245" stop-color="#7308c8"/><stop offset="0.7363" stop-color="#5905c8"/><stop offset="0.7482" stop-color="#4703c6"/><stop offset="0.7601" stop-color="#3801c4"/><stop offset="0.7720" stop-color="#2d00bf"/><stop offset="0.7838" stop-color="#2300b9"/><stop offset="0.7957" stop-color="#1900b2"/><stop offset="0.8076" stop-color="#1000aa"/><stop offset="0.8195" stop-color="#0b00a4"/><stop offset="0.8314" stop-color="#0600a0"/><stop offset="0.8432" stop-color="#03009c"/><stop offset="0.8551" stop-color="#000098"/><stop offset="0.8670" stop-color="#000293"/><stop offset="0.8789" stop-color="#00048d"/><stop offset="0.8907" stop-color="#000688"/><stop offset="0.9026" stop-color="#000785"/><stop offset="0.9145" stop-color="#000884"/><stop offset="0.9264" stop-color="#000883"/><stop offset="0.9382" stop-color="#000982"/><stop offset="0.9501" stop-color="#000981"/><stop offset="0.9620" stop-color="#000a80"/><stop offset="0.9739" stop-color="#000a80"/><stop offset="0.9857" stop-color="#000b7f"/><stop offset="0.9976" stop-color="#000b7f"/><stop offset="1.0000" stop-color="#000b7f"/></linearGradient>
<linearGradient id="g37" x1="0" x2="1" y1="0" y2="0"><stop offset="0.0000" stop-color="#000b7f"/><stop offset="0.0119" stop-color="#000b7f"/><stop offset="0.0238" stop-color="#000a80"/><stop offset="0.0356" stop-color="#000a80"/><stop offset="0.0475" stop-color="#000a81"/><stop offset="0.0594" stop-color="#000981"/><stop offset="0.0713" stop-color="#000982"/><stop offset="0.0831" stop-color="#000883"/><stop offset="0.0950" stop-color="#000785"/><stop offset="0.1069" stop-color="#000687"/><stop offset="0.1188" stop-color="#00048c"/><stop offset="0.1306" stop-color="#000293"/><stop offset="0.1425" stop-color="#000098"/><stop offset="0.1544" stop-color="#03009c"/><stop offset="0.1663" stop-color="#0700a0"/><stop offset="0.1781" stop-color="#0c00a5"/><stop offset="0.1900" stop-color="#1300ad"/><stop offset="0.2019" stop-color="#1d00b4"/><stop offset="0.2138" stop-color="#2700bc"/><stop offset="0.2257" stop-color="#3100c3"/><stop offset="0.2375" stop-color="#4002c5"/><stop offset="0.2494" stop-color="#5104c7"/><stop offset="0.2613" stop-color="#6707c8"/><stop offset="0.2732" stop-color="#810ac8"/><stop offset="0.2850" stop-color="#990dc5"/><stop offset="0.2969" stop-color="#af10c1"/><stop offset="0.3088" stop-color="#c116b9"/><stop offset="0.3207" stop-color="#d11ab0"/><stop offset="0.3325" stop-color="#e11e9f"/><stop offset="0.3444" stop-color="#ea3084"/><stop offset="0.3563" stop-color="#ef466a"/><stop offset="0.3682" stop-color="#f15c5a"/><stop offset="0.3800" stop-color="#f27455"/><stop offset="0.3919" stop-color="#f38a55"/><stop offset="0.4038" stop-color="#f49d66"/><stop offset="0.4157" stop-color="#f5b07a"/><stop offset="0.4276" stop-color="#f7c18f"/><stop offset="0.4394" stop-color="#f7c695"/><stop offset="0.4513" stop-color="#f8c796"/><stop offset="0.4632" stop-color="#f7c18f"/><stop offset="0.4751" stop-color="#f5ad76"/><stop offset="0.4869" stop-color="#f3925b"/><stop offset="0.4988" stop-color="#f38c55"/><stop offset="0.5107" stop-color="#f49a63"/><stop offset="0.5226" stop-color="#f6b883"/><stop offset="0.5344" stop-color="#f7c594"/><stop offset="0.5463" stop-color="#f8c796"/><stop offset="0.5582" stop-color="#f7c391"/><stop offset="0.5701" stop-color="#f6b681"/><stop offset="0.5819" stop-color="#f4a26b"/><stop offset="0.5938" stop-color="#f39059"/><stop offset="0.6057" stop-color="#f37b55"/><stop offset="0.6176" stop-color="#f26256"/><stop offset="0.6295" stop-color="#f04d63"/><stop offset="0.6413" stop-color="#ec377c"/><stop offset="0.6532" stop-color="#e32399"/><stop offset="0.6651" stop-color="#d51bac"/><stop offset="0.6770" stop-color="#c617b7"/><stop offset="0.6888" stop-color="#b512be"/><stop offset="0.7007" stop-color="#a00ec4"/><stop offset="0.7126" stop-color="#890bc7"/><stop offset="0.7245" stop-color="#6f08c8"/><stop offset="0.7363" stop-color="#5605c8"/><stop offset="0.7482" stop-color="#4502c5"/><stop offset="0.7601" stop-color="#3600c3"/><stop offset="0.7720" stop-color="#2b00be"/><stop offset="0.7838" stop-color="#2100b8"/><stop offset="0.7957" stop-color="#1800b1"/><stop offset="0.8076" stop-color="#0f00a9"/><stop offset="0.8195" stop-color="#0a00a3"/><stop offset="0.8314" stop-color="#06009f"/><stop offset="0.8432" stop-color="#02009b"/><stop offset="0.8551" stop-color="#000197"/><stop offset="0.8670" stop-color="#000292"/><stop offset="0.8789" stop-color="#00048d"/><stop offset="0.8907" stop-color="#000688"/><stop offset="0.9026" stop-color="#000785"/><stop offset="0.9145" stop-color="#000884"/><stop offset="0.9264" stop-color="#000883"/><stop offset="0.9382" stop-color="#000982"/><stop offset="0.9501" stop-color="#000a81"/><stop offset="0.9620" stop-color="#000a80"/><stop offset="0.9739" stop-color="#000a80"/><stop offset="0.9857" stop-color="#000b7f"/><stop offset="0.9976" stop-color="#000b7f"/><stop offset="1.0000" stop-color="#000b7f"/></linearGradient>
<linearGradient id="g38" x1="0" x2="1" y1="0" y2="0"><stop offset="0.0000" stop-color="#000b7f"/><stop offset="0.0119" stop-color="#000b7f"/><stop offset="0.0238" stop-color="#000a80"/><stop offset="0.0356" stop-color="#000a80"/><stop offset="0.0475" stop-color="#000a81"/><stop offset="0.0594" stop-color="#000981"/><stop offset="0.0713" stop-color="#000982"/><stop offset="0.0831" stop-color="#000883"/><stop offset="0.0950" stop-color="#000784"/><stop offset="0.1069" stop-color="#000687"/><stop offset="0.1188" stop-color="#00058c"/><stop offset="0.1306" stop-color="#000292"/><stop offset="0.1425" stop-color="#000098"/><stop offset="0.1544" stop-color="#03009c"/><stop offset="0.1663" stop-color="#0700a0"/><stop offset="0.1781" stop-color="#0b00a5"/><stop offset="0.1900" stop-color="#1200ac"/><stop offset="0.2019" stop-color="#1b00b4"/><stop offset="0.2138" stop-color="#2600bb"/><stop offset="0.2257" stop-color="#3000c2"/><stop offset="0.2375" stop-color="#3e01c4"/><stop offset="0.2494" stop-color="#4e04c7"/><stop offset="0.2613" stop-color="#6406c8"/><stop offset="0.2732" stop-color="#7f0ac8"/><stop offset="0.2850" stop-color="#960dc5"/><stop offset="0.2969" stop-color="#ac10c2"/><stop offset="0.3088" stop-color="#bf15ba"/><stop offset="0.3207" stop-color="#cf19b2"/><stop offset="0.3325" stop-color="#df1da2"/><stop offset="0.3444" stop-color="#e92d89"/><stop offset="0.3563" stop-color="#ee436d"/><stop offset="0.3682" stop-color="#f1595c"/><stop offset="0.3800" stop-color="#f27155"/><stop offset="0.3919" stop-color="#f38855"/><stop offset="0.4038" stop-color="#f49b64"/><stop offset="0.4157" stop-color="#f5ad77"/><stop offset="0.4276" stop-color="#f7bf8d"/><stop offset="0.4394" stop-color="#f7c594"/><stop offset="0.4513" stop-color="#f7c696"/><stop offset="0.4632" stop-color="#f7c18f"/><stop offset="0.4751" stop-color="#f5ad77"/><stop offset="0.4869" stop-color="#f3925b"/><stop offset="0.4988" stop-color="#f38c55"/><stop offset="0.5107" stop-color="#f49b64"/><stop offset="0.5226" stop-color="#f6b884"/><stop offset="0.5344" stop-color="#f7c594"/><stop offset="0.5463" stop-color="#f7c695"/><stop offset="0.5582" stop-color="#f7c290"/><stop offset="0.5701" stop-color="#f6b37e"/><stop offset="0.5819" stop-color="#f4a069"/><stop offset="0.5938" stop-color="#f38d56"/><stop offset="0.6057" stop-color="#f27855"/><stop offset="0.6176" stop-color="#f25f58"/><stop offset="0.6295" stop-color="#f04966"/><stop offset="0.6413" stop-color="#eb3380"/><stop offset="0.6532" stop-color="#e2209d"/><stop offset="0.6651" stop-color="#d31aae"/><stop offset="0.6770" stop-color="#c316b8"/><stop offset="0.6888" stop-color="#b111c0"/><stop offset="0.7007" stop-color="#9c0dc5"/><stop offset="0.7126" stop-color="#860ac8"/><stop offset="0.7245" stop-color="#6b07c8"/><stop offset="0.7363" stop-color="#5404c7"/><stop offset="0.7482" stop-color="#4202c5"/><stop offset="0.7601" stop-color="#3400c3"/><stop offset="0.7720" stop-color="#2a00bd"/><stop offset="0.7838" stop-color="#2000b7"/><stop offset="0.7957" stop-color="#1600b0"/><stop offset="0.8076" stop-color="#0f00a8"/><stop offset="0.8195" stop-color="#0900a3"/><stop offset="0.8314" stop-color="#05009f"/><stop offset="0.8432" stop-color="#02009b"/><stop offset="0.8551" stop-color="#000197"/><stop offset="0.8670" stop-color="#000392"/><stop offset="0.8789" stop-color="#00058c"/><stop offset="0.8907" stop-color="#000687"/><stop offset="0.9026" stop-color="#000785"/><stop offset="0.9145" stop-color="#000884"/><stop offset="0.9264" stop-color="#000883"/><stop offset="0.9382" stop-color="#000982"/><stop offset="0.9501" stop-color="#000a81"/><stop offset="0.9620" stop-color="#000a80"/><stop offset="0.9739" stop-color="#000a80"/><stop offset="0.9857" stop-color="#000b7f"/><stop offset="0.9976" stop-color="#000b7f"/><stop offset="1.0000" stop-color="#000b7f"/></linearGradient>
<linearGradient id="g39" x1="0" x2="1" y1="0" y2="0"><stop offset="0.0000" stop-color="#000b7f"/><stop offset="0.0119" stop-color="#000b7f"/><stop offset="0.0238" stop-color="#000a80"/><stop offset="0.0356" stop-color="#000a80"/><stop offset="0.0475" stop-color="#000a81"/><stop offset="0.0594" stop-color="#000981"/><stop offset="0.0713" stop-color="#000982"/><stop offset="0.0831" stop-color="#000883"/><stop offset="0.0950" stop-color="#000784"/><stop offset="0.1069" stop-color="#000687"/><stop offset="0.1188" stop-color="#00058b"/><stop offset="0.1306" stop-color="#000391"/><stop offset="0.1425" stop-color="#000197"/><stop offset="0.1544" stop-color="#02009b"/><stop offset="0.1663" stop-color="#06009f"/><stop offset="0.1781" stop-color="#0b00a4"/><stop offset="0.1900" stop-color="#1100ab"/><stop offset="0.2019" stop-color="#1a00b3"/><stop offset="0.2138" stop-color="#2500ba"/><stop offset="0.2257" stop-color="#2f00c1"/><stop offset="0.2375" stop-color="#3c01c4"/><stop offset="0.2494" stop-color="#4c03c6"/><stop offset="0.2613" stop-color="#6106c8"/><stop offset="0.2732" stop-color="#7c09c8"/><stop offset="0.2850" stop-color="#930cc6"/><stop offset="0.2969" stop-color="#a90fc3"/><stop offset="0.3088" stop-color="#bb14bc"/><stop offset="0.3207" stop-color="#cc19b4"/><stop offset="0.3325" stop-color="#dc1da5"/><stop offset="0.3444" stop-color="#e72a8e"/><stop offset="0.3563" stop-color="#ee4071"/><stop offset="0.3682" stop-color="#f1565d"/><stop offset="0.3800" stop-color="#f26d55"/><stop offset="0.3919" stop-color="#f38655"/><stop offset="0.4038" stop-color="#f49962"/><stop offset="0.4157" stop-color="#f5ab74"/><stop offset="0.4276" stop-color="#f7bd8a"/><stop offset="0.4394" stop-color="#f7c493"/><stop offset="0.4513" stop-color="#f7c695"/><stop offset="0.4632" stop-color="#f7c18e"/><stop offset="0.4751" stop-color="#f5ae77"/><stop offset="0.4869" stop-color="#f3935c"/><stop offset="0.4988" stop-color="#f38c55"/><stop offset="0.5107" stop-color="#f49c65"/><stop offset="0.5226" stop-color="#f6b985"/><stop offset="0.5344" stop-color="#f7c593"/><stop offset="0.5463" stop-color="#f7c594"/><stop offset="0.5582" stop-color="#f7c08e"/><stop offset="0.5701" stop-color="#f5b07a"/><stop offset="0.5819" stop-color="#f49d66"/><stop offset="0.5938" stop-color="#f38a55"/><stop offset="0.6057" stop-color="#f27455"/><stop offset="0.6176" stop-color="#f15b5a"/><stop offset="0.6295" stop-color="#ef466a"/><stop offset="0.6413" stop-color="#ea2f86"/><stop offset="0.6532" stop-color="#e11ea0"/><stop offset="0.6651" stop-color="#d01ab1"/><stop offset="0.6770" stop-color="#c015ba"/><stop offset="0.6888" stop-color="#ae10c1"/><stop offset="0.7007" stop-color="#990dc5"/><stop offset="0.7126" stop-color="#820ac8"/><stop offset="0.7245" stop-color="#6707c8"/><stop offset="0.7363" stop-color="#5104c7"/><stop offset="0.7482" stop-color="#4002c5"/><stop offset="0.7601" stop-color="#3200c3"/><stop offset="0.7720" stop-color="#2800bc"/><stop offset="0.7838" stop-color="#1e00b6"/><stop offset="0.7957" stop-color="#1500af"/><stop offset="0.8076" stop-color="#0e00a7"/><stop offset="0.8195" stop-color="#0900a2"/><stop offset="0.8314" stop-color="#05009e"/><stop offset="0.8432" stop-color="#01009a"/><stop offset="0.8551" stop-color="#000196"/><stop offset="0.8670" stop-color="#000391"/><stop offset="0.8789" stop-color="#00058b"/><stop offset="0.8907" stop-color="#000687"/><stop offset="0.9026" stop-color="#000785"/><stop offset="0.9145" stop-color="#000884"/><stop offset="0.9264" stop-color="#000983"/><stop offset="0.9382" stop-color="#000982"/><stop offset="0.9501" stop-color="#000a81"/><stop offset="0.9620" stop-color="#000a80"/><stop offset="0.9739" stop-color="#000a80"/><stop offset="0.9857" stop-color="#000b7f"/><stop offset="0.9976" stop-color="#000b7f"/><stop offset="1.0000" stop-color="#000b7f"/></linearGradient>
<linearGradient id="g40" x1="0" x2="1" y1="0" y2="0"><stop offset="0.0000" stop-color="#000b7f"/><stop offset="0.0119" stop-color="#000b7f"/><stop offset="0.0238" stop-color="#000a80"/><stop offset="0.0356" stop-color="#000a80"/><stop offset="0.0475" stop-color="#000a81"/><stop offset="0.0594" stop-color="#000981"/><stop offset="0.0713" stop-color="#000982"/><stop offset="0.0831" stop-color="#000883"/><stop offset="0.0950" stop-color="#000784"/><stop offset="0.1069" stop-color="#000786"/><stop offset="0.1188" stop-color="#00058b"/><stop offset="0.1306" stop-color="#000391"/><stop offset="0.1425" stop-color="#000196"/><stop offset="0.1544" stop-color="#02009b"/><stop offset="0.1663" stop-color="#06009f"/><stop offset="0.1781" stop-color="#0a00a3"/><stop offset="0.1900" stop-color="#1000aa"/><stop offset="0.2019" stop-color="#1900b2"/><stop offset="0.2138" stop-color="#2300b9"/><stop offset="0.2257" stop-color="#2e00c0"/><stop offset="0.2375" stop-color="#3a01c4"/><stop offset="0.2494" stop-color="#4a03c6"/><stop offset="0.2613" stop-color="#5e05c8"/><stop offset="0.2732" stop-color="#7909c8"/><stop offset="0.2850" stop-color="#910cc6"/><stop offset="0.2969" stop-color="#a60ec4"/><stop offset="0.3088" stop-color="#b813bd"/><stop offset="0.3207" stop-color="#c918b6"/><stop offset="0.3325" stop-color="#d91ca8"/><stop offset="0.3444" stop-color="#e62792"/><stop offset="0.3563" stop-color="#ed3d75"/><stop offset="0.3682" stop-color="#f1535f"/><stop offset="0.3800" stop-color="#f26a55"/><stop offset="0.3919" stop-color="#f38355"/><stop offset="0.4038" stop-color="#f4965f"/><stop offset="0.4157" stop-color="#f5a871"/><stop offset="0.4276" stop-color="#f6bb87"/><stop offset="0.4394" stop-color="#f7c391"/><stop offset="0.4513" stop-color="#f7c594"/><stop offset="0.4632" stop-color="#f7c08e"/><stop offset="0.4751" stop-color="#f5ae78"/><stop offset="0.4869" stop-color="#f3935c"/><stop offset="0.4988" stop-color="#f38c55"/><stop offset="0.5107" stop-color="#f49d66"/><stop offset="0.5226" stop-color="#f6b986"/><stop offset="0.5344" stop-color="#f7c493"/><stop offset="0.5463" stop-color="#f7c492"/><stop offset="0.5582" stop-color="#f7be8b"/><stop offset="0.5701" stop-color="#f5ac76"/><stop offset="0.5819" stop-color="#f49a63"/><stop offset="0.5938" stop-color="#f38755"/><stop offset="0.6057" stop-color="#f26f55"/><stop offset="0.6176" stop-color="#f1575d"/><stop offset="0.6295" stop-color="#ee426f"/><stop offset="0.6413" stop-color="#e82b8c"/><stop offset="0.6532" stop-color="#dd1da4"/><stop offset="0.6651" stop-color="#cd19b4"/><stop offset="0.6770" stop-color="#bc14bb"/><stop offset="0.6888" stop-color="#aa0fc3"/><stop offset="0.7007" stop-color="#950cc6"/><stop offset="0.7126" stop-color="#7f0ac8"/><stop offset="0.7245" stop-color="#6306c8"/><stop offset="0.7363" stop-color="#4e03c6"/><stop offset="0.7482" stop-color="#3e01c4"/><stop offset="0.7601" stop-color="#3000c2"/><stop offset="0.7720" stop-color="#2700bb"/><stop offset="0.7838" stop-color="#1d00b5"/><stop offset="0.7957" stop-color="#1400ae"/><stop offset="0.8076" stop-color="#0d00a6"/><stop offset="0.8195" stop-color="#0800a1"/><stop offset="0.8314" stop-color="#04009e"/><stop offset="0.8432" stop-color="#01009a"/><stop offset="0.8551" stop-color="#000195"/><stop offset="0.8670" stop-color="#000390"/><stop offset="0.8789" stop-color="#00058b"/><stop offset="0.8907" stop-color="#000687"/><stop offset="0.9026" stop-color="#000785"/><stop offset="0.9145" stop-color="#000883"/><stop offset="0.9264" stop-color="#000982"/><stop offset="0.9382" stop-color="#000982"/><stop offset="0.9501" stop-color="#000a81"/><stop offset="0.9620" stop-color="#000a80"/><stop offset="0.9739" stop-color="#000a80"/><stop offset="0.9857" stop-color="#000b7f"/><stop offset="0.9976" stop-color="#000b7f"/><stop offset="1.0000" stop-color="#000b7f"/></linearGradient>
<linearGradient id="g41" x1="0" x2="1" y1="0" y2="0"><stop offset="0.0000" stop-color="#000b7f"/><stop offset="0.0119" stop-color="#000b7f"/><stop offset="0.0238" stop-color="#000a80"/><stop offset="0.0356" stop-color="#000a80"/><stop offset="0.0475" stop-color="#000a81"/><stop offset="0.0594" stop-color="#000981"/><stop offset="0.0713" stop-color="#000982"/><stop offset="0.0831" stop-color="#000883"/><stop offset="0.0950" stop-color="#000884"/><stop offset="0.1069" stop-color="#000786"/><stop offset="0.1188" stop-color="#00058a"/><stop offset="0.1306" stop-color="#000390"/><stop offset="0.1425" stop-color="#000196"/><stop offset="0.1544" stop-color="#01009a"/><stop offset="0.1663" stop-color="#05009e"/><stop offset="0.1781" stop-color="#0900a3"/><stop offset="0.1900" stop-color="#0f00a9"/><stop offset="0.2019" stop-color="#1800b1"/><stop offset="0.2138" stop-color="#2200b8"/><stop offset="0.2257" stop-color="#2d00bf"/><stop offset="0.2375" stop-color="#3901c4"/><stop offset="0.2494" stop-color="#4803c6"/><stop offset="0.2613" stop-color="#5b05c8"/><stop offset="0.2732" stop-color="#7608c8"/><stop offset="0.2850" stop-color="#8e0bc7"/><stop offset="0.2969" stop-color="#a30ec4"/><stop offset="0.3088" stop-color="#b512be"/><stop offset="0.3207" stop-color="#c617b7"/><stop offset="0.3325" stop-color="#d61bab"/><stop offset="0.3444" stop-color="#e42497"/><stop offset="0.3563" stop-color="#ec397a"/><stop offset="0.3682" stop-color="#f04f62"/><stop offset="0.3800" stop-color="#f26655"/><stop offset="0.3919" stop-color="#f37f55"/><stop offset="0.4038" stop-color="#f3935c"/><stop offset="0.4157" stop-color="#f5a56e"/><stop offset="0.4276" stop-color="#f6b884"/><stop offset="0.4394" stop-color="#f7c28f"/><stop offset="0.4513" stop-color="#f7c493"/><stop offset="0.4632" stop-color="#f7c08d"/><stop offset="0.4751" stop-color="#f5af79"/><stop offset="0.4869" stop-color="#f3935c"/><stop offset="0.4988" stop-color="#f38c55"/><stop offset="0.5107" stop-color="#f49e67"/><stop offset="0.5226" stop-color="#f6ba86"/><stop offset="0.5344" stop-color="#f7c492"/><stop offset="0.5463" stop-color="#f7c290"/><stop offset="0.5582" stop-color="#f6bb88"/><stop offset="0.5701" stop-color="#f5a972"/><stop offset="0.5819" stop-color="#f49760"/><stop offset="0.5938" stop-color="#f38355"/><stop offset="0.6057" stop-color="#f26a55"/><stop offset="0.6176" stop-color="#f1535f"/><stop offset="0.6295" stop-color="#ed3d75"/><stop offset="0.6413" stop-color="#e62792"/><stop offset="0.6532" stop-color="#d91ca8"/><stop offset="0.6651" stop-color="#c918b6"/><stop offset="0.6770" stop-color="#b813bd"/><stop offset="0.6888" stop-color="#a60fc3"/><stop offset="0.7007" stop-color="#920cc6"/><stop offset="0.7126" stop-color="#7b09c8"/><stop offset="0.7245" stop-color="#5f06c8"/><stop offset="0.7363" stop-color="#4b03c6"/><stop offset="0.7482" stop-color="#3b01c4"/><stop offset="0.7601" stop-color="#2f00c1"/><stop offset="0.7720" stop-color="#2500ba"/><stop offset="0.7838" stop-color="#1b00b4"/><stop offset="0.7957" stop-color="#1200ac"/><stop offset="0.8076" stop-color="#0c00a5"/><stop offset="0.8195" stop-color="#0700a1"/><stop offset="0.8314" stop-color="#04009d"/><stop offset="0.8432" stop-color="#000099"/><stop offset="0.8551" stop-color="#000295"/><stop offset="0.8670" stop-color="#00038f"/><stop offset="0.8789" stop-color="#00058a"/><stop offset="0.8907" stop-color="#000686"/><stop offset="0.9026" stop-color="#000785"/><stop offset="0.9145" stop-color="#000883"/><stop offset="0.9264" stop-color="#000982"/><stop offset="0.9382" stop-color="#000982"/><stop offset="0.9501" stop-color="#000a81"/><stop offset="0.9620" stop-color="#000a80"/><stop offset="0.9739" stop-color="#000a80"/><stop offset="0.9857" stop-color="#000b7f"/><stop offset="0.9976" stop-color="#000b7f"/><stop offset="1.0000" stop-color="#000b7f"/></linearGradient>
<linearGradient id="g42" x1="0" x2="1" y1="0" y2="0"><stop offset="0.0000" stop-color="#000b7f"/><stop offset="0.0119" stop-color="#000b7f"/><stop offset="0.0238" stop-color="#000a80"/><stop offset="0.0356" stop-color="#000a80"/><stop offset="0.0475" stop-color="#000a81"/><stop offset="0.0594" stop-color="#000981"/><stop offset="0.0713" stop-color="#000982"/><stop offset="0.0831" stop-color="#000883"/><stop offset="0.0950" stop-color="#000884"/><stop offset="0.1069" stop-color="#000786"/><stop offset="0.1188" stop-color="#000589"/><stop offset="0.1306" stop-color="#00038f"/><stop offset="0.1425" stop-color="#000195"/><stop offset="0.1544" stop-color="#01009a"/><stop offset="0.1663" stop-color="#05009e"/><stop offset="0.1781" stop-color="#0900a2"/><stop offset="0.1900" stop-color="#0e00a8"/><stop offset="0.2019" stop-color="#1700b0"/><stop offset="0.2138" stop-color="#2100b7"/><stop offset="0.2257" stop-color="#2b00be"/><stop offset="0.2375" stop-color="#3701c4"/><stop offset="0.2494" stop-color="#4602c5"/><stop offset="0.2613" stop-color="#5805c8"/><stop offset="0.2732" stop-color="#7208c8"/><stop offset="0.2850" stop-color="#8b0bc7"/><stop offset="0.2969" stop-color="#9f0ec4"/><stop offset="0.3088" stop-color="#b211c0"/><stop offset="0.3207" stop-color="#c316b8"/><stop offset="0.3325" stop-color="#d31aae"/><stop offset="0.3444" stop-color="#e2219c"/><stop offset="0.3563" stop-color="#ec357f"/><stop offset="0.3682" stop-color="#f04b64"/><stop offset="0.3800" stop-color="#f26256"/><stop offset="0.3919" stop-color="#f37b55"/><stop offset="0.4038" stop-color="#f39059"/><stop offset="0.4157" stop-color="#f4a26b"/><stop offset="0.4276" stop-color="#f6b581"/><stop offset="0.4394" stop-color="#f7c08d"/><stop offset="0.4513" stop-color="#f7c391"/><stop offset="0.4632" stop-color="#f7bf8d"/><stop offset="0.4751" stop-color="#f5af79"/><stop offset="0.4869" stop-color="#f3935c"/><stop offset="0.4988" stop-color="#f38c55"/><stop offset="0.5107" stop-color="#f49f68"/><stop offset="0.5226" stop-color="#f6ba87"/><stop offset="0.5344" stop-color="#f7c391"/><stop offset="0.5463" stop-color="#f7c18e"/><stop offset="0.5582" stop-color="#f6b884"/><stop offset="0.5701" stop-color="#f5a56e"/><stop offset="0.5819" stop-color="#f3935c"/><stop offset="0.5938" stop-color="#f37f55"/><stop offset="0.6057" stop-color="#f26555"/><stop offset="0.6176" stop-color="#f04e62"/><stop offset="0.6295" stop-color="#ec387b"/><stop offset="0.6413" stop-color="#e42398"/><stop offset="0.6532" stop-color="#d51bac"/><stop offset="0.6651" stop-color="#c517b7"/><stop offset="0.6770" stop-color="#b412bf"/><stop offset="0.6888" stop-color="#a20ec4"/><stop offset="0.7007" stop-color="#8e0bc7"/><stop offset="0.7126" stop-color="#7609c8"/><stop offset="0.7245" stop-color="#5b05c8"/><stop offset="0.7363" stop-color="#4803c6"/><stop offset="0.7482" stop-color="#3901c4"/><stop offset="0.7601" stop-color="#2d00c0"/><stop offset="0.7720" stop-color="#2300b9"/><stop offset="0.7838" stop-color="#1a00b2"/><stop offset="0.7957" stop-color="#1100ab"/><stop offset="0.8076" stop-color="#0b00a5"/><stop offset="0.8195" stop-color="#0700a0"/><stop offset="0.8314" stop-color="#03009c"/><stop offset="0.8432" stop-color="#000099"/><stop offset="0.8551" stop-color="#000294"/><stop offset="0.8670" stop-color="#00048f"/><stop offset="0.8789" stop-color="#00058a"/><stop offset="0.8907" stop-color="#000786"/><stop offset="0.9026" stop-color="#000784"/><stop offset="0.9145" stop-color="#000883"/><stop offset="0.9264" stop-color="#000982"/><stop offset="0.9382" stop-color="#000982"/><stop offset="0.9501" stop-color="#000a81"/><stop offset="0.9620" stop-color="#000a80"/><stop offset="0.9739" stop-color="#000a80"/><stop offset="0.9857" stop-color="#000b7f"/><stop offset="0.9976" stop-color="#000b7f"/><stop offset="1.0000" stop-color="#000b7f"/></linearGradient>
<linearGradient id="cb" x1="0" x2="0" y1="1" y2="0"><stop offset="0.0000" stop-color="#000c7d"/><stop offset="0.0339" stop-color="#000785"/><stop offset="0.0847" stop-color="#000099"/><stop offset="0.1355" stop-color="#1600b0"/><stop offset="0.2033" stop-color="#3200c3"/><stop offset="0.2710" stop-color="#5a05c8"/><stop offset="0.3388" stop-color="#820ac8"/><stop offset="0.4065" stop-color="#aa0fc3"/><stop offset="0.4743" stop-color="#cd19b4"/><stop offset="0.5149" stop-color="#e11ea0"/><stop offset="0.5759" stop-color="#eb3282"/><stop offset="0.6436" stop-color="#f04b64"/><stop offset="0.7114" stop-color="#f26455"/><stop offset="0.8130" stop-color="#f38c55"/><stop offset="0.8808" stop-color="#f5aa73"/><stop offset="0.9485" stop-color="#f7c391"/><stop offset="1.0000" stop-color="#f9d2a5"/></linearGradient>
</defs>
<rect width="665" height="864" fill="#fff"/>
<rect x="124.0" y="442.80" width="421.0" height="8.60" fill="url(#g0)"/>
<rect x="124.0" y="450.80" width="421.0" height="8.60" fill="url(#g1)"/>
<rect x="124.0" y="458.80" width="421.0" height="8.60" fill="url(#g2)"/>
<rect x="124.0" y="466.80" width="421.0" height="8.60" fill="url(#g3)"/>
<rect x="124.0" y="474.80" width="421.0" height="8.60" fill="url(#g4)"/>
<rect x="124.0" y="482.80" width="421.0" height="8.60" fill="url(#g5)"/>
<rect x="124.0" y="490.80" width="421.0" height="8.60" fill="url(#g6)"/>
<rect x="124.0" y="498.80" width="421.0" height="8.60" fill="url(#g7)"/>
<rect x="124.0" y="506.80" width="421.0" height="8.60" fill="url(#g8)"/>
<rect x="124.0" y="514.80" width="421.0" height="8.60" fill="url(#g9)"/>
<rect x="124.0" y="522.80" width="421.0" height="8.60" fill="url(#g10)"/>
<rect x="124.0" y="530.80" width="421.0" height="8.60" fill="url(#g11)"/>
<rect x="124.0" y="538.80" width="421.0" height="8.60" fill="url(#g12)"/>
<rect x="124.0" y="546.80" width="421.0" height="8.60" fill="url(#g13)"/>
<rect x="124.0" y="554.80" width="421.0" height="8.60" fill="url(#g14)"/>
<rect x="124.0" y="562.80" width="421.0" height="8.60" fill="url(#g15)"/>
<rect x="124.0" y="570.80" width="421.0" height="8.60" fill="url(#g16)"/>
<rect x="124.0" y="578.80" width="421.0" height="8.60" fill="url(#g17)"/>
<rect x="124.0" y="586.80" width="421.0" height="8.60" fill="url(#g18)"/>
<rect x="124.0" y="594.80" width="421.0" height="8.60" fill="url(#g19)"/>
<rect x="124.0" y="602.80" width="421.0" height="8.60" fill="url(#g20)"/>
<rect x="124.0" y="610.80" width="421.0" height="8.60" fill="url(#g21)"/>
<rect x="124.0" y="618.80" width="421.0" height="8.60" fill="url(#g22)"/>
<rect x="124.0" y="626.80" width="421.0" height="8.60" fill="url(#g23)"/>
<rect x="124.0" y="634.80" width="421.0" height="8.60" fill="url(#g24)"/>
<rect x="124.0" y="642.80" width="421.0" height="8.60" fill="url(#g25)"/>
<rect x="124.0" y="650.80" width="421.0" height="8.60" fill="url(#g26)"/>
<rect x="124.0" y="658.80" width="421.0" height="8.60" fill="url(#g27)"/>
<rect x="124.0" y="666.80" width="421.0" height="8.60" fill="url(#g28)"/>
<rect x="124.0" y="674.80" width="421.0" height="8.60" fill="url(#g29)"/>
<rect x="124.0" y="682.80" width="421.0" height="8.60" fill="url(#g30)"/>
<rect x="124.0" y="690.80" width="421.0" height="8.60" fill="url(#g31)"/>
<rect x="124.0" y="698.80" width="421.0" height="8.60" fill="url(#g32)"/>
<rect x="124.0" y="706.80" width="421.0" height="8.60" fill="url(#g33)"/>
<rect x="124.0" y="714.80" width="421.0" height="8.60" fill="url(#g34)"/>
<rect x="124.0" y="722.80" width="421.0" height="8.60" fill="url(#g35)"/>
<rect x="124.0" y="730.80" width="421.0" height="8.60" fill="url(#g36)"/>
<rect x="124.0" y="738.80" width="421.0" height="8.60" fill="url(#g37)"/>
<rect x="124.0" y="746.80" width="421.0" height="8.60" fill="url(#g38)"/>
<rect x="124.0" y="754.80" width="421.0" height="8.60" fill="url(#g39)"/>
<rect x="124.0" y="762.80" width="421.0" height="8.60" fill="url(#g40)"/>
<rect x="124.0" y="770.80" width="421.0" height="8.60" fill="url(#g41)"/>
<rect x="124.0" y="778.80" width="421.0" height="5.70" fill="url(#g42)"/>
<!-- ================= panel letters ================= -->
<g font-family="'Liberation Sans', sans-serif" fill="#000">
<text x="1" y="51.5" font-size="39.5" textLength="18.6" lengthAdjust="spacingAndGlyphs">a</text>
<text x="0" y="472.2" font-size="39.5" textLength="20.2" lengthAdjust="spacingAndGlyphs">b</text>
</g>

<!-- ================= panel a: level diagram ================= -->
<g stroke="#000" stroke-width="4.6" stroke-linecap="round" fill="none">
<line x1="176.4" y1="47.8" x2="363" y2="47.8"/>
<line x1="362.5" y1="219.4" x2="501.6" y2="219.4"/>
<line x1="362.5" y1="266.9" x2="501.6" y2="266.9"/>
<line x1="176.4" y1="334.4" x2="362.5" y2="334.4"/>
<line x1="176.4" y1="381.8" x2="362.5" y2="381.8"/>
</g>
<!-- white halos where arrows cross levels -->
<g stroke="#fff" stroke-width="10.4" fill="none">
<line x1="196.4" y1="326" x2="196.4" y2="343"/>
<line x1="246.3" y1="326" x2="245" y2="343"/>
<line x1="442.7" y1="211" x2="456.1" y2="228"/>
<line x1="322.6" y1="326" x2="312.7" y2="343"/>
</g>
<defs>
<path id="ah" d="M0.3,0 L-9.9,-4.4 L-8.2,0 L-9.9,4.4 Z"/>
</defs>
<!-- blue -->
<g stroke="#03128a" stroke-width="1.75" fill="none">
<line x1="196.4" y1="58" x2="196.4" y2="372"/>
</g>
<g fill="#03128a">
<use href="#ah" transform="translate(196.4,53) rotate(-90)"/>
<use href="#ah" transform="translate(196.4,376.7) rotate(90)"/>
</g>
<!-- magenta -->
<g stroke="#b80570" stroke-width="1.75" fill="none">
<line x1="267.8" y1="52" x2="243.0" y2="371"/>
<line x1="267.8" y1="52" x2="268" y2="323"/>
<line x1="317.9" y1="52.7" x2="380" y2="209"/>
<line x1="317.9" y1="52.7" x2="479.3" y2="257.3"/>
</g>
<g fill="#b80570">
<use href="#ah" transform="translate(242.6,376.8) rotate(94.4)"/>
<use href="#ah" transform="translate(268,328.9) rotate(90)"/>
<use href="#ah" transform="translate(382,214) rotate(68.33)"/>
<use href="#ah" transform="translate(482.7,261.7) rotate(51.74)"/>
</g>
<!-- cyan -->
<g stroke="#45acf4" stroke-width="1.75" fill="none">
<line x1="382.4" y1="224.3" x2="296.6" y2="325"/>
<line x1="382.4" y1="224.3" x2="296" y2="372.5"/>
<line x1="483.2" y1="272" x2="348.5" y2="327.5"/>
<line x1="483.2" y1="272" x2="347.6" y2="373.8"/>
</g>
<g fill="#45acf4">
<use href="#ah" transform="translate(293.1,329.2) rotate(130.4)"/>
<use href="#ah" transform="translate(293.4,377) rotate(120.2)"/>
<use href="#ah" transform="translate(343.2,329.6) rotate(157.6)"/>
<use href="#ah" transform="translate(343.5,377) rotate(143.1)"/>
</g>

<!-- kets -->
<defs>
<g id="ket" stroke="#000" stroke-width="1.75" fill="none" stroke-linecap="butt" stroke-linejoin="miter">
<line x1="0" y1="-19.8" x2="0" y2="19.8"/>
<polyline points="31.0,-19.9 39.7,0 31.0,19.9"/>
</g>
</defs>
<g font-family="'Liberation Serif', serif" font-size="42" fill="#000" stroke="#000" stroke-width="0.45">
<use href="#ket" transform="translate(377,47.8)"/><text x="382.5" y="58.4" textLength="22.3" lengthAdjust="spacingAndGlyphs">5</text>
<use href="#ket" transform="translate(516.2,219.4)"/><text x="522.4" y="230.0" textLength="22.3" lengthAdjust="spacingAndGlyphs">4</text>
<use href="#ket" transform="translate(516.2,266.9)"/><text x="521.7" y="277.5" textLength="22.3" lengthAdjust="spacingAndGlyphs">3</text>
<use href="#ket" transform="translate(123,334.4)"/><text x="129.3" y="345.0" textLength="22.3" lengthAdjust="spacingAndGlyphs">2</text>
<use href="#ket" transform="translate(123,381.8)"/><text x="129.3" y="392.4" textLength="22.3" lengthAdjust="spacingAndGlyphs">1</text>
</g>

<!-- math labels -->
<defs>
<path id="gam" d="M0.2,-6.3 C1.6,-10.3 4.2,-12.2 6.8,-12.2 C10.2,-12.2 11.6,-7.5 12.0,-2.6 L16.6,-11.9 L17.6,-11.9 L12.1,0.4 L11.0,5.6 L9.6,5.6 L10.6,-0.5 C10.4,-5.5 9.2,-9.8 6.2,-9.8 C4.2,-9.8 2.2,-8.4 1.0,-6.0 Z"/>
</defs>
<g font-family="'Liberation Serif', serif" font-size="20.2" stroke-width="0.3">
<g fill="#b80570" stroke="#b80570">
<use href="#gam" transform="translate(205.8,218.2)"/><text x="223.1" y="222.6" textLength="24.4" lengthAdjust="spacingAndGlyphs">15</text>
<use href="#gam" transform="translate(273.8,194.3)"/><text x="291.1" y="198.7" textLength="24.4" lengthAdjust="spacingAndGlyphs">25</text>
<use href="#gam" transform="translate(299.5,136.6)"/><text x="316.8" y="141.0" textLength="24.4" lengthAdjust="spacingAndGlyphs">45</text>
<use href="#gam" transform="translate(405.2,160.5)"/><text x="422.5" y="164.9" textLength="24.4" lengthAdjust="spacingAndGlyphs">35</text>
</g>
<g fill="#45acf4" stroke="#45acf4">
<use href="#gam" transform="translate(282.2,280.3)"/><text x="299.5" y="284.7" textLength="24.4" lengthAdjust="spacingAndGlyphs">24</text>
<use href="#gam" transform="translate(377.4,253.7)"/><text x="394.7" y="258.1" textLength="24.4" lengthAdjust="spacingAndGlyphs">14</text>
<use href="#gam" transform="translate(349.1,304.0)"/><text x="366.4" y="308.4" textLength="24.4" lengthAdjust="spacingAndGlyphs">23</text>
<use href="#gam" transform="translate(392.2,354.4)"/><text x="409.5" y="358.8" textLength="24.4" lengthAdjust="spacingAndGlyphs">13</text>
</g>
<g fill="#03128a" stroke="#03128a" stroke-width="0.15">
<text x="146.8" y="222.3" font-size="28.8" textLength="24" lengthAdjust="spacingAndGlyphs">Ω</text>
<text x="172" y="226.6" font-size="19.6" font-style="italic" textLength="16.2" lengthAdjust="spacingAndGlyphs">L</text>
</g>
</g>

<!-- ================= panel b: axes ================= -->
<rect x="124" y="442.8" width="421" height="341.7" fill="none" stroke="#000" stroke-width="1.7"/>
<g stroke="#000" stroke-width="1.7">
<!-- x ticks -->
<line x1="124" y1="784.5" x2="124" y2="790.7"/>
<line x1="194.17" y1="784.5" x2="194.17" y2="790.7"/>
<line x1="264.33" y1="784.5" x2="264.33" y2="790.7"/>
<line x1="334.5" y1="784.5" x2="334.5" y2="790.7"/>
<line x1="404.67" y1="784.5" x2="404.67" y2="790.7"/>
<line x1="474.83" y1="784.5" x2="474.83" y2="790.7"/>
<line x1="545" y1="784.5" x2="545" y2="790.7"/>
<!-- y ticks -->
<line x1="117.8" y1="442.8" x2="124" y2="442.8"/>
<line x1="117.8" y1="528.2" x2="124" y2="528.2"/>
<line x1="117.8" y1="613.65" x2="124" y2="613.65"/>
<line x1="117.8" y1="699.1" x2="124" y2="699.1"/>
<line x1="117.8" y1="784.5" x2="124" y2="784.5"/>
<!-- colorbar ticks -->
<line x1="589" y1="460.5" x2="595" y2="460.5"/>
<line x1="589" y1="506.85" x2="595" y2="506.85"/>
<line x1="589" y1="553.2" x2="595" y2="553.2"/>
<line x1="589" y1="599.55" x2="595" y2="599.55"/>
<line x1="589" y1="645.9" x2="595" y2="645.9"/>
<line x1="589" y1="692.25" x2="595" y2="692.25"/>
<line x1="589" y1="738.6" x2="595" y2="738.6"/>
</g>
<rect x="571.8" y="442.8" width="17.2" height="341.7" fill="url(#cb)" stroke="#000" stroke-width="1.7"/>

<g font-family="'Liberation Sans', sans-serif" font-size="21.7" fill="#000" stroke="#000" stroke-width="0.35">
<!-- y tick labels -->
<g text-anchor="end">
<text x="112" y="451.30" textLength="46.4" lengthAdjust="spacingAndGlyphs">0.20</text>
<text x="112" y="536.70" textLength="46.4" lengthAdjust="spacingAndGlyphs">0.15</text>
<text x="112" y="622.15" textLength="46.4" lengthAdjust="spacingAndGlyphs">0.10</text>
<text x="112" y="707.60" textLength="46.4" lengthAdjust="spacingAndGlyphs">0.05</text>
<text x="112" y="793.00" textLength="46.4" lengthAdjust="spacingAndGlyphs">0.00</text>
</g>
<!-- x tick labels -->
<g text-anchor="middle">
<text x="124" y="812.4" textLength="13.2" lengthAdjust="spacingAndGlyphs">0</text>
<text x="194.17" y="812.4" textLength="26.5" lengthAdjust="spacingAndGlyphs">30</text>
<text x="264.33" y="812.4" textLength="26.5" lengthAdjust="spacingAndGlyphs">60</text>
<text x="334.5" y="812.4" textLength="26.5" lengthAdjust="spacingAndGlyphs">90</text>
<text x="404.67" y="812.4" textLength="39.7" lengthAdjust="spacingAndGlyphs">120</text>
<text x="474.83" y="812.4" textLength="39.7" lengthAdjust="spacingAndGlyphs">150</text>
<text x="545" y="812.4" textLength="39.7" lengthAdjust="spacingAndGlyphs">180</text>
</g>
<!-- colorbar tick labels -->
<text x="600.3" y="468.70" textLength="26.5" lengthAdjust="spacingAndGlyphs">14</text>
<text x="600.3" y="515.05" textLength="26.5" lengthAdjust="spacingAndGlyphs">12</text>
<text x="600.3" y="561.40" textLength="26.5" lengthAdjust="spacingAndGlyphs">10</text>
<text x="600.3" y="607.75" textLength="13.2" lengthAdjust="spacingAndGlyphs">8</text>
<text x="600.3" y="654.10" textLength="13.2" lengthAdjust="spacingAndGlyphs">6</text>
<text x="600.3" y="700.45" textLength="13.2" lengthAdjust="spacingAndGlyphs">4</text>
<text x="600.3" y="746.80" textLength="13.2" lengthAdjust="spacingAndGlyphs">2</text>
</g>

<!-- axis labels -->
<g font-family="'Liberation Sans', sans-serif" font-size="24.6" fill="#000">
<!-- x label -->
<text x="259.5" y="842.4" font-style="italic" textLength="15" lengthAdjust="spacingAndGlyphs">θ</text>
<text x="274.6" y="846.6" font-style="italic" font-size="17.4" textLength="20" lengthAdjust="spacingAndGlyphs">dc</text>
<text x="301.2" y="842.4" textLength="106" lengthAdjust="spacingAndGlyphs">(Degrees)</text>
<!-- y label -->
<g transform="translate(51.8,702.4) rotate(-90)">
<text x="0" y="0" textLength="62.5" lengthAdjust="spacingAndGlyphs">Strain</text>
<text x="68.8" y="0" font-style="italic" textLength="16" lengthAdjust="spacingAndGlyphs">E</text>
<text x="84.6" y="4.2" font-style="italic" font-size="17.4" textLength="10.2" lengthAdjust="spacingAndGlyphs">x</text>
<text x="101.6" y="0" font-size="25.6" textLength="41" lengthAdjust="spacingAndGlyphs">(10</text>
<text x="142.6" y="-9.4" font-size="18" textLength="24" lengthAdjust="spacingAndGlyphs">−3</text>
<text x="166.2" y="0" font-size="25.6" textLength="9.8" lengthAdjust="spacingAndGlyphs">)</text>
</g>
<!-- colorbar label -->
<g transform="translate(652.4,670.8) rotate(-90)">
<text x="-1.3" y="1.0" font-style="italic" font-size="25" textLength="12.6" lengthAdjust="spacingAndGlyphs">γ</text>
<text x="13.9" y="4.6" font-size="17.4" textLength="25.4" lengthAdjust="spacingAndGlyphs">init</text>
<text x="46.6" y="0" textLength="67.4" lengthAdjust="spacingAndGlyphs">(MHz)</text>
</g>
</g>

</svg>
</body></html>
